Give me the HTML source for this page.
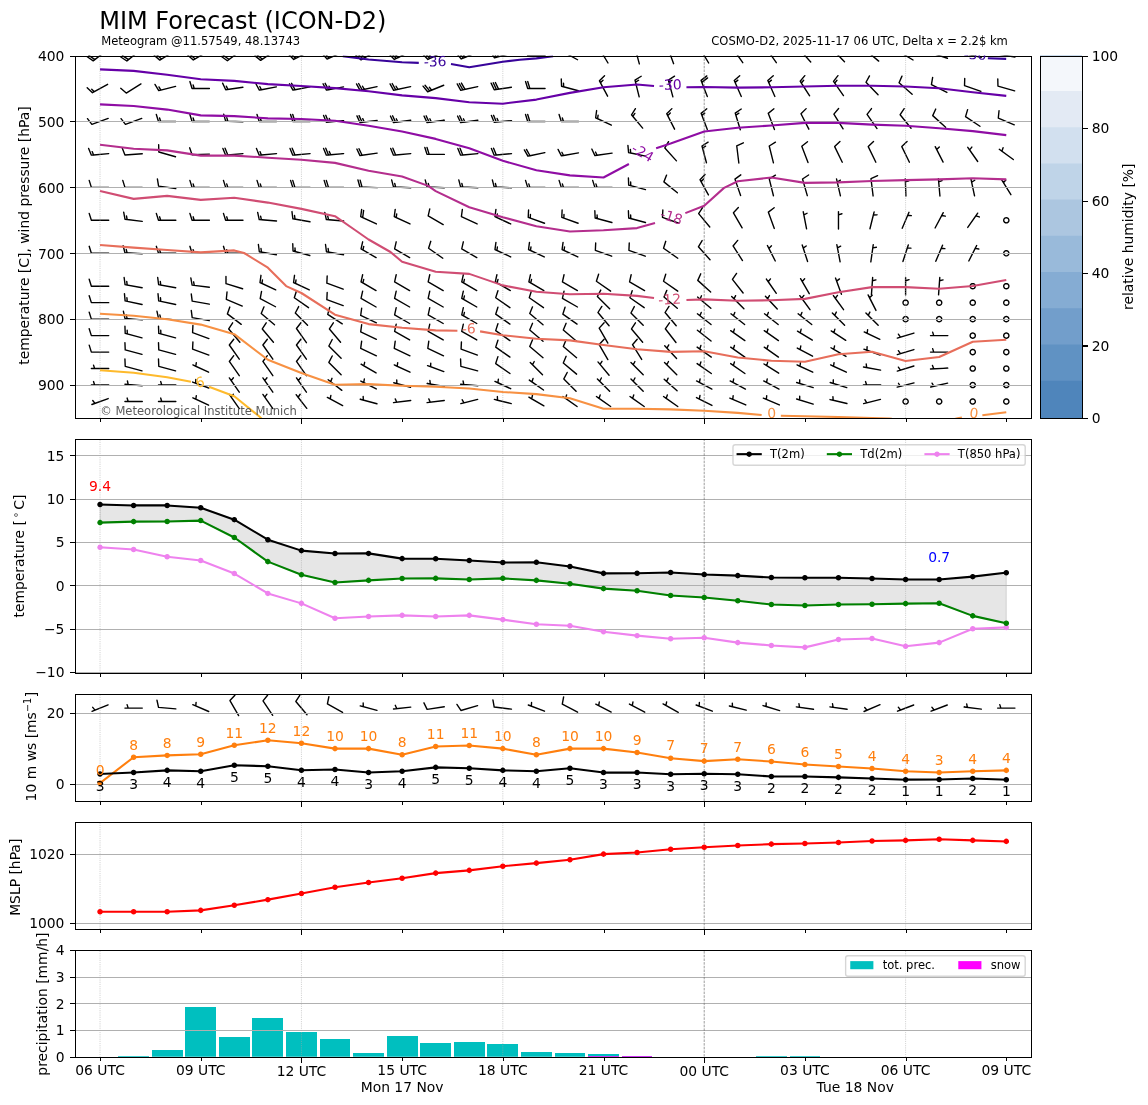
<!DOCTYPE html>
<html><head><meta charset="utf-8"><title>MIM Forecast (ICON-D2)</title><style>html,body{margin:0;padding:0;background:#fff;width:1148px;height:1105px;overflow:hidden}svg{display:block}g[id^="crisp"] path{shape-rendering:crispEdges}</style></head><body>
<svg width="1148" height="1105" viewBox="0 0 826.56 795.6" version="1.1">
 <defs>
  <style type="text/css">*{stroke-linejoin: round; stroke-linecap: butt}</style>
 </defs>
 <g id="figure_1">
  <g id="patch_1">
   <path d="M 0 795.6 L 826.56 795.6 L 826.56 0 L 0 0 z" style="fill: #ffffff"/>
  </g>
  <g id="axes_1">
   <g id="patch_2">
    <path d="M 54 300.96 L 742.32 300.96 L 742.32 39.99 L 54 39.99 z" style="fill: #ffffff"/>
   </g>
   <g id="Barbs_1">
    <path d="M 76.96 36.14 L 67.11 43.84 L 62.80 40.86 L 67.11 43.84 L 68.34 42.88 L 64.03 39.90 L 68.34 42.88 z" clip-path="url(#p112c683f5e)" style="stroke: #000000"/>
    <path d="M 101.05 36.06 L 91.34 43.92 L 86.98 41.02 L 91.34 43.92 L 92.55 42.94 L 88.19 40.04 L 92.55 42.94 z" clip-path="url(#p112c683f5e)" style="stroke: #000000"/>
    <path d="M 125.66 36.68 L 115.06 43.30 L 111.09 39.89 L 115.06 43.30 L 116.39 42.47 L 112.41 39.06 L 116.39 42.47 z" clip-path="url(#p112c683f5e)" style="stroke: #000000"/>
    <path d="M 149.89 36.77 L 139.17 43.21 L 135.26 39.73 L 139.17 43.21 L 140.51 42.41 L 136.60 38.92 L 140.51 42.41 z" clip-path="url(#p112c683f5e)" style="stroke: #000000"/>
    <path d="M 173.69 36.23 L 163.71 43.75 L 159.45 40.70 L 163.71 43.75 L 164.95 42.81 L 160.70 39.76 L 164.95 42.81 z" clip-path="url(#p112c683f5e)" style="stroke: #000000"/>
    <path d="M 198.05 36.50 L 187.68 43.49 L 183.59 40.21 L 187.68 43.49 L 188.98 42.61 L 184.89 39.34 L 188.98 42.61 z" clip-path="url(#p112c683f5e)" style="stroke: #000000"/>
    <path d="M 222.60 37.15 L 211.46 42.83 L 207.80 39.08 L 211.46 42.83 L 212.86 42.12 L 209.19 38.37 L 212.86 42.12 z" clip-path="url(#p112c683f5e)" style="stroke: #000000"/>
    <path d="M 246.91 37.45 L 235.49 42.53 L 232.03 38.60 L 235.49 42.53 L 236.92 41.90 L 233.46 37.97 L 236.92 41.90 z" clip-path="url(#p112c683f5e)" style="stroke: #000000"/>
    <path d="M 270.78 36.87 L 259.95 43.12 L 256.10 39.57 L 259.95 43.12 L 261.31 42.33 L 257.45 38.79 L 261.31 42.33 L 262.66 41.55 L 260.73 39.78 L 262.66 41.55 z" clip-path="url(#p112c683f5e)" style="stroke: #000000"/>
    <path d="M 295.10 37.15 L 283.96 42.83 L 280.30 39.08 L 283.96 42.83 L 285.36 42.12 L 281.69 38.37 L 285.36 42.12 L 286.75 41.41 L 284.92 39.54 L 286.75 41.41 z" clip-path="url(#p112c683f5e)" style="stroke: #000000"/>
    <path d="M 319.27 37.15 L 308.13 42.83 L 304.47 39.08 L 308.13 42.83 L 309.52 42.12 L 305.86 38.37 L 309.52 42.12 L 310.91 41.41 L 309.08 39.54 L 310.91 41.41 z" clip-path="url(#p112c683f5e)" style="stroke: #000000"/>
    <path d="M 343.62 37.55 L 332.11 42.43 L 328.72 38.44 L 332.11 42.43 L 333.55 41.82 L 330.16 37.83 L 333.55 41.82 L 334.99 41.21 L 333.29 39.22 L 334.99 41.21 z" clip-path="url(#p112c683f5e)" style="stroke: #000000"/>
    <path d="M 368.07 38.37 L 356.00 41.61 L 353.19 37.18 L 356.00 41.61 L 357.50 41.20 L 354.70 36.78 L 357.50 41.20 L 359.01 40.80 L 357.61 38.59 L 359.01 40.80 z" clip-path="url(#p112c683f5e)" style="stroke: #000000"/>
    <path d="M 392.45 39.99 L 379.95 39.99 L 378.39 34.99 L 379.95 39.99 L 381.51 39.99 L 379.95 34.99 L 381.51 39.99 z" clip-path="url(#p112c683f5e)" style="stroke: #000000"/>
    <path d="M 415.83 43.02 L 404.90 36.96 L 405.96 31.83 L 404.90 36.96 L 406.27 37.72 L 406.80 35.15 L 406.27 37.72 z" clip-path="url(#p112c683f5e)" style="stroke: #000000"/>
    <path d="M 437.75 45.35 L 431.31 34.63 L 434.80 30.72 L 431.31 34.63 L 432.12 35.97 L 433.86 34.02 L 432.12 35.97 z" clip-path="url(#p112c683f5e)" style="stroke: #000000"/>
    <path d="M 460.32 46.03 L 457.08 33.95 L 461.51 31.15 L 457.08 33.95 L 457.49 35.46 L 459.70 34.06 L 457.49 35.46 z" clip-path="url(#p112c683f5e)" style="stroke: #000000"/>
    <path d="M 485.00 45.86 L 480.73 34.12 L 484.89 30.94 L 480.73 34.12 L 481.26 35.59 L 483.35 34.00 L 481.26 35.59 z" clip-path="url(#p112c683f5e)" style="stroke: #000000"/>
    <path d="M 510.25 45.35 L 503.81 34.63 L 507.30 30.72 L 503.81 34.63 L 504.62 35.97 L 506.36 34.02 L 504.62 35.97 z" clip-path="url(#p112c683f5e)" style="stroke: #000000"/>
    <path d="M 534.79 45.11 L 527.62 34.87 L 530.81 30.72 L 527.62 34.87 L 528.51 36.15 L 530.11 34.08 L 528.51 36.15 z" clip-path="url(#p112c683f5e)" style="stroke: #000000"/>
    <path d="M 558.95 45.11 L 551.78 34.87 L 554.98 30.72 L 551.78 34.87 L 552.68 36.15 L 554.28 34.08 L 552.68 36.15 z" clip-path="url(#p112c683f5e)" style="stroke: #000000"/>
    <path d="M 583.72 44.64 L 575.35 35.35 L 578.02 30.84 L 575.35 35.35 L 576.40 36.51 L 577.73 34.25 L 576.40 36.51 z" clip-path="url(#p112c683f5e)" style="stroke: #000000"/>
    <path d="M 608.04 44.49 L 599.36 35.50 L 601.87 30.90 L 599.36 35.50 L 600.44 36.62 L 601.70 34.32 L 600.44 36.62 z" clip-path="url(#p112c683f5e)" style="stroke: #000000"/>
    <path d="M 632.66 44.01 L 623.08 35.97 L 625.10 31.14 L 623.08 35.97 L 624.28 36.98 L 625.29 34.56 L 624.28 36.98 z" clip-path="url(#p112c683f5e)" style="stroke: #000000"/>
    <path d="M 657.39 43.21 L 646.68 36.77 L 647.91 31.68 L 646.68 36.77 L 648.02 37.58 L 648.63 35.03 L 648.02 37.58 z" clip-path="url(#p112c683f5e)" style="stroke: #000000"/>
    <path d="M 682.15 41.92 L 670.26 38.06 L 670.32 32.82 L 670.26 38.06 L 671.74 38.54 L 671.77 35.92 L 671.74 38.54 z" clip-path="url(#p112c683f5e)" style="stroke: #000000"/>
    <path d="M 706.48 41.29 L 694.25 38.69 L 693.77 33.48 L 694.25 38.69 L 695.78 39.02 L 695.54 36.41 L 695.78 39.02 z" clip-path="url(#p112c683f5e)" style="stroke: #000000"/>
    <path d="M 730.69 41.08 L 718.38 38.91 L 717.71 33.71 L 718.38 38.91 L 719.92 39.18 L 719.58 36.58 L 719.92 39.18 z" clip-path="url(#p112c683f5e)" style="stroke: #000000"/>
    <path d="M 77.50 60.68 L 66.56 66.75 L 62.77 63.13 L 66.56 66.75 L 67.93 65.99 L 66.04 64.18 L 67.93 65.99 z" clip-path="url(#p112c683f5e)" style="stroke: #000000"/>
    <path d="M 101.50 60.40 L 90.90 67.03 L 86.92 63.61 L 90.90 67.03 z" clip-path="url(#p112c683f5e)" style="stroke: #000000"/>
    <path d="M 126.43 62.20 L 114.30 65.23 L 111.57 60.75 L 114.30 65.23 L 115.82 64.85 L 114.45 62.61 L 115.82 64.85 z" clip-path="url(#p112c683f5e)" style="stroke: #000000"/>
    <path d="M 150.78 63.72 L 138.28 63.72 L 136.72 58.72 L 138.28 63.72 L 139.84 63.72 L 139.06 61.22 L 139.84 63.72 z" clip-path="url(#p112c683f5e)" style="stroke: #000000"/>
    <path d="M 174.89 62.85 L 162.51 64.58 L 160.27 59.85 L 162.51 64.58 L 164.06 64.37 L 162.93 62.00 L 164.06 64.37 z" clip-path="url(#p112c683f5e)" style="stroke: #000000"/>
    <path d="M 199.00 62.52 L 186.73 64.91 L 184.24 60.30 L 186.73 64.91 L 188.26 64.61 L 187.02 62.30 L 188.26 64.61 z" clip-path="url(#p112c683f5e)" style="stroke: #000000"/>
    <path d="M 223.17 62.52 L 210.90 64.91 L 208.41 60.30 L 210.90 64.91 L 212.43 64.61 L 209.94 60.00 L 212.43 64.61 z" clip-path="url(#p112c683f5e)" style="stroke: #000000"/>
    <path d="M 247.33 62.52 L 235.06 64.91 L 232.58 60.30 L 235.06 64.91 L 236.60 64.61 L 234.11 60.00 L 236.60 64.61 L 238.13 64.31 L 236.89 62.01 L 238.13 64.31 z" clip-path="url(#p112c683f5e)" style="stroke: #000000"/>
    <path d="M 271.48 62.42 L 259.25 65.01 L 256.68 60.45 L 259.25 65.01 L 260.78 64.69 L 258.21 60.12 L 260.78 64.69 L 262.31 64.36 L 261.02 62.08 L 262.31 64.36 z" clip-path="url(#p112c683f5e)" style="stroke: #000000"/>
    <path d="M 295.65 62.42 L 283.42 65.01 L 280.85 60.45 L 283.42 65.01 L 284.95 64.69 L 282.38 60.12 L 284.95 64.69 L 286.48 64.36 L 285.19 62.08 L 286.48 64.36 z" clip-path="url(#p112c683f5e)" style="stroke: #000000"/>
    <path d="M 319.49 61.37 L 307.90 66.06 L 304.58 62.01 L 307.90 66.06 L 309.35 65.47 L 306.03 61.42 L 309.35 65.47 L 310.80 64.89 L 309.14 62.86 L 310.80 64.89 z" clip-path="url(#p112c683f5e)" style="stroke: #000000"/>
    <path d="M 343.98 62.42 L 331.75 65.01 L 329.18 60.45 L 331.75 65.01 L 333.28 64.69 L 330.71 60.12 L 333.28 64.69 L 334.81 64.36 L 332.24 59.80 L 334.81 64.36 z" clip-path="url(#p112c683f5e)" style="stroke: #000000"/>
    <path d="M 368.22 62.85 L 355.84 64.58 L 353.60 59.85 L 355.84 64.58 L 357.39 64.37 L 355.15 59.63 L 357.39 64.37 L 358.94 64.15 L 356.69 59.42 L 358.94 64.15 z" clip-path="url(#p112c683f5e)" style="stroke: #000000"/>
    <path d="M 392.45 63.72 L 379.95 63.72 L 378.39 58.72 L 379.95 63.72 L 381.51 63.72 L 379.95 58.72 L 381.51 63.72 z" clip-path="url(#p112c683f5e)" style="stroke: #000000"/>
    <path d="M 416.40 65.33 L 404.33 62.10 L 404.11 56.86 L 404.33 62.10 L 405.84 62.50 L 405.73 59.88 L 405.84 62.50 z" clip-path="url(#p112c683f5e)" style="stroke: #000000"/>
    <path d="M 437.47 69.23 L 431.60 58.20 L 435.28 54.47 L 431.60 58.20 L 432.33 59.58 L 434.17 57.71 L 432.33 59.58 z" clip-path="url(#p112c683f5e)" style="stroke: #000000"/>
    <path d="M 460.21 69.78 L 457.19 57.65 L 461.66 54.92 L 457.19 57.65 L 457.57 59.17 L 459.80 57.80 L 457.57 59.17 z" clip-path="url(#p112c683f5e)" style="stroke: #000000"/>
    <path d="M 484.48 69.75 L 481.25 57.68 L 485.67 54.87 L 481.25 57.68 L 481.65 59.19 L 483.87 57.79 L 481.65 59.19 z" clip-path="url(#p112c683f5e)" style="stroke: #000000"/>
    <path d="M 509.27 69.55 L 504.79 57.88 L 508.90 54.63 L 504.79 57.88 L 505.35 59.34 L 509.46 56.09 L 505.35 59.34 z" clip-path="url(#p112c683f5e)" style="stroke: #000000"/>
    <path d="M 533.74 69.42 L 528.66 58.01 L 532.59 54.54 L 528.66 58.01 L 529.29 59.43 L 531.26 57.70 L 529.29 59.43 z" clip-path="url(#p112c683f5e)" style="stroke: #000000"/>
    <path d="M 557.91 69.42 L 552.82 58.01 L 556.76 54.54 L 552.82 58.01 L 553.46 59.43 L 555.43 57.70 L 553.46 59.43 z" clip-path="url(#p112c683f5e)" style="stroke: #000000"/>
    <path d="M 582.94 68.96 L 576.13 58.47 L 579.47 54.44 L 576.13 58.47 L 576.98 59.78 L 578.65 57.77 L 576.98 59.78 z" clip-path="url(#p112c683f5e)" style="stroke: #000000"/>
    <path d="M 607.29 68.83 L 600.12 58.60 L 603.32 54.45 L 600.12 58.60 L 601.01 59.88 L 602.61 57.80 L 601.01 59.88 z" clip-path="url(#p112c683f5e)" style="stroke: #000000"/>
    <path d="M 632.21 68.21 L 623.53 59.22 L 626.04 54.62 L 623.53 59.22 z" clip-path="url(#p112c683f5e)" style="stroke: #000000"/>
    <path d="M 656.75 67.82 L 647.32 59.61 L 649.42 54.82 L 647.32 59.61 z" clip-path="url(#p112c683f5e)" style="stroke: #000000"/>
    <path d="M 681.77 66.55 L 670.63 60.88 L 671.51 55.71 L 670.63 60.88 z" clip-path="url(#p112c683f5e)" style="stroke: #000000"/>
    <path d="M 706.28 65.75 L 694.46 61.68 L 694.61 56.44 L 694.46 61.68 z" clip-path="url(#p112c683f5e)" style="stroke: #000000"/>
    <path d="M 730.54 65.44 L 718.53 61.99 L 718.40 56.76 L 718.53 61.99 z" clip-path="url(#p112c683f5e)" style="stroke: #000000"/>
    <path d="M 77.90 85.30 L 66.16 89.58 L 62.98 85.41 L 66.16 89.58 z" clip-path="url(#p112c683f5e)" style="stroke: #000000"/>
    <path d="M 102.07 85.30 L 90.32 89.58 L 87.15 85.41 L 90.32 89.58 z" clip-path="url(#p112c683f5e)" style="stroke: #000000"/>
    <path d="M 126.61 87.44 L 114.11 87.44 L 112.55 82.44 L 114.11 87.44 L 115.68 87.44 L 114.90 84.94 L 115.68 87.44 z" clip-path="url(#p112c683f5e)" style="stroke: #000000"/>
    <path d="M 150.78 87.44 L 138.28 87.44 L 136.72 82.44 L 138.28 87.44 L 139.84 87.44 L 139.06 84.94 L 139.84 87.44 z" clip-path="url(#p112c683f5e)" style="stroke: #000000"/>
    <path d="M 174.94 87.66 L 162.45 87.22 L 161.06 82.17 L 162.45 87.22 L 164.01 87.28 L 163.32 84.75 L 164.01 87.28 z" clip-path="url(#p112c683f5e)" style="stroke: #000000"/>
    <path d="M 199.12 87.44 L 186.62 87.44 L 185.05 82.44 L 186.62 87.44 L 188.18 87.44 L 187.40 84.94 L 188.18 87.44 z" clip-path="url(#p112c683f5e)" style="stroke: #000000"/>
    <path d="M 223.28 87.44 L 210.78 87.44 L 209.22 82.44 L 210.78 87.44 L 212.34 87.44 L 210.78 82.44 L 212.34 87.44 z" clip-path="url(#p112c683f5e)" style="stroke: #000000"/>
    <path d="M 247.42 86.89 L 234.97 87.98 L 232.98 83.14 L 234.97 87.98 L 236.53 87.85 L 234.54 83.00 L 236.53 87.85 L 238.09 87.71 L 237.09 85.29 L 238.09 87.71 z" clip-path="url(#p112c683f5e)" style="stroke: #000000"/>
    <path d="M 271.57 86.68 L 259.16 88.20 L 257.00 83.43 L 259.16 88.20 L 260.71 88.01 L 258.55 83.24 L 260.71 88.01 L 262.26 87.82 L 261.18 85.43 L 262.26 87.82 z" clip-path="url(#p112c683f5e)" style="stroke: #000000"/>
    <path d="M 295.72 86.57 L 283.34 88.31 L 281.10 83.57 L 283.34 88.31 L 284.89 88.09 L 282.65 83.36 L 284.89 88.09 L 286.44 87.87 L 285.32 85.51 L 286.44 87.87 z" clip-path="url(#p112c683f5e)" style="stroke: #000000"/>
    <path d="M 319.89 86.57 L 307.51 88.31 L 305.27 83.57 L 307.51 88.31 L 309.06 88.09 L 306.81 83.36 L 309.06 88.09 L 310.60 87.87 L 309.48 85.51 L 310.60 87.87 z" clip-path="url(#p112c683f5e)" style="stroke: #000000"/>
    <path d="M 344.05 86.57 L 331.68 88.31 L 329.43 83.57 L 331.68 88.31 L 333.22 88.09 L 330.98 83.36 L 333.22 88.09 L 334.77 87.87 L 333.65 85.51 L 334.77 87.87 z" clip-path="url(#p112c683f5e)" style="stroke: #000000"/>
    <path d="M 368.26 86.89 L 355.81 87.98 L 353.81 83.14 L 355.81 87.98 L 357.36 87.85 L 355.37 83.00 L 357.36 87.85 L 358.92 87.71 L 357.92 85.29 L 358.92 87.71 z" clip-path="url(#p112c683f5e)" style="stroke: #000000"/>
    <path d="M 392.45 87.44 L 379.95 87.44 L 378.39 82.44 L 379.95 87.44 L 381.51 87.44 L 379.95 82.44 L 381.51 87.44 z" clip-path="url(#p112c683f5e)" style="stroke: #000000"/>
    <path d="M 416.62 87.44 L 404.12 87.44 L 402.55 82.44 L 404.12 87.44 L 405.68 87.44 L 404.90 84.94 L 405.68 87.44 z" clip-path="url(#p112c683f5e)" style="stroke: #000000"/>
    <path d="M 440.20 90.08 L 428.87 84.80 L 429.57 79.61 L 428.87 84.80 L 430.28 85.46 L 430.63 82.86 L 430.28 85.46 z" clip-path="url(#p112c683f5e)" style="stroke: #000000"/>
    <path d="M 462.72 92.23 L 454.68 82.65 L 457.51 78.24 L 454.68 82.65 L 455.69 83.85 L 457.10 81.64 L 455.69 83.85 z" clip-path="url(#p112c683f5e)" style="stroke: #000000"/>
    <path d="M 485.70 93.01 L 480.03 81.87 L 483.77 78.21 L 480.03 81.87 L 480.74 83.26 L 482.61 81.43 L 480.74 83.26 z" clip-path="url(#p112c683f5e)" style="stroke: #000000"/>
    <path d="M 509.27 93.27 L 504.79 81.60 L 508.90 78.35 L 504.79 81.60 L 505.35 83.06 L 507.41 81.44 L 505.35 83.06 z" clip-path="url(#p112c683f5e)" style="stroke: #000000"/>
    <path d="M 533.03 93.42 L 529.37 81.46 L 533.70 78.51 L 529.37 81.46 L 529.83 82.96 L 531.99 81.48 L 529.83 82.96 z" clip-path="url(#p112c683f5e)" style="stroke: #000000"/>
    <path d="M 557.61 93.27 L 553.13 81.60 L 557.24 78.35 L 553.13 81.60 z" clip-path="url(#p112c683f5e)" style="stroke: #000000"/>
    <path d="M 582.37 93.01 L 576.70 81.87 L 580.44 78.21 L 576.70 81.87 z" clip-path="url(#p112c683f5e)" style="stroke: #000000"/>
    <path d="M 607.01 92.74 L 600.39 82.14 L 603.80 78.16 L 600.39 82.14 z" clip-path="url(#p112c683f5e)" style="stroke: #000000"/>
    <path d="M 631.45 92.56 L 624.28 82.32 L 627.48 78.17 L 624.28 82.32 z" clip-path="url(#p112c683f5e)" style="stroke: #000000"/>
    <path d="M 655.97 92.30 L 648.10 82.58 L 651.00 78.22 L 648.10 82.58 z" clip-path="url(#p112c683f5e)" style="stroke: #000000"/>
    <path d="M 680.85 91.62 L 671.56 83.26 L 673.74 78.50 L 671.56 83.26 z" clip-path="url(#p112c683f5e)" style="stroke: #000000"/>
    <path d="M 705.55 90.93 L 695.19 83.94 L 696.69 78.93 L 695.19 83.94 z" clip-path="url(#p112c683f5e)" style="stroke: #000000"/>
    <path d="M 730.29 89.88 L 718.78 85.00 L 719.30 79.78 L 718.78 85.00 z" clip-path="url(#p112c683f5e)" style="stroke: #000000"/>
    <path d="M 78.26 110.62 L 65.80 111.71 L 63.81 106.86 L 65.80 111.71 L 67.36 111.57 L 66.37 109.15 L 67.36 111.57 z" clip-path="url(#p112c683f5e)" style="stroke: #000000"/>
    <path d="M 102.43 110.73 L 89.96 111.60 L 88.06 106.72 L 89.96 111.60 z" clip-path="url(#p112c683f5e)" style="stroke: #000000"/>
    <path d="M 126.37 112.89 L 114.36 109.44 L 114.23 104.20 L 114.36 109.44 z" clip-path="url(#p112c683f5e)" style="stroke: #000000"/>
    <path d="M 150.78 110.94 L 138.29 111.38 L 136.55 106.44 L 138.29 111.38 z" clip-path="url(#p112c683f5e)" style="stroke: #000000"/>
    <path d="M 174.92 110.62 L 162.47 111.71 L 160.48 106.86 L 162.47 111.71 L 164.03 111.57 L 162.04 106.73 L 164.03 111.57 z" clip-path="url(#p112c683f5e)" style="stroke: #000000"/>
    <path d="M 199.09 110.62 L 186.64 111.71 L 184.65 106.86 L 186.64 111.71 L 188.20 111.57 L 187.20 109.15 L 188.20 111.57 z" clip-path="url(#p112c683f5e)" style="stroke: #000000"/>
    <path d="M 223.26 110.62 L 210.81 111.71 L 208.81 106.86 L 210.81 111.71 L 212.36 111.57 L 210.37 106.73 L 212.36 111.57 z" clip-path="url(#p112c683f5e)" style="stroke: #000000"/>
    <path d="M 247.42 110.62 L 234.97 111.71 L 232.98 106.86 L 234.97 111.71 L 236.53 111.57 L 234.54 106.73 L 236.53 111.57 L 238.09 111.44 L 237.09 109.01 L 238.09 111.44 z" clip-path="url(#p112c683f5e)" style="stroke: #000000"/>
    <path d="M 271.55 110.29 L 259.18 112.03 L 256.93 107.30 L 259.18 112.03 L 260.72 111.82 L 258.48 107.08 L 260.72 111.82 z" clip-path="url(#p112c683f5e)" style="stroke: #000000"/>
    <path d="M 295.76 110.62 L 283.31 111.71 L 281.31 106.86 L 283.31 111.71 L 284.86 111.57 L 282.87 106.73 L 284.86 111.57 z" clip-path="url(#p112c683f5e)" style="stroke: #000000"/>
    <path d="M 319.95 111.16 L 307.45 111.16 L 305.89 106.16 L 307.45 111.16 L 309.01 111.16 L 307.45 106.16 L 309.01 111.16 z" clip-path="url(#p112c683f5e)" style="stroke: #000000"/>
    <path d="M 344.09 110.62 L 331.64 111.71 L 329.65 106.86 L 331.64 111.71 L 333.20 111.57 L 331.20 106.73 L 333.20 111.57 z" clip-path="url(#p112c683f5e)" style="stroke: #000000"/>
    <path d="M 368.26 110.62 L 355.81 111.71 L 353.81 106.86 L 355.81 111.71 L 357.36 111.57 L 355.37 106.73 L 357.36 111.57 z" clip-path="url(#p112c683f5e)" style="stroke: #000000"/>
    <path d="M 392.31 109.86 L 380.09 112.46 L 377.52 107.90 L 380.09 112.46 L 381.61 112.14 L 379.05 107.57 L 381.61 112.14 z" clip-path="url(#p112c683f5e)" style="stroke: #000000"/>
    <path d="M 416.52 110.08 L 404.21 112.25 L 401.80 107.60 L 404.21 112.25 L 405.75 111.98 L 404.55 109.65 L 405.75 111.98 z" clip-path="url(#p112c683f5e)" style="stroke: #000000"/>
    <path d="M 440.72 110.29 L 428.34 112.03 L 426.10 107.30 L 428.34 112.03 L 429.89 111.82 L 428.77 109.45 L 429.89 111.82 z" clip-path="url(#p112c683f5e)" style="stroke: #000000"/>
    <path d="M 464.81 112.46 L 452.59 109.86 L 452.10 104.65 L 452.59 109.86 L 454.11 110.19 L 453.87 107.58 L 454.11 110.19 z" clip-path="url(#p112c683f5e)" style="stroke: #000000"/>
    <path d="M 487.05 115.81 L 478.68 106.52 L 481.35 102.01 L 478.68 106.52 z" clip-path="url(#p112c683f5e)" style="stroke: #000000"/>
    <path d="M 508.65 117.20 L 505.42 105.13 L 509.84 102.32 L 505.42 105.13 L 505.82 106.64 L 508.03 105.23 L 505.82 106.64 z" clip-path="url(#p112c683f5e)" style="stroke: #000000"/>
    <path d="M 531.96 117.37 L 530.44 104.96 L 535.21 102.80 L 530.44 104.96 z" clip-path="url(#p112c683f5e)" style="stroke: #000000"/>
    <path d="M 556.88 117.23 L 553.85 105.10 L 558.33 102.37 L 553.85 105.10 z" clip-path="url(#p112c683f5e)" style="stroke: #000000"/>
    <path d="M 581.77 117.00 L 577.29 105.33 L 581.40 102.08 L 577.29 105.33 z" clip-path="url(#p112c683f5e)" style="stroke: #000000"/>
    <path d="M 606.44 116.78 L 600.96 105.55 L 604.77 101.95 L 600.96 105.55 z" clip-path="url(#p112c683f5e)" style="stroke: #000000"/>
    <path d="M 630.61 116.78 L 625.13 105.55 L 628.94 101.95 L 625.13 105.55 z" clip-path="url(#p112c683f5e)" style="stroke: #000000"/>
    <path d="M 654.77 116.78 L 649.29 105.55 L 653.10 101.95 L 649.29 105.55 z" clip-path="url(#p112c683f5e)" style="stroke: #000000"/>
    <path d="M 679.04 116.73 L 673.36 105.59 L 674.43 107.68 L 676.30 105.85 L 674.43 107.68 z" clip-path="url(#p112c683f5e)" style="stroke: #000000"/>
    <path d="M 703.95 116.28 L 696.78 106.04 L 698.13 107.96 L 699.73 105.89 L 698.13 107.96 z" clip-path="url(#p112c683f5e)" style="stroke: #000000"/>
    <path d="M 729.59 114.84 L 719.48 107.49 L 721.37 108.87 L 722.21 106.39 L 721.37 108.87 z" clip-path="url(#p112c683f5e)" style="stroke: #000000"/>
    <path d="M 78.28 134.89 L 65.78 134.89 L 64.22 129.89 L 65.78 134.89 z" clip-path="url(#p112c683f5e)" style="stroke: #000000"/>
    <path d="M 102.45 134.89 L 89.95 134.89 L 88.39 129.89 L 89.95 134.89 z" clip-path="url(#p112c683f5e)" style="stroke: #000000"/>
    <path d="M 126.55 135.76 L 114.18 134.02 L 113.32 128.85 L 114.18 134.02 z" clip-path="url(#p112c683f5e)" style="stroke: #000000"/>
    <path d="M 150.78 134.89 L 138.28 134.89 L 136.72 129.89 L 138.28 134.89 L 139.84 134.89 L 139.06 132.39 L 139.84 134.89 z" clip-path="url(#p112c683f5e)" style="stroke: #000000"/>
    <path d="M 174.95 134.89 L 162.45 134.89 L 160.89 129.89 L 162.45 134.89 L 164.01 134.89 L 163.23 132.39 L 164.01 134.89 z" clip-path="url(#p112c683f5e)" style="stroke: #000000"/>
    <path d="M 199.12 134.89 L 186.62 134.89 L 185.05 129.89 L 186.62 134.89 L 188.18 134.89 L 187.40 132.39 L 188.18 134.89 z" clip-path="url(#p112c683f5e)" style="stroke: #000000"/>
    <path d="M 223.28 134.89 L 210.78 134.89 L 209.22 129.89 L 210.78 134.89 L 212.34 134.89 L 210.78 129.89 L 212.34 134.89 z" clip-path="url(#p112c683f5e)" style="stroke: #000000"/>
    <path d="M 247.45 134.89 L 234.95 134.89 L 233.39 129.89 L 234.95 134.89 L 236.51 134.89 L 234.95 129.89 L 236.51 134.89 z" clip-path="url(#p112c683f5e)" style="stroke: #000000"/>
    <path d="M 271.61 135.11 L 259.12 134.67 L 257.73 129.62 L 259.12 134.67 L 260.68 134.72 L 259.29 129.67 L 260.68 134.72 z" clip-path="url(#p112c683f5e)" style="stroke: #000000"/>
    <path d="M 295.77 135.21 L 283.29 134.56 L 281.99 129.48 L 283.29 134.56 L 284.85 134.64 L 284.20 132.10 L 284.85 134.64 z" clip-path="url(#p112c683f5e)" style="stroke: #000000"/>
    <path d="M 319.94 135.21 L 307.46 134.56 L 306.16 129.48 L 307.46 134.56 L 309.02 134.64 L 308.37 132.10 L 309.02 134.64 z" clip-path="url(#p112c683f5e)" style="stroke: #000000"/>
    <path d="M 344.11 135.21 L 331.62 134.56 L 330.33 129.48 L 331.62 134.56 L 333.18 134.64 L 332.54 132.10 L 333.18 134.64 z" clip-path="url(#p112c683f5e)" style="stroke: #000000"/>
    <path d="M 368.27 135.21 L 355.79 134.56 L 354.49 129.48 L 355.79 134.56 L 357.35 134.64 L 356.70 132.10 L 357.35 134.64 z" clip-path="url(#p112c683f5e)" style="stroke: #000000"/>
    <path d="M 392.45 134.89 L 379.95 134.89 L 378.39 129.89 L 379.95 134.89 L 381.51 134.89 L 380.73 132.39 L 381.51 134.89 z" clip-path="url(#p112c683f5e)" style="stroke: #000000"/>
    <path d="M 416.62 134.89 L 404.12 134.89 L 402.55 129.89 L 404.12 134.89 L 405.68 134.89 L 404.90 132.39 L 405.68 134.89 z" clip-path="url(#p112c683f5e)" style="stroke: #000000"/>
    <path d="M 440.78 134.89 L 428.28 134.89 L 426.72 129.89 L 428.28 134.89 L 429.85 134.89 L 429.06 132.39 L 429.85 134.89 z" clip-path="url(#p112c683f5e)" style="stroke: #000000"/>
    <path d="M 464.74 136.50 L 452.66 133.27 L 452.45 128.04 L 452.66 133.27 L 454.17 133.67 L 454.06 131.06 L 454.17 133.67 z" clip-path="url(#p112c683f5e)" style="stroke: #000000"/>
    <path d="M 487.72 138.82 L 478.01 130.95 L 479.94 126.08 L 478.01 130.95 z" clip-path="url(#p112c683f5e)" style="stroke: #000000"/>
    <path d="M 510.06 140.35 L 504.00 129.42 L 507.62 125.63 L 504.00 129.42 L 504.76 130.79 L 506.57 128.89 L 504.76 130.79 z" clip-path="url(#p112c683f5e)" style="stroke: #000000"/>
    <path d="M 533.24 140.80 L 529.17 128.98 L 533.38 125.87 L 529.17 128.98 z" clip-path="url(#p112c683f5e)" style="stroke: #000000"/>
    <path d="M 556.88 140.95 L 553.85 128.82 L 558.33 126.10 L 553.85 128.82 z" clip-path="url(#p112c683f5e)" style="stroke: #000000"/>
    <path d="M 581.26 140.89 L 577.81 128.88 L 582.19 126.00 L 577.81 128.88 z" clip-path="url(#p112c683f5e)" style="stroke: #000000"/>
    <path d="M 605.11 140.98 L 602.29 128.80 L 602.82 131.08 L 605.08 129.76 L 602.82 131.08 z" clip-path="url(#p112c683f5e)" style="stroke: #000000"/>
    <path d="M 628.63 141.09 L 627.11 128.68 L 631.88 126.52 L 627.11 128.68 z" clip-path="url(#p112c683f5e)" style="stroke: #000000"/>
    <path d="M 652.25 141.13 L 651.82 128.64 L 651.90 130.98 L 654.37 130.12 L 651.90 130.98 z" clip-path="url(#p112c683f5e)" style="stroke: #000000"/>
    <path d="M 676.75 141.11 L 675.66 128.66 L 675.86 131.00 L 678.28 130.00 L 675.86 131.00 z" clip-path="url(#p112c683f5e)" style="stroke: #000000"/>
    <path d="M 701.67 141.00 L 699.07 128.77 L 699.56 131.07 L 701.84 129.78 L 699.56 131.07 z" clip-path="url(#p112c683f5e)" style="stroke: #000000"/>
    <path d="M 727.85 140.19 L 721.22 129.59 L 722.46 131.57 L 724.17 129.59 L 722.46 131.57 z" clip-path="url(#p112c683f5e)" style="stroke: #000000"/>
    <path d="M 78.28 158.61 L 65.78 158.61 L 64.22 153.61 L 65.78 158.61 z" clip-path="url(#p112c683f5e)" style="stroke: #000000"/>
    <path d="M 102.40 159.37 L 89.99 157.85 L 89.05 152.70 L 89.99 157.85 L 91.55 158.04 L 91.07 155.46 L 91.55 158.04 z" clip-path="url(#p112c683f5e)" style="stroke: #000000"/>
    <path d="M 126.61 158.61 L 114.11 158.61 L 112.55 153.61 L 114.11 158.61 L 115.68 158.61 L 114.90 156.11 L 115.68 158.61 z" clip-path="url(#p112c683f5e)" style="stroke: #000000"/>
    <path d="M 150.78 158.61 L 138.28 158.61 L 136.72 153.61 L 138.28 158.61 L 139.84 158.61 L 139.06 156.11 L 139.84 158.61 z" clip-path="url(#p112c683f5e)" style="stroke: #000000"/>
    <path d="M 174.95 158.61 L 162.45 158.61 L 160.89 153.61 L 162.45 158.61 L 164.01 158.61 L 163.23 156.11 L 164.01 158.61 z" clip-path="url(#p112c683f5e)" style="stroke: #000000"/>
    <path d="M 199.09 159.16 L 186.64 158.07 L 185.52 152.95 L 186.64 158.07 L 188.20 158.20 L 187.63 155.64 L 188.20 158.20 z" clip-path="url(#p112c683f5e)" style="stroke: #000000"/>
    <path d="M 223.19 159.70 L 210.88 157.53 L 210.21 152.33 L 210.88 157.53 L 212.42 157.80 L 212.08 155.20 L 212.42 157.80 z" clip-path="url(#p112c683f5e)" style="stroke: #000000"/>
    <path d="M 247.42 159.16 L 234.97 158.07 L 233.85 152.95 L 234.97 158.07 L 236.53 158.20 L 235.97 155.64 L 236.53 158.20 z" clip-path="url(#p112c683f5e)" style="stroke: #000000"/>
    <path d="M 271.03 161.25 L 259.70 155.97 L 260.40 150.78 L 259.70 155.97 L 261.12 156.63 L 261.81 151.44 L 261.12 156.63 z" clip-path="url(#p112c683f5e)" style="stroke: #000000"/>
    <path d="M 295.20 161.25 L 283.87 155.97 L 284.56 150.78 L 283.87 155.97 L 285.28 156.63 L 285.63 154.03 L 285.28 156.63 z" clip-path="url(#p112c683f5e)" style="stroke: #000000"/>
    <path d="M 319.11 161.74 L 308.29 155.49 L 309.43 150.37 L 308.29 155.49 z" clip-path="url(#p112c683f5e)" style="stroke: #000000"/>
    <path d="M 343.53 161.25 L 332.20 155.97 L 332.90 150.78 L 332.20 155.97 z" clip-path="url(#p112c683f5e)" style="stroke: #000000"/>
    <path d="M 367.70 161.25 L 356.37 155.97 L 357.07 150.78 L 356.37 155.97 L 357.78 156.63 L 358.13 154.03 L 357.78 156.63 z" clip-path="url(#p112c683f5e)" style="stroke: #000000"/>
    <path d="M 392.07 160.75 L 380.33 156.47 L 380.57 151.24 L 380.33 156.47 L 381.79 157.01 L 381.92 154.39 L 381.79 157.01 z" clip-path="url(#p112c683f5e)" style="stroke: #000000"/>
    <path d="M 416.24 160.75 L 404.49 156.47 L 404.73 151.24 L 404.49 156.47 L 405.96 157.01 L 406.08 154.39 L 405.96 157.01 z" clip-path="url(#p112c683f5e)" style="stroke: #000000"/>
    <path d="M 440.57 160.23 L 428.50 156.99 L 428.28 151.76 L 428.50 156.99 L 430.01 157.40 L 429.90 154.78 L 430.01 157.40 z" clip-path="url(#p112c683f5e)" style="stroke: #000000"/>
    <path d="M 464.74 160.23 L 452.66 156.99 L 452.45 151.76 L 452.66 156.99 L 454.17 157.40 L 454.06 154.78 L 454.17 157.40 z" clip-path="url(#p112c683f5e)" style="stroke: #000000"/>
    <path d="M 488.74 160.75 L 476.99 156.47 L 477.24 151.24 L 476.99 156.47 z" clip-path="url(#p112c683f5e)" style="stroke: #000000"/>
    <path d="M 511.05 163.40 L 503.02 153.82 L 505.84 149.41 L 503.02 153.82 z" clip-path="url(#p112c683f5e)" style="stroke: #000000"/>
    <path d="M 534.33 164.02 L 528.08 153.20 L 531.62 149.35 L 528.08 153.20 z" clip-path="url(#p112c683f5e)" style="stroke: #000000"/>
    <path d="M 557.50 164.48 L 553.23 152.74 L 557.39 149.56 L 553.23 152.74 z" clip-path="url(#p112c683f5e)" style="stroke: #000000"/>
    <path d="M 580.73 164.75 L 578.34 152.48 L 578.79 154.78 L 581.09 153.53 L 578.79 154.78 z" clip-path="url(#p112c683f5e)" style="stroke: #000000"/>
    <path d="M 603.70 164.86 L 603.70 152.36 L 603.70 154.70 L 606.20 153.92 L 603.70 154.70 z" clip-path="url(#p112c683f5e)" style="stroke: #000000"/>
    <path d="M 626.36 164.68 L 629.38 152.55 L 628.81 154.82 L 631.43 154.67 L 628.81 154.82 z" clip-path="url(#p112c683f5e)" style="stroke: #000000"/>
    <path d="M 649.59 164.36 L 654.48 152.86 L 653.56 155.02 L 656.17 155.27 L 653.56 155.02 z" clip-path="url(#p112c683f5e)" style="stroke: #000000"/>
    <path d="M 673.27 164.13 L 679.14 153.09 L 678.03 155.16 L 680.61 155.65 L 678.03 155.16 z" clip-path="url(#p112c683f5e)" style="stroke: #000000"/>
    <path d="M 696.78 163.73 L 703.95 153.49 L 702.61 155.41 L 705.10 156.21 L 702.61 155.41 z" clip-path="url(#p112c683f5e)" style="stroke: #000000"/>
    <path d="M 724.53 156.74 L 723.96 156.83 L 723.43 157.09 L 723.02 157.51 L 722.75 158.03 L 722.66 158.61 L 722.75 159.19 L 723.02 159.71 L 723.43 160.13 L 723.96 160.39 L 724.53 160.49 L 725.11 160.39 L 725.64 160.13 L 726.05 159.71 L 726.32 159.19 L 726.41 158.61 L 726.32 158.03 L 726.05 157.51 L 725.64 157.09 L 725.11 156.83 L 724.53 156.74 L 724.53 156.74 L 725.11 156.83 L 725.64 157.09 L 726.05 157.51 L 726.32 158.03 L 726.41 158.61 L 726.32 159.19 L 726.05 159.71 L 725.64 160.13 L 725.11 160.39 L 724.53 160.49 L 723.96 160.39 L 723.43 160.13 L 723.02 159.71 L 722.75 159.19 L 722.66 158.61 L 722.75 158.03 L 723.02 157.51 L 723.43 157.09 L 723.96 156.83 L 724.53 156.74 z" clip-path="url(#p112c683f5e)" style="stroke: #000000"/>
    <path d="M 78.28 182.34 L 65.78 182.34 L 64.22 177.34 L 65.78 182.34 z" clip-path="url(#p112c683f5e)" style="stroke: #000000"/>
    <path d="M 102.44 182.66 L 89.96 182.01 L 88.66 176.93 L 89.96 182.01 L 91.52 182.09 L 90.87 179.55 L 91.52 182.09 z" clip-path="url(#p112c683f5e)" style="stroke: #000000"/>
    <path d="M 126.61 182.34 L 114.11 182.34 L 112.55 177.34 L 114.11 182.34 L 115.68 182.34 L 114.90 179.84 L 115.68 182.34 z" clip-path="url(#p112c683f5e)" style="stroke: #000000"/>
    <path d="M 150.78 182.34 L 138.28 182.34 L 136.72 177.34 L 138.28 182.34 L 139.84 182.34 L 139.06 179.84 L 139.84 182.34 z" clip-path="url(#p112c683f5e)" style="stroke: #000000"/>
    <path d="M 174.95 182.34 L 162.45 182.34 L 160.89 177.34 L 162.45 182.34 L 164.01 182.34 L 163.23 179.84 L 164.01 182.34 z" clip-path="url(#p112c683f5e)" style="stroke: #000000"/>
    <path d="M 199.02 183.42 L 186.71 181.25 L 186.04 176.05 L 186.71 181.25 L 188.25 181.52 L 187.91 178.92 L 188.25 181.52 z" clip-path="url(#p112c683f5e)" style="stroke: #000000"/>
    <path d="M 223.07 183.95 L 210.99 180.72 L 210.78 175.48 L 210.99 180.72 L 212.50 181.12 L 212.40 178.50 L 212.50 181.12 z" clip-path="url(#p112c683f5e)" style="stroke: #000000"/>
    <path d="M 247.35 183.42 L 235.04 181.25 L 234.37 176.05 L 235.04 181.25 L 236.58 181.52 L 236.25 178.92 L 236.58 181.52 z" clip-path="url(#p112c683f5e)" style="stroke: #000000"/>
    <path d="M 270.78 185.46 L 259.95 179.21 L 261.10 174.10 L 259.95 179.21 L 261.31 179.99 L 261.88 177.44 L 261.31 179.99 z" clip-path="url(#p112c683f5e)" style="stroke: #000000"/>
    <path d="M 294.94 185.46 L 284.12 179.21 L 285.27 174.10 L 284.12 179.21 z" clip-path="url(#p112c683f5e)" style="stroke: #000000"/>
    <path d="M 318.82 185.92 L 308.58 178.75 L 310.17 173.76 L 308.58 178.75 z" clip-path="url(#p112c683f5e)" style="stroke: #000000"/>
    <path d="M 343.28 185.46 L 332.45 179.21 L 333.60 174.10 L 332.45 179.21 z" clip-path="url(#p112c683f5e)" style="stroke: #000000"/>
    <path d="M 367.70 184.98 L 356.37 179.69 L 357.07 174.50 L 356.37 179.69 L 357.78 180.35 L 358.13 177.76 L 357.78 180.35 z" clip-path="url(#p112c683f5e)" style="stroke: #000000"/>
    <path d="M 391.86 184.98 L 380.53 179.69 L 381.23 174.50 L 380.53 179.69 L 381.95 180.35 L 382.30 177.76 L 381.95 180.35 z" clip-path="url(#p112c683f5e)" style="stroke: #000000"/>
    <path d="M 416.03 184.98 L 404.70 179.69 L 405.40 174.50 L 404.70 179.69 L 406.12 180.35 L 406.47 177.76 L 406.12 180.35 z" clip-path="url(#p112c683f5e)" style="stroke: #000000"/>
    <path d="M 440.41 184.47 L 428.66 180.20 L 428.90 174.96 L 428.66 180.20 z" clip-path="url(#p112c683f5e)" style="stroke: #000000"/>
    <path d="M 464.57 184.47 L 452.83 180.20 L 453.07 174.96 L 452.83 180.20 z" clip-path="url(#p112c683f5e)" style="stroke: #000000"/>
    <path d="M 487.99 185.92 L 477.75 178.75 L 479.33 173.76 L 477.75 178.75 z" clip-path="url(#p112c683f5e)" style="stroke: #000000"/>
    <path d="M 511.22 186.98 L 502.85 177.69 L 505.52 173.18 L 502.85 177.69 z" clip-path="url(#p112c683f5e)" style="stroke: #000000"/>
    <path d="M 534.60 187.58 L 527.80 177.09 L 531.14 173.06 L 527.80 177.09 z" clip-path="url(#p112c683f5e)" style="stroke: #000000"/>
    <path d="M 558.20 187.90 L 552.53 176.77 L 553.59 178.85 L 555.47 177.02 L 553.59 178.85 z" clip-path="url(#p112c683f5e)" style="stroke: #000000"/>
    <path d="M 581.47 188.28 L 577.60 176.39 L 578.33 178.62 L 580.46 177.10 L 578.33 178.62 z" clip-path="url(#p112c683f5e)" style="stroke: #000000"/>
    <path d="M 604.89 188.47 L 602.51 176.20 L 602.96 178.50 L 605.26 177.26 L 602.96 178.50 z" clip-path="url(#p112c683f5e)" style="stroke: #000000"/>
    <path d="M 627.00 188.52 L 628.74 176.15 L 628.41 178.47 L 631.00 178.04 L 628.41 178.47 z" clip-path="url(#p112c683f5e)" style="stroke: #000000"/>
    <path d="M 650.10 188.28 L 653.97 176.39 L 653.24 178.62 L 655.86 178.65 L 653.24 178.62 z" clip-path="url(#p112c683f5e)" style="stroke: #000000"/>
    <path d="M 673.76 188.09 L 678.64 176.58 L 677.73 178.74 L 680.33 179.00 L 677.73 178.74 z" clip-path="url(#p112c683f5e)" style="stroke: #000000"/>
    <path d="M 697.53 187.90 L 703.21 176.77 L 702.14 178.85 L 704.72 179.29 L 702.14 178.85 z" clip-path="url(#p112c683f5e)" style="stroke: #000000"/>
    <path d="M 724.53 180.46 L 723.96 180.55 L 723.43 180.82 L 723.02 181.23 L 722.75 181.76 L 722.66 182.34 L 722.75 182.91 L 723.02 183.44 L 723.43 183.85 L 723.96 184.12 L 724.53 184.21 L 725.11 184.12 L 725.64 183.85 L 726.05 183.44 L 726.32 182.91 L 726.41 182.34 L 726.32 181.76 L 726.05 181.23 L 725.64 180.82 L 725.11 180.55 L 724.53 180.46 L 724.53 180.46 L 725.11 180.55 L 725.64 180.82 L 726.05 181.23 L 726.32 181.76 L 726.41 182.34 L 726.32 182.91 L 726.05 183.44 L 725.64 183.85 L 725.11 184.12 L 724.53 184.21 L 723.96 184.12 L 723.43 183.85 L 723.02 183.44 L 722.75 182.91 L 722.66 182.34 L 722.75 181.76 L 723.02 181.23 L 723.43 180.82 L 723.96 180.55 L 724.53 180.46 z" clip-path="url(#p112c683f5e)" style="stroke: #000000"/>
    <path d="M 78.28 206.06 L 65.78 206.06 L 64.22 201.06 L 65.78 206.06 z" clip-path="url(#p112c683f5e)" style="stroke: #000000"/>
    <path d="M 102.35 207.14 L 90.04 204.97 L 89.37 199.78 L 90.04 204.97 L 91.58 205.25 L 91.25 202.65 L 91.58 205.25 z" clip-path="url(#p112c683f5e)" style="stroke: #000000"/>
    <path d="M 126.52 207.14 L 114.21 204.97 L 113.54 199.78 L 114.21 204.97 L 115.75 205.25 L 115.41 202.65 L 115.75 205.25 z" clip-path="url(#p112c683f5e)" style="stroke: #000000"/>
    <path d="M 150.73 206.82 L 138.33 205.30 L 137.39 200.14 L 138.33 205.30 L 139.88 205.49 L 139.41 202.91 L 139.88 205.49 z" clip-path="url(#p112c683f5e)" style="stroke: #000000"/>
    <path d="M 174.68 207.89 L 162.72 204.23 L 162.69 198.99 L 162.72 204.23 z" clip-path="url(#p112c683f5e)" style="stroke: #000000"/>
    <path d="M 198.53 208.70 L 187.20 203.42 L 187.90 198.23 L 187.20 203.42 L 188.62 204.08 L 188.97 201.48 L 188.62 204.08 z" clip-path="url(#p112c683f5e)" style="stroke: #000000"/>
    <path d="M 222.70 208.70 L 211.37 203.42 L 212.06 198.23 L 211.37 203.42 L 212.78 204.08 L 213.13 201.48 L 212.78 204.08 z" clip-path="url(#p112c683f5e)" style="stroke: #000000"/>
    <path d="M 247.07 208.20 L 235.33 203.92 L 235.57 198.69 L 235.33 203.92 z" clip-path="url(#p112c683f5e)" style="stroke: #000000"/>
    <path d="M 270.78 209.18 L 259.95 202.93 L 261.10 197.82 L 259.95 202.93 L 261.31 203.72 L 261.88 201.16 L 261.31 203.72 z" clip-path="url(#p112c683f5e)" style="stroke: #000000"/>
    <path d="M 294.94 209.18 L 284.12 202.93 L 285.27 197.82 L 284.12 202.93 z" clip-path="url(#p112c683f5e)" style="stroke: #000000"/>
    <path d="M 319.11 209.18 L 308.29 202.93 L 309.43 197.82 L 308.29 202.93 z" clip-path="url(#p112c683f5e)" style="stroke: #000000"/>
    <path d="M 343.28 209.18 L 332.45 202.93 L 333.60 197.82 L 332.45 202.93 L 333.81 203.72 L 334.38 201.16 L 333.81 203.72 z" clip-path="url(#p112c683f5e)" style="stroke: #000000"/>
    <path d="M 367.45 209.18 L 356.62 202.93 L 357.77 197.82 L 356.62 202.93 L 357.97 203.72 L 358.55 201.16 L 357.97 203.72 z" clip-path="url(#p112c683f5e)" style="stroke: #000000"/>
    <path d="M 391.61 209.18 L 380.79 202.93 L 381.93 197.82 L 380.79 202.93 L 382.14 203.72 L 382.71 201.16 L 382.14 203.72 z" clip-path="url(#p112c683f5e)" style="stroke: #000000"/>
    <path d="M 415.78 209.18 L 404.95 202.93 L 406.10 197.82 L 404.95 202.93 z" clip-path="url(#p112c683f5e)" style="stroke: #000000"/>
    <path d="M 439.65 209.64 L 429.41 202.47 L 431.00 197.48 L 429.41 202.47 z" clip-path="url(#p112c683f5e)" style="stroke: #000000"/>
    <path d="M 464.11 209.18 L 453.29 202.93 L 454.43 197.82 L 453.29 202.93 z" clip-path="url(#p112c683f5e)" style="stroke: #000000"/>
    <path d="M 487.99 209.64 L 477.75 202.47 L 479.33 197.48 L 477.75 202.47 z" clip-path="url(#p112c683f5e)" style="stroke: #000000"/>
    <path d="M 511.68 210.24 L 502.39 201.88 L 504.57 197.12 L 502.39 201.88 z" clip-path="url(#p112c683f5e)" style="stroke: #000000"/>
    <path d="M 535.05 210.98 L 527.35 201.13 L 530.33 196.82 L 527.35 201.13 z" clip-path="url(#p112c683f5e)" style="stroke: #000000"/>
    <path d="M 558.95 211.18 L 551.78 200.94 L 553.13 202.86 L 554.73 200.79 L 553.13 202.86 z" clip-path="url(#p112c683f5e)" style="stroke: #000000"/>
    <path d="M 582.66 211.47 L 576.41 200.65 L 577.58 202.68 L 579.36 200.75 L 577.58 202.68 z" clip-path="url(#p112c683f5e)" style="stroke: #000000"/>
    <path d="M 605.84 211.93 L 601.56 200.19 L 602.36 202.39 L 604.45 200.80 L 602.36 202.39 z" clip-path="url(#p112c683f5e)" style="stroke: #000000"/>
    <path d="M 627.43 212.29 L 628.30 199.82 L 628.14 202.16 L 630.69 201.56 L 628.14 202.16 z" clip-path="url(#p112c683f5e)" style="stroke: #000000"/>
    <path d="M 652.03 212.31 L 652.03 199.81 L 652.03 202.15 L 654.53 201.37 L 652.03 202.15 z" clip-path="url(#p112c683f5e)" style="stroke: #000000"/>
    <path d="M 675.77 212.29 L 676.64 199.82 L 676.47 202.16 L 679.02 201.56 L 676.47 202.16 z" clip-path="url(#p112c683f5e)" style="stroke: #000000"/>
    <path d="M 700.37 204.18 L 699.79 204.28 L 699.27 204.54 L 698.85 204.96 L 698.58 205.48 L 698.49 206.06 L 698.58 206.64 L 698.85 207.16 L 699.27 207.58 L 699.79 207.84 L 700.37 207.93 L 700.95 207.84 L 701.47 207.58 L 701.88 207.16 L 702.15 206.64 L 702.24 206.06 L 702.15 205.48 L 701.88 204.96 L 701.47 204.54 L 700.95 204.28 L 700.37 204.18 L 700.37 204.18 L 700.95 204.28 L 701.47 204.54 L 701.88 204.96 L 702.15 205.48 L 702.24 206.06 L 702.15 206.64 L 701.88 207.16 L 701.47 207.58 L 700.95 207.84 L 700.37 207.93 L 699.79 207.84 L 699.27 207.58 L 698.85 207.16 L 698.58 206.64 L 698.49 206.06 L 698.58 205.48 L 698.85 204.96 L 699.27 204.54 L 699.79 204.28 L 700.37 204.18 z" clip-path="url(#p112c683f5e)" style="stroke: #000000"/>
    <path d="M 724.53 204.18 L 723.96 204.28 L 723.43 204.54 L 723.02 204.96 L 722.75 205.48 L 722.66 206.06 L 722.75 206.64 L 723.02 207.16 L 723.43 207.58 L 723.96 207.84 L 724.53 207.93 L 725.11 207.84 L 725.64 207.58 L 726.05 207.16 L 726.32 206.64 L 726.41 206.06 L 726.32 205.48 L 726.05 204.96 L 725.64 204.54 L 725.11 204.28 L 724.53 204.18 L 724.53 204.18 L 725.11 204.28 L 725.64 204.54 L 726.05 204.96 L 726.32 205.48 L 726.41 206.06 L 726.32 206.64 L 726.05 207.16 L 725.64 207.58 L 725.11 207.84 L 724.53 207.93 L 723.96 207.84 L 723.43 207.58 L 723.02 207.16 L 722.75 206.64 L 722.66 206.06 L 722.75 205.48 L 723.02 204.96 L 723.43 204.54 L 723.96 204.28 L 724.53 204.18 z" clip-path="url(#p112c683f5e)" style="stroke: #000000"/>
    <path d="M 78.28 217.92 L 65.78 217.92 L 64.22 212.92 L 65.78 217.92 z" clip-path="url(#p112c683f5e)" style="stroke: #000000"/>
    <path d="M 102.31 219.22 L 90.08 216.62 L 89.60 211.41 L 90.08 216.62 L 91.61 216.95 L 91.37 214.34 L 91.61 216.95 z" clip-path="url(#p112c683f5e)" style="stroke: #000000"/>
    <path d="M 126.48 219.22 L 114.25 216.62 L 113.76 211.41 L 114.25 216.62 L 115.78 216.95 L 115.54 214.34 L 115.78 216.95 z" clip-path="url(#p112c683f5e)" style="stroke: #000000"/>
    <path d="M 150.69 219.01 L 138.38 216.84 L 137.71 211.64 L 138.38 216.84 z" clip-path="url(#p112c683f5e)" style="stroke: #000000"/>
    <path d="M 174.45 220.36 L 162.95 215.48 L 163.46 210.27 L 162.95 215.48 z" clip-path="url(#p112c683f5e)" style="stroke: #000000"/>
    <path d="M 198.38 220.86 L 187.35 214.99 L 188.31 209.84 L 187.35 214.99 z" clip-path="url(#p112c683f5e)" style="stroke: #000000"/>
    <path d="M 222.15 221.51 L 211.91 214.34 L 213.50 209.34 L 211.91 214.34 z" clip-path="url(#p112c683f5e)" style="stroke: #000000"/>
    <path d="M 247.07 220.06 L 235.33 215.78 L 235.57 210.55 L 235.33 215.78 z" clip-path="url(#p112c683f5e)" style="stroke: #000000"/>
    <path d="M 270.78 221.05 L 259.95 214.80 L 261.10 209.68 L 259.95 214.80 z" clip-path="url(#p112c683f5e)" style="stroke: #000000"/>
    <path d="M 294.94 221.05 L 284.12 214.80 L 285.27 209.68 L 284.12 214.80 z" clip-path="url(#p112c683f5e)" style="stroke: #000000"/>
    <path d="M 319.11 221.05 L 308.29 214.80 L 309.43 209.68 L 308.29 214.80 z" clip-path="url(#p112c683f5e)" style="stroke: #000000"/>
    <path d="M 343.28 221.05 L 332.45 214.80 L 333.60 209.68 L 332.45 214.80 L 333.81 215.58 L 334.38 213.02 L 333.81 215.58 z" clip-path="url(#p112c683f5e)" style="stroke: #000000"/>
    <path d="M 367.15 221.51 L 356.91 214.34 L 358.50 209.34 L 356.91 214.34 z" clip-path="url(#p112c683f5e)" style="stroke: #000000"/>
    <path d="M 391.32 221.51 L 381.08 214.34 L 382.67 209.34 L 381.08 214.34 z" clip-path="url(#p112c683f5e)" style="stroke: #000000"/>
    <path d="M 415.78 221.05 L 404.95 214.80 L 406.10 209.68 L 404.95 214.80 z" clip-path="url(#p112c683f5e)" style="stroke: #000000"/>
    <path d="M 438.95 222.34 L 430.11 213.50 L 432.54 208.86 L 430.11 213.50 z" clip-path="url(#p112c683f5e)" style="stroke: #000000"/>
    <path d="M 463.82 221.51 L 453.58 214.34 L 455.17 209.34 L 453.58 214.34 z" clip-path="url(#p112c683f5e)" style="stroke: #000000"/>
    <path d="M 487.65 221.94 L 478.08 213.90 L 480.10 209.07 L 478.08 213.90 z" clip-path="url(#p112c683f5e)" style="stroke: #000000"/>
    <path d="M 511.82 221.94 L 502.25 213.90 L 504.04 215.41 L 505.05 212.99 L 504.04 215.41 z" clip-path="url(#p112c683f5e)" style="stroke: #000000"/>
    <path d="M 535.62 222.34 L 526.78 213.50 L 528.44 215.16 L 529.65 212.84 L 528.44 215.16 z" clip-path="url(#p112c683f5e)" style="stroke: #000000"/>
    <path d="M 559.63 222.49 L 551.10 213.35 L 552.70 215.06 L 554.00 212.79 L 552.70 215.06 z" clip-path="url(#p112c683f5e)" style="stroke: #000000"/>
    <path d="M 583.21 222.98 L 575.86 212.86 L 577.24 214.76 L 578.80 212.66 L 577.24 214.76 z" clip-path="url(#p112c683f5e)" style="stroke: #000000"/>
    <path d="M 607.37 222.98 L 600.03 212.86 L 601.40 214.76 L 602.97 212.66 L 601.40 214.76 z" clip-path="url(#p112c683f5e)" style="stroke: #000000"/>
    <path d="M 630.70 223.49 L 625.03 212.35 L 626.09 214.44 L 627.97 212.61 L 626.09 214.44 z" clip-path="url(#p112c683f5e)" style="stroke: #000000"/>
    <path d="M 652.03 216.05 L 651.45 216.14 L 650.93 216.40 L 650.52 216.82 L 650.25 217.34 L 650.16 217.92 L 650.25 218.50 L 650.52 219.02 L 650.93 219.44 L 651.45 219.70 L 652.03 219.80 L 652.61 219.70 L 653.14 219.44 L 653.55 219.02 L 653.82 218.50 L 653.91 217.92 L 653.82 217.34 L 653.55 216.82 L 653.14 216.40 L 652.61 216.14 L 652.03 216.05 L 652.03 216.05 L 652.61 216.14 L 653.14 216.40 L 653.55 216.82 L 653.82 217.34 L 653.91 217.92 L 653.82 218.50 L 653.55 219.02 L 653.14 219.44 L 652.61 219.70 L 652.03 219.80 L 651.45 219.70 L 650.93 219.44 L 650.52 219.02 L 650.25 218.50 L 650.16 217.92 L 650.25 217.34 L 650.52 216.82 L 650.93 216.40 L 651.45 216.14 L 652.03 216.05 z" clip-path="url(#p112c683f5e)" style="stroke: #000000"/>
    <path d="M 676.20 216.05 L 675.62 216.14 L 675.10 216.40 L 674.68 216.82 L 674.42 217.34 L 674.33 217.92 L 674.42 218.50 L 674.68 219.02 L 675.10 219.44 L 675.62 219.70 L 676.20 219.80 L 676.78 219.70 L 677.30 219.44 L 677.72 219.02 L 677.98 218.50 L 678.08 217.92 L 677.98 217.34 L 677.72 216.82 L 677.30 216.40 L 676.78 216.14 L 676.20 216.05 L 676.20 216.05 L 676.78 216.14 L 677.30 216.40 L 677.72 216.82 L 677.98 217.34 L 678.08 217.92 L 677.98 218.50 L 677.72 219.02 L 677.30 219.44 L 676.78 219.70 L 676.20 219.80 L 675.62 219.70 L 675.10 219.44 L 674.68 219.02 L 674.42 218.50 L 674.33 217.92 L 674.42 217.34 L 674.68 216.82 L 675.10 216.40 L 675.62 216.14 L 676.20 216.05 z" clip-path="url(#p112c683f5e)" style="stroke: #000000"/>
    <path d="M 700.37 216.05 L 699.79 216.14 L 699.27 216.40 L 698.85 216.82 L 698.58 217.34 L 698.49 217.92 L 698.58 218.50 L 698.85 219.02 L 699.27 219.44 L 699.79 219.70 L 700.37 219.80 L 700.95 219.70 L 701.47 219.44 L 701.88 219.02 L 702.15 218.50 L 702.24 217.92 L 702.15 217.34 L 701.88 216.82 L 701.47 216.40 L 700.95 216.14 L 700.37 216.05 L 700.37 216.05 L 700.95 216.14 L 701.47 216.40 L 701.88 216.82 L 702.15 217.34 L 702.24 217.92 L 702.15 218.50 L 701.88 219.02 L 701.47 219.44 L 700.95 219.70 L 700.37 219.80 L 699.79 219.70 L 699.27 219.44 L 698.85 219.02 L 698.58 218.50 L 698.49 217.92 L 698.58 217.34 L 698.85 216.82 L 699.27 216.40 L 699.79 216.14 L 700.37 216.05 z" clip-path="url(#p112c683f5e)" style="stroke: #000000"/>
    <path d="M 724.53 216.05 L 723.96 216.14 L 723.43 216.40 L 723.02 216.82 L 722.75 217.34 L 722.66 217.92 L 722.75 218.50 L 723.02 219.02 L 723.43 219.44 L 723.96 219.70 L 724.53 219.80 L 725.11 219.70 L 725.64 219.44 L 726.05 219.02 L 726.32 218.50 L 726.41 217.92 L 726.32 217.34 L 726.05 216.82 L 725.64 216.40 L 725.11 216.14 L 724.53 216.05 L 724.53 216.05 L 725.11 216.14 L 725.64 216.40 L 726.05 216.82 L 726.32 217.34 L 726.41 217.92 L 726.32 218.50 L 726.05 219.02 L 725.64 219.44 L 725.11 219.70 L 724.53 219.80 L 723.96 219.70 L 723.43 219.44 L 723.02 219.02 L 722.75 218.50 L 722.66 217.92 L 722.75 217.34 L 723.02 216.82 L 723.43 216.40 L 723.96 216.14 L 724.53 216.05 z" clip-path="url(#p112c683f5e)" style="stroke: #000000"/>
    <path d="M 78.28 229.78 L 65.78 229.78 L 64.22 224.78 L 65.78 229.78 z" clip-path="url(#p112c683f5e)" style="stroke: #000000"/>
    <path d="M 102.42 230.33 L 89.97 229.24 L 88.85 224.12 L 89.97 229.24 L 91.53 229.37 L 90.97 226.82 L 91.53 229.37 z" clip-path="url(#p112c683f5e)" style="stroke: #000000"/>
    <path d="M 126.59 230.33 L 114.14 229.24 L 113.02 224.12 L 114.14 229.24 L 115.69 229.37 L 115.13 226.82 L 115.69 229.37 z" clip-path="url(#p112c683f5e)" style="stroke: #000000"/>
    <path d="M 150.69 230.87 L 138.38 228.70 L 137.71 223.50 L 138.38 228.70 z" clip-path="url(#p112c683f5e)" style="stroke: #000000"/>
    <path d="M 173.69 233.54 L 163.71 226.02 L 165.47 221.09 L 163.71 226.02 z" clip-path="url(#p112c683f5e)" style="stroke: #000000"/>
    <path d="M 197.65 233.80 L 188.08 225.77 L 190.09 220.93 L 188.08 225.77 z" clip-path="url(#p112c683f5e)" style="stroke: #000000"/>
    <path d="M 221.45 234.20 L 212.61 225.36 L 215.04 220.72 L 212.61 225.36 z" clip-path="url(#p112c683f5e)" style="stroke: #000000"/>
    <path d="M 246.44 233.19 L 235.96 226.38 L 237.37 221.33 L 235.96 226.38 z" clip-path="url(#p112c683f5e)" style="stroke: #000000"/>
    <path d="M 271.03 232.42 L 259.70 227.14 L 260.40 221.95 L 259.70 227.14 z" clip-path="url(#p112c683f5e)" style="stroke: #000000"/>
    <path d="M 294.94 232.91 L 284.12 226.66 L 285.27 221.55 L 284.12 226.66 z" clip-path="url(#p112c683f5e)" style="stroke: #000000"/>
    <path d="M 319.11 232.91 L 308.29 226.66 L 309.43 221.55 L 308.29 226.66 z" clip-path="url(#p112c683f5e)" style="stroke: #000000"/>
    <path d="M 343.28 232.91 L 332.45 226.66 L 333.60 221.55 L 332.45 226.66 L 333.81 227.44 L 334.38 224.88 L 333.81 227.44 z" clip-path="url(#p112c683f5e)" style="stroke: #000000"/>
    <path d="M 367.15 233.37 L 356.91 226.20 L 358.50 221.21 L 356.91 226.20 z" clip-path="url(#p112c683f5e)" style="stroke: #000000"/>
    <path d="M 390.99 233.80 L 381.41 225.77 L 383.43 220.93 L 381.41 225.77 z" clip-path="url(#p112c683f5e)" style="stroke: #000000"/>
    <path d="M 415.49 233.37 L 405.25 226.20 L 406.83 221.21 L 405.25 226.20 z" clip-path="url(#p112c683f5e)" style="stroke: #000000"/>
    <path d="M 438.55 234.57 L 430.52 225.00 L 433.34 220.58 L 430.52 225.00 z" clip-path="url(#p112c683f5e)" style="stroke: #000000"/>
    <path d="M 463.12 234.20 L 454.28 225.36 L 456.71 220.72 L 454.28 225.36 z" clip-path="url(#p112c683f5e)" style="stroke: #000000"/>
    <path d="M 486.88 234.57 L 478.85 225.00 L 481.68 220.58 L 478.85 225.00 z" clip-path="url(#p112c683f5e)" style="stroke: #000000"/>
    <path d="M 511.96 233.63 L 502.11 225.94 L 503.96 227.38 L 504.88 224.93 L 503.96 227.38 z" clip-path="url(#p112c683f5e)" style="stroke: #000000"/>
    <path d="M 536.13 233.63 L 526.28 225.94 L 528.12 227.38 L 529.05 224.93 L 528.12 227.38 z" clip-path="url(#p112c683f5e)" style="stroke: #000000"/>
    <path d="M 560.29 233.63 L 550.44 225.94 L 552.29 227.38 L 553.21 224.93 L 552.29 227.38 z" clip-path="url(#p112c683f5e)" style="stroke: #000000"/>
    <path d="M 584.46 233.63 L 574.61 225.94 L 576.46 227.38 L 577.38 224.93 L 576.46 227.38 z" clip-path="url(#p112c683f5e)" style="stroke: #000000"/>
    <path d="M 608.12 234.20 L 599.28 225.36 L 600.94 227.02 L 602.15 224.70 L 600.94 227.02 z" clip-path="url(#p112c683f5e)" style="stroke: #000000"/>
    <path d="M 632.29 234.20 L 623.45 225.36 L 625.11 227.02 L 626.32 224.70 L 625.11 227.02 z" clip-path="url(#p112c683f5e)" style="stroke: #000000"/>
    <path d="M 652.03 227.91 L 651.45 228.00 L 650.93 228.27 L 650.52 228.68 L 650.25 229.20 L 650.16 229.78 L 650.25 230.36 L 650.52 230.89 L 650.93 231.30 L 651.45 231.57 L 652.03 231.66 L 652.61 231.57 L 653.14 231.30 L 653.55 230.89 L 653.82 230.36 L 653.91 229.78 L 653.82 229.20 L 653.55 228.68 L 653.14 228.27 L 652.61 228.00 L 652.03 227.91 L 652.03 227.91 L 652.61 228.00 L 653.14 228.27 L 653.55 228.68 L 653.82 229.20 L 653.91 229.78 L 653.82 230.36 L 653.55 230.89 L 653.14 231.30 L 652.61 231.57 L 652.03 231.66 L 651.45 231.57 L 650.93 231.30 L 650.52 230.89 L 650.25 230.36 L 650.16 229.78 L 650.25 229.20 L 650.52 228.68 L 650.93 228.27 L 651.45 228.00 L 652.03 227.91 z" clip-path="url(#p112c683f5e)" style="stroke: #000000"/>
    <path d="M 676.20 227.91 L 675.62 228.00 L 675.10 228.27 L 674.68 228.68 L 674.42 229.20 L 674.33 229.78 L 674.42 230.36 L 674.68 230.89 L 675.10 231.30 L 675.62 231.57 L 676.20 231.66 L 676.78 231.57 L 677.30 231.30 L 677.72 230.89 L 677.98 230.36 L 678.08 229.78 L 677.98 229.20 L 677.72 228.68 L 677.30 228.27 L 676.78 228.00 L 676.20 227.91 L 676.20 227.91 L 676.78 228.00 L 677.30 228.27 L 677.72 228.68 L 677.98 229.20 L 678.08 229.78 L 677.98 230.36 L 677.72 230.89 L 677.30 231.30 L 676.78 231.57 L 676.20 231.66 L 675.62 231.57 L 675.10 231.30 L 674.68 230.89 L 674.42 230.36 L 674.33 229.78 L 674.42 229.20 L 674.68 228.68 L 675.10 228.27 L 675.62 228.00 L 676.20 227.91 z" clip-path="url(#p112c683f5e)" style="stroke: #000000"/>
    <path d="M 700.37 227.91 L 699.79 228.00 L 699.27 228.27 L 698.85 228.68 L 698.58 229.20 L 698.49 229.78 L 698.58 230.36 L 698.85 230.89 L 699.27 231.30 L 699.79 231.57 L 700.37 231.66 L 700.95 231.57 L 701.47 231.30 L 701.88 230.89 L 702.15 230.36 L 702.24 229.78 L 702.15 229.20 L 701.88 228.68 L 701.47 228.27 L 700.95 228.00 L 700.37 227.91 L 700.37 227.91 L 700.95 228.00 L 701.47 228.27 L 701.88 228.68 L 702.15 229.20 L 702.24 229.78 L 702.15 230.36 L 701.88 230.89 L 701.47 231.30 L 700.95 231.57 L 700.37 231.66 L 699.79 231.57 L 699.27 231.30 L 698.85 230.89 L 698.58 230.36 L 698.49 229.78 L 698.58 229.20 L 698.85 228.68 L 699.27 228.27 L 699.79 228.00 L 700.37 227.91 z" clip-path="url(#p112c683f5e)" style="stroke: #000000"/>
    <path d="M 724.53 227.91 L 723.96 228.00 L 723.43 228.27 L 723.02 228.68 L 722.75 229.20 L 722.66 229.78 L 722.75 230.36 L 723.02 230.89 L 723.43 231.30 L 723.96 231.57 L 724.53 231.66 L 725.11 231.57 L 725.64 231.30 L 726.05 230.89 L 726.32 230.36 L 726.41 229.78 L 726.32 229.20 L 726.05 228.68 L 725.64 228.27 L 725.11 228.00 L 724.53 227.91 L 724.53 227.91 L 725.11 228.00 L 725.64 228.27 L 726.05 228.68 L 726.32 229.20 L 726.41 229.78 L 726.32 230.36 L 726.05 230.89 L 725.64 231.30 L 725.11 231.57 L 724.53 231.66 L 723.96 231.57 L 723.43 231.30 L 723.02 230.89 L 722.75 230.36 L 722.66 229.78 L 722.75 229.20 L 723.02 228.68 L 723.43 228.27 L 723.96 228.00 L 724.53 227.91 z" clip-path="url(#p112c683f5e)" style="stroke: #000000"/>
    <path d="M 78.28 241.65 L 65.78 241.65 L 64.22 236.65 L 65.78 241.65 z" clip-path="url(#p112c683f5e)" style="stroke: #000000"/>
    <path d="M 102.23 243.26 L 90.16 240.03 L 89.95 234.79 L 90.16 240.03 L 91.67 240.43 L 91.56 237.81 L 91.67 240.43 z" clip-path="url(#p112c683f5e)" style="stroke: #000000"/>
    <path d="M 126.40 243.26 L 114.33 240.03 L 114.11 234.79 L 114.33 240.03 L 115.84 240.43 L 115.73 237.81 L 115.84 240.43 z" clip-path="url(#p112c683f5e)" style="stroke: #000000"/>
    <path d="M 150.40 243.78 L 138.66 239.51 L 138.90 234.27 L 138.66 239.51 z" clip-path="url(#p112c683f5e)" style="stroke: #000000"/>
    <path d="M 172.72 246.43 L 164.68 236.86 L 167.51 232.45 L 164.68 236.86 z" clip-path="url(#p112c683f5e)" style="stroke: #000000"/>
    <path d="M 196.88 246.43 L 188.85 236.86 L 191.67 232.45 L 188.85 236.86 z" clip-path="url(#p112c683f5e)" style="stroke: #000000"/>
    <path d="M 220.62 246.76 L 213.45 236.53 L 216.65 232.38 L 213.45 236.53 z" clip-path="url(#p112c683f5e)" style="stroke: #000000"/>
    <path d="M 245.22 246.43 L 237.18 236.86 L 240.01 232.45 L 237.18 236.86 z" clip-path="url(#p112c683f5e)" style="stroke: #000000"/>
    <path d="M 271.03 244.29 L 259.70 239.00 L 260.40 233.81 L 259.70 239.00 z" clip-path="url(#p112c683f5e)" style="stroke: #000000"/>
    <path d="M 294.94 244.77 L 284.12 238.52 L 285.27 233.41 L 284.12 238.52 z" clip-path="url(#p112c683f5e)" style="stroke: #000000"/>
    <path d="M 319.11 244.77 L 308.29 238.52 L 309.43 233.41 L 308.29 238.52 z" clip-path="url(#p112c683f5e)" style="stroke: #000000"/>
    <path d="M 343.28 244.77 L 332.45 238.52 L 333.60 233.41 L 332.45 238.52 z" clip-path="url(#p112c683f5e)" style="stroke: #000000"/>
    <path d="M 367.15 245.23 L 356.91 238.06 L 358.50 233.07 L 356.91 238.06 z" clip-path="url(#p112c683f5e)" style="stroke: #000000"/>
    <path d="M 390.99 245.66 L 381.41 237.63 L 383.43 232.79 L 381.41 237.63 z" clip-path="url(#p112c683f5e)" style="stroke: #000000"/>
    <path d="M 415.15 245.66 L 405.58 237.63 L 407.60 232.79 L 405.58 237.63 z" clip-path="url(#p112c683f5e)" style="stroke: #000000"/>
    <path d="M 437.66 247.06 L 431.41 236.23 L 434.96 232.38 L 431.41 236.23 z" clip-path="url(#p112c683f5e)" style="stroke: #000000"/>
    <path d="M 462.72 246.43 L 454.68 236.86 L 457.51 232.45 L 454.68 236.86 z" clip-path="url(#p112c683f5e)" style="stroke: #000000"/>
    <path d="M 486.71 246.57 L 479.02 236.72 L 482.00 232.41 L 479.02 236.72 z" clip-path="url(#p112c683f5e)" style="stroke: #000000"/>
    <path d="M 511.96 245.49 L 502.11 237.80 L 503.96 239.24 L 504.88 236.79 L 503.96 239.24 z" clip-path="url(#p112c683f5e)" style="stroke: #000000"/>
    <path d="M 536.32 245.23 L 526.08 238.06 L 528.00 239.40 L 528.79 236.91 L 528.00 239.40 z" clip-path="url(#p112c683f5e)" style="stroke: #000000"/>
    <path d="M 560.49 245.23 L 550.25 238.06 L 552.17 239.40 L 552.96 236.91 L 552.17 239.40 z" clip-path="url(#p112c683f5e)" style="stroke: #000000"/>
    <path d="M 584.89 244.86 L 574.18 238.43 L 576.19 239.63 L 576.80 237.09 L 576.19 239.63 z" clip-path="url(#p112c683f5e)" style="stroke: #000000"/>
    <path d="M 608.94 245.05 L 598.46 238.24 L 600.42 239.52 L 601.13 237.00 L 600.42 239.52 z" clip-path="url(#p112c683f5e)" style="stroke: #000000"/>
    <path d="M 633.53 244.29 L 622.20 239.00 L 624.33 239.99 L 624.68 237.40 L 624.33 239.99 z" clip-path="url(#p112c683f5e)" style="stroke: #000000"/>
    <path d="M 658.01 239.82 L 646.06 243.47 L 648.30 242.79 L 646.82 240.62 L 648.30 242.79 z" clip-path="url(#p112c683f5e)" style="stroke: #000000"/>
    <path d="M 682.45 241.65 L 669.95 241.65 L 672.29 241.65 L 671.51 239.15 L 672.29 241.65 z" clip-path="url(#p112c683f5e)" style="stroke: #000000"/>
    <path d="M 700.37 239.77 L 699.79 239.86 L 699.27 240.13 L 698.85 240.54 L 698.58 241.07 L 698.49 241.65 L 698.58 242.22 L 698.85 242.75 L 699.27 243.16 L 699.79 243.43 L 700.37 243.52 L 700.95 243.43 L 701.47 243.16 L 701.88 242.75 L 702.15 242.22 L 702.24 241.65 L 702.15 241.07 L 701.88 240.54 L 701.47 240.13 L 700.95 239.86 L 700.37 239.77 L 700.37 239.77 L 700.95 239.86 L 701.47 240.13 L 701.88 240.54 L 702.15 241.07 L 702.24 241.65 L 702.15 242.22 L 701.88 242.75 L 701.47 243.16 L 700.95 243.43 L 700.37 243.52 L 699.79 243.43 L 699.27 243.16 L 698.85 242.75 L 698.58 242.22 L 698.49 241.65 L 698.58 241.07 L 698.85 240.54 L 699.27 240.13 L 699.79 239.86 L 700.37 239.77 z" clip-path="url(#p112c683f5e)" style="stroke: #000000"/>
    <path d="M 724.53 239.77 L 723.96 239.86 L 723.43 240.13 L 723.02 240.54 L 722.75 241.07 L 722.66 241.65 L 722.75 242.22 L 723.02 242.75 L 723.43 243.16 L 723.96 243.43 L 724.53 243.52 L 725.11 243.43 L 725.64 243.16 L 726.05 242.75 L 726.32 242.22 L 726.41 241.65 L 726.32 241.07 L 726.05 240.54 L 725.64 240.13 L 725.11 239.86 L 724.53 239.77 L 724.53 239.77 L 725.11 239.86 L 725.64 240.13 L 726.05 240.54 L 726.32 241.07 L 726.41 241.65 L 726.32 242.22 L 726.05 242.75 L 725.64 243.16 L 725.11 243.43 L 724.53 243.52 L 723.96 243.43 L 723.43 243.16 L 723.02 242.75 L 722.75 242.22 L 722.66 241.65 L 722.75 241.07 L 723.02 240.54 L 723.43 240.13 L 723.96 239.86 L 724.53 239.77 z" clip-path="url(#p112c683f5e)" style="stroke: #000000"/>
    <path d="M 78.28 253.51 L 65.78 253.51 L 64.22 248.51 L 65.78 253.51 z" clip-path="url(#p112c683f5e)" style="stroke: #000000"/>
    <path d="M 102.23 255.12 L 90.16 251.89 L 89.95 246.66 L 90.16 251.89 z" clip-path="url(#p112c683f5e)" style="stroke: #000000"/>
    <path d="M 126.40 255.12 L 114.33 251.89 L 114.11 246.66 L 114.33 251.89 z" clip-path="url(#p112c683f5e)" style="stroke: #000000"/>
    <path d="M 150.40 255.64 L 138.66 251.37 L 138.90 246.14 L 138.66 251.37 z" clip-path="url(#p112c683f5e)" style="stroke: #000000"/>
    <path d="M 172.28 258.63 L 165.11 248.39 L 168.31 244.24 L 165.11 248.39 z" clip-path="url(#p112c683f5e)" style="stroke: #000000"/>
    <path d="M 196.45 258.63 L 189.28 248.39 L 192.48 244.24 L 189.28 248.39 z" clip-path="url(#p112c683f5e)" style="stroke: #000000"/>
    <path d="M 220.62 258.63 L 213.45 248.39 L 216.65 244.24 L 213.45 248.39 z" clip-path="url(#p112c683f5e)" style="stroke: #000000"/>
    <path d="M 245.62 257.93 L 236.78 249.09 L 239.21 244.45 L 236.78 249.09 z" clip-path="url(#p112c683f5e)" style="stroke: #000000"/>
    <path d="M 271.03 256.15 L 259.70 250.87 L 260.40 245.67 L 259.70 250.87 z" clip-path="url(#p112c683f5e)" style="stroke: #000000"/>
    <path d="M 295.20 256.15 L 283.87 250.87 L 284.56 245.67 L 283.87 250.87 z" clip-path="url(#p112c683f5e)" style="stroke: #000000"/>
    <path d="M 319.36 256.15 L 308.03 250.87 L 308.73 245.67 L 308.03 250.87 z" clip-path="url(#p112c683f5e)" style="stroke: #000000"/>
    <path d="M 343.74 255.64 L 331.99 251.37 L 332.23 246.14 L 331.99 251.37 z" clip-path="url(#p112c683f5e)" style="stroke: #000000"/>
    <path d="M 367.15 257.09 L 356.91 249.92 L 358.50 244.93 L 356.91 249.92 z" clip-path="url(#p112c683f5e)" style="stroke: #000000"/>
    <path d="M 390.99 257.52 L 381.41 249.49 L 383.43 244.66 L 381.41 249.49 z" clip-path="url(#p112c683f5e)" style="stroke: #000000"/>
    <path d="M 415.15 257.52 L 405.58 249.49 L 407.60 244.66 L 405.58 249.49 z" clip-path="url(#p112c683f5e)" style="stroke: #000000"/>
    <path d="M 437.66 258.92 L 431.41 248.09 L 434.96 244.24 L 431.41 248.09 z" clip-path="url(#p112c683f5e)" style="stroke: #000000"/>
    <path d="M 462.01 258.81 L 455.39 248.21 L 458.80 244.23 L 455.39 248.21 z" clip-path="url(#p112c683f5e)" style="stroke: #000000"/>
    <path d="M 487.13 258.08 L 478.60 248.94 L 480.20 250.65 L 481.50 248.37 L 480.20 250.65 z" clip-path="url(#p112c683f5e)" style="stroke: #000000"/>
    <path d="M 512.15 257.09 L 501.91 249.92 L 503.83 251.27 L 504.63 248.77 L 503.83 251.27 z" clip-path="url(#p112c683f5e)" style="stroke: #000000"/>
    <path d="M 536.32 257.09 L 526.08 249.92 L 528.00 251.27 L 528.79 248.77 L 528.00 251.27 z" clip-path="url(#p112c683f5e)" style="stroke: #000000"/>
    <path d="M 560.49 257.09 L 550.25 249.92 L 552.17 251.27 L 552.96 248.77 L 552.17 251.27 z" clip-path="url(#p112c683f5e)" style="stroke: #000000"/>
    <path d="M 585.05 256.44 L 574.02 250.57 L 576.08 251.67 L 576.57 249.10 L 576.08 251.67 z" clip-path="url(#p112c683f5e)" style="stroke: #000000"/>
    <path d="M 609.11 256.63 L 598.29 250.38 L 600.32 251.55 L 600.89 249.00 L 600.32 251.55 z" clip-path="url(#p112c683f5e)" style="stroke: #000000"/>
    <path d="M 633.74 255.64 L 621.99 251.37 L 624.20 252.17 L 624.32 249.55 L 624.20 252.17 z" clip-path="url(#p112c683f5e)" style="stroke: #000000"/>
    <path d="M 658.01 251.68 L 646.06 255.33 L 648.30 254.65 L 646.82 252.49 L 648.30 254.65 z" clip-path="url(#p112c683f5e)" style="stroke: #000000"/>
    <path d="M 682.45 253.51 L 669.95 253.51 L 672.29 253.51 L 671.51 251.01 L 672.29 253.51 z" clip-path="url(#p112c683f5e)" style="stroke: #000000"/>
    <path d="M 700.37 251.63 L 699.79 251.72 L 699.27 251.99 L 698.85 252.40 L 698.58 252.93 L 698.49 253.51 L 698.58 254.09 L 698.85 254.61 L 699.27 255.02 L 699.79 255.29 L 700.37 255.38 L 700.95 255.29 L 701.47 255.02 L 701.88 254.61 L 702.15 254.09 L 702.24 253.51 L 702.15 252.93 L 701.88 252.40 L 701.47 251.99 L 700.95 251.72 L 700.37 251.63 L 700.37 251.63 L 700.95 251.72 L 701.47 251.99 L 701.88 252.40 L 702.15 252.93 L 702.24 253.51 L 702.15 254.09 L 701.88 254.61 L 701.47 255.02 L 700.95 255.29 L 700.37 255.38 L 699.79 255.29 L 699.27 255.02 L 698.85 254.61 L 698.58 254.09 L 698.49 253.51 L 698.58 252.93 L 698.85 252.40 L 699.27 251.99 L 699.79 251.72 L 700.37 251.63 z" clip-path="url(#p112c683f5e)" style="stroke: #000000"/>
    <path d="M 724.53 251.63 L 723.96 251.72 L 723.43 251.99 L 723.02 252.40 L 722.75 252.93 L 722.66 253.51 L 722.75 254.09 L 723.02 254.61 L 723.43 255.02 L 723.96 255.29 L 724.53 255.38 L 725.11 255.29 L 725.64 255.02 L 726.05 254.61 L 726.32 254.09 L 726.41 253.51 L 726.32 252.93 L 726.05 252.40 L 725.64 251.99 L 725.11 251.72 L 724.53 251.63 L 724.53 251.63 L 725.11 251.72 L 725.64 251.99 L 726.05 252.40 L 726.32 252.93 L 726.41 253.51 L 726.32 254.09 L 726.05 254.61 L 725.64 255.02 L 725.11 255.29 L 724.53 255.38 L 723.96 255.29 L 723.43 255.02 L 723.02 254.61 L 722.75 254.09 L 722.66 253.51 L 722.75 252.93 L 723.02 252.40 L 723.43 251.99 L 723.96 251.72 L 724.53 251.63 z" clip-path="url(#p112c683f5e)" style="stroke: #000000"/>
    <path d="M 78.28 265.37 L 65.78 265.37 L 68.12 265.37 L 67.34 262.87 L 68.12 265.37 z" clip-path="url(#p112c683f5e)" style="stroke: #000000"/>
    <path d="M 102.23 266.99 L 90.16 263.75 L 89.95 258.52 L 90.16 263.75 z" clip-path="url(#p112c683f5e)" style="stroke: #000000"/>
    <path d="M 126.40 266.99 L 114.33 263.75 L 114.11 258.52 L 114.33 263.75 z" clip-path="url(#p112c683f5e)" style="stroke: #000000"/>
    <path d="M 150.20 268.01 L 138.87 262.73 L 140.99 263.72 L 141.34 261.12 L 140.99 263.72 z" clip-path="url(#p112c683f5e)" style="stroke: #000000"/>
    <path d="M 172.28 270.49 L 165.11 260.25 L 168.31 256.10 L 165.11 260.25 z" clip-path="url(#p112c683f5e)" style="stroke: #000000"/>
    <path d="M 196.45 270.49 L 189.28 260.25 L 192.48 256.10 L 189.28 260.25 z" clip-path="url(#p112c683f5e)" style="stroke: #000000"/>
    <path d="M 220.62 270.49 L 213.45 260.25 L 216.65 256.10 L 213.45 260.25 z" clip-path="url(#p112c683f5e)" style="stroke: #000000"/>
    <path d="M 245.62 269.79 L 236.78 260.95 L 239.21 256.31 L 236.78 260.95 z" clip-path="url(#p112c683f5e)" style="stroke: #000000"/>
    <path d="M 270.78 268.49 L 259.95 262.24 L 261.98 263.42 L 262.56 260.86 L 261.98 263.42 z" clip-path="url(#p112c683f5e)" style="stroke: #000000"/>
    <path d="M 295.20 268.01 L 283.87 262.73 L 285.99 263.72 L 286.34 261.12 L 285.99 263.72 z" clip-path="url(#p112c683f5e)" style="stroke: #000000"/>
    <path d="M 319.57 267.51 L 307.83 263.23 L 310.03 264.03 L 310.15 261.42 L 310.03 264.03 z" clip-path="url(#p112c683f5e)" style="stroke: #000000"/>
    <path d="M 343.90 266.99 L 331.83 263.75 L 331.61 258.52 L 331.83 263.75 z" clip-path="url(#p112c683f5e)" style="stroke: #000000"/>
    <path d="M 367.15 268.95 L 356.91 261.78 L 358.50 256.79 L 356.91 261.78 z" clip-path="url(#p112c683f5e)" style="stroke: #000000"/>
    <path d="M 390.62 269.79 L 381.78 260.95 L 383.44 262.61 L 384.65 260.29 L 383.44 262.61 z" clip-path="url(#p112c683f5e)" style="stroke: #000000"/>
    <path d="M 415.15 269.39 L 405.58 261.35 L 407.60 256.52 L 405.58 261.35 z" clip-path="url(#p112c683f5e)" style="stroke: #000000"/>
    <path d="M 438.55 270.16 L 430.52 260.58 L 432.02 262.38 L 433.44 260.17 L 432.02 262.38 z" clip-path="url(#p112c683f5e)" style="stroke: #000000"/>
    <path d="M 463.12 269.79 L 454.28 260.95 L 455.94 262.61 L 457.15 260.29 L 455.94 262.61 z" clip-path="url(#p112c683f5e)" style="stroke: #000000"/>
    <path d="M 487.29 269.79 L 478.45 260.95 L 480.10 262.61 L 481.32 260.29 L 480.10 262.61 z" clip-path="url(#p112c683f5e)" style="stroke: #000000"/>
    <path d="M 512.15 268.95 L 501.91 261.78 L 503.83 263.13 L 504.63 260.63 L 503.83 263.13 z" clip-path="url(#p112c683f5e)" style="stroke: #000000"/>
    <path d="M 536.32 268.95 L 526.08 261.78 L 528.00 263.13 L 528.79 260.63 L 528.00 263.13 z" clip-path="url(#p112c683f5e)" style="stroke: #000000"/>
    <path d="M 560.67 268.68 L 550.07 262.06 L 552.05 263.30 L 552.72 260.76 L 552.05 263.30 z" clip-path="url(#p112c683f5e)" style="stroke: #000000"/>
    <path d="M 585.20 268.01 L 573.87 262.73 L 575.99 263.72 L 576.34 261.12 L 575.99 263.72 z" clip-path="url(#p112c683f5e)" style="stroke: #000000"/>
    <path d="M 609.37 268.01 L 598.04 262.73 L 600.16 263.72 L 600.51 261.12 L 600.16 263.72 z" clip-path="url(#p112c683f5e)" style="stroke: #000000"/>
    <path d="M 634.02 266.45 L 621.71 264.28 L 624.02 264.69 L 623.69 262.09 L 624.02 264.69 z" clip-path="url(#p112c683f5e)" style="stroke: #000000"/>
    <path d="M 658.01 263.54 L 646.06 267.20 L 648.30 266.51 L 646.82 264.35 L 648.30 266.51 z" clip-path="url(#p112c683f5e)" style="stroke: #000000"/>
    <path d="M 682.44 265.04 L 669.96 265.70 L 672.30 265.57 L 671.39 263.12 L 672.30 265.57 z" clip-path="url(#p112c683f5e)" style="stroke: #000000"/>
    <path d="M 700.37 263.49 L 699.79 263.59 L 699.27 263.85 L 698.85 264.27 L 698.58 264.79 L 698.49 265.37 L 698.58 265.95 L 698.85 266.47 L 699.27 266.89 L 699.79 267.15 L 700.37 267.24 L 700.95 267.15 L 701.47 266.89 L 701.88 266.47 L 702.15 265.95 L 702.24 265.37 L 702.15 264.79 L 701.88 264.27 L 701.47 263.85 L 700.95 263.59 L 700.37 263.49 L 700.37 263.49 L 700.95 263.59 L 701.47 263.85 L 701.88 264.27 L 702.15 264.79 L 702.24 265.37 L 702.15 265.95 L 701.88 266.47 L 701.47 266.89 L 700.95 267.15 L 700.37 267.24 L 699.79 267.15 L 699.27 266.89 L 698.85 266.47 L 698.58 265.95 L 698.49 265.37 L 698.58 264.79 L 698.85 264.27 L 699.27 263.85 L 699.79 263.59 L 700.37 263.49 z" clip-path="url(#p112c683f5e)" style="stroke: #000000"/>
    <path d="M 724.53 263.49 L 723.96 263.59 L 723.43 263.85 L 723.02 264.27 L 722.75 264.79 L 722.66 265.37 L 722.75 265.95 L 723.02 266.47 L 723.43 266.89 L 723.96 267.15 L 724.53 267.24 L 725.11 267.15 L 725.64 266.89 L 726.05 266.47 L 726.32 265.95 L 726.41 265.37 L 726.32 264.79 L 726.05 264.27 L 725.64 263.85 L 725.11 263.59 L 724.53 263.49 L 724.53 263.49 L 725.11 263.59 L 725.64 263.85 L 726.05 264.27 L 726.32 264.79 L 726.41 265.37 L 726.32 265.95 L 726.05 266.47 L 725.64 266.89 L 725.11 267.15 L 724.53 267.24 L 723.96 267.15 L 723.43 266.89 L 723.02 266.47 L 722.75 265.95 L 722.66 265.37 L 722.75 264.79 L 723.02 264.27 L 723.43 263.85 L 723.96 263.59 L 724.53 263.49 z" clip-path="url(#p112c683f5e)" style="stroke: #000000"/>
    <path d="M 78.28 277.23 L 65.78 277.23 L 68.12 277.23 L 67.34 274.73 L 68.12 277.23 z" clip-path="url(#p112c683f5e)" style="stroke: #000000"/>
    <path d="M 102.42 277.78 L 89.97 276.69 L 92.31 276.89 L 91.75 274.33 L 92.31 276.89 z" clip-path="url(#p112c683f5e)" style="stroke: #000000"/>
    <path d="M 126.61 277.23 L 114.11 277.23 L 116.46 277.23 L 115.68 274.73 L 116.46 277.23 z" clip-path="url(#p112c683f5e)" style="stroke: #000000"/>
    <path d="M 150.40 279.37 L 138.66 275.09 L 140.86 275.89 L 140.98 273.28 L 140.86 275.89 z" clip-path="url(#p112c683f5e)" style="stroke: #000000"/>
    <path d="M 172.28 282.35 L 165.11 272.11 L 166.46 274.03 L 168.06 271.96 L 166.46 274.03 z" clip-path="url(#p112c683f5e)" style="stroke: #000000"/>
    <path d="M 196.45 282.35 L 189.28 272.11 L 190.62 274.03 L 192.22 271.96 L 190.62 274.03 z" clip-path="url(#p112c683f5e)" style="stroke: #000000"/>
    <path d="M 220.62 282.35 L 213.45 272.11 L 214.79 274.03 L 216.39 271.96 L 214.79 274.03 z" clip-path="url(#p112c683f5e)" style="stroke: #000000"/>
    <path d="M 246.12 281.08 L 236.27 273.38 L 238.12 274.83 L 239.04 272.38 L 238.12 274.83 z" clip-path="url(#p112c683f5e)" style="stroke: #000000"/>
    <path d="M 270.93 280.07 L 259.80 274.39 L 261.88 275.46 L 262.32 272.88 L 261.88 275.46 z" clip-path="url(#p112c683f5e)" style="stroke: #000000"/>
    <path d="M 295.57 278.85 L 283.50 275.61 L 285.76 276.22 L 285.65 273.60 L 285.76 276.22 z" clip-path="url(#p112c683f5e)" style="stroke: #000000"/>
    <path d="M 319.85 278.32 L 307.54 276.15 L 309.85 276.55 L 309.52 273.96 L 309.85 276.55 z" clip-path="url(#p112c683f5e)" style="stroke: #000000"/>
    <path d="M 344.09 277.78 L 331.64 276.69 L 333.97 276.89 L 333.41 274.33 L 333.97 276.89 z" clip-path="url(#p112c683f5e)" style="stroke: #000000"/>
    <path d="M 367.70 279.87 L 356.37 274.59 L 358.49 275.58 L 358.84 272.98 L 358.49 275.58 z" clip-path="url(#p112c683f5e)" style="stroke: #000000"/>
    <path d="M 391.32 280.82 L 381.08 273.65 L 383.00 274.99 L 383.79 272.49 L 383.00 274.99 z" clip-path="url(#p112c683f5e)" style="stroke: #000000"/>
    <path d="M 414.79 281.65 L 405.95 272.81 L 408.38 268.17 L 405.95 272.81 z" clip-path="url(#p112c683f5e)" style="stroke: #000000"/>
    <path d="M 438.95 281.65 L 430.11 272.81 L 431.77 274.47 L 432.99 272.15 L 431.77 274.47 z" clip-path="url(#p112c683f5e)" style="stroke: #000000"/>
    <path d="M 463.12 281.65 L 454.28 272.81 L 455.94 274.47 L 457.15 272.15 L 455.94 274.47 z" clip-path="url(#p112c683f5e)" style="stroke: #000000"/>
    <path d="M 487.51 281.41 L 478.22 273.05 L 479.96 274.62 L 481.06 272.24 L 479.96 274.62 z" clip-path="url(#p112c683f5e)" style="stroke: #000000"/>
    <path d="M 512.55 280.17 L 501.51 274.30 L 503.58 275.40 L 504.07 272.82 L 503.58 275.40 z" clip-path="url(#p112c683f5e)" style="stroke: #000000"/>
    <path d="M 536.72 280.17 L 525.68 274.30 L 527.75 275.40 L 528.24 272.82 L 527.75 275.40 z" clip-path="url(#p112c683f5e)" style="stroke: #000000"/>
    <path d="M 560.89 280.17 L 549.85 274.30 L 551.92 275.40 L 552.40 272.82 L 551.92 275.40 z" clip-path="url(#p112c683f5e)" style="stroke: #000000"/>
    <path d="M 585.51 279.06 L 573.56 275.40 L 575.80 276.09 L 575.78 273.47 L 575.80 276.09 z" clip-path="url(#p112c683f5e)" style="stroke: #000000"/>
    <path d="M 609.68 279.06 L 597.72 275.40 L 599.97 276.09 L 599.95 273.47 L 599.97 276.09 z" clip-path="url(#p112c683f5e)" style="stroke: #000000"/>
    <path d="M 634.12 277.23 L 621.62 277.23 L 623.96 277.23 L 623.18 274.73 L 623.96 277.23 z" clip-path="url(#p112c683f5e)" style="stroke: #000000"/>
    <path d="M 658.10 275.72 L 645.97 278.74 L 648.24 278.18 L 646.88 275.94 L 648.24 278.18 z" clip-path="url(#p112c683f5e)" style="stroke: #000000"/>
    <path d="M 682.29 275.83 L 670.11 278.64 L 672.39 278.11 L 671.07 275.85 L 672.39 278.11 z" clip-path="url(#p112c683f5e)" style="stroke: #000000"/>
    <path d="M 700.37 275.36 L 699.79 275.45 L 699.27 275.71 L 698.85 276.13 L 698.58 276.65 L 698.49 277.23 L 698.58 277.81 L 698.85 278.33 L 699.27 278.75 L 699.79 279.01 L 700.37 279.11 L 700.95 279.01 L 701.47 278.75 L 701.88 278.33 L 702.15 277.81 L 702.24 277.23 L 702.15 276.65 L 701.88 276.13 L 701.47 275.71 L 700.95 275.45 L 700.37 275.36 L 700.37 275.36 L 700.95 275.45 L 701.47 275.71 L 701.88 276.13 L 702.15 276.65 L 702.24 277.23 L 702.15 277.81 L 701.88 278.33 L 701.47 278.75 L 700.95 279.01 L 700.37 279.11 L 699.79 279.01 L 699.27 278.75 L 698.85 278.33 L 698.58 277.81 L 698.49 277.23 L 698.58 276.65 L 698.85 276.13 L 699.27 275.71 L 699.79 275.45 L 700.37 275.36 z" clip-path="url(#p112c683f5e)" style="stroke: #000000"/>
    <path d="M 724.53 275.36 L 723.96 275.45 L 723.43 275.71 L 723.02 276.13 L 722.75 276.65 L 722.66 277.23 L 722.75 277.81 L 723.02 278.33 L 723.43 278.75 L 723.96 279.01 L 724.53 279.11 L 725.11 279.01 L 725.64 278.75 L 726.05 278.33 L 726.32 277.81 L 726.41 277.23 L 726.32 276.65 L 726.05 276.13 L 725.64 275.71 L 725.11 275.45 L 724.53 275.36 L 724.53 275.36 L 725.11 275.45 L 725.64 275.71 L 726.05 276.13 L 726.32 276.65 L 726.41 277.23 L 726.32 277.81 L 726.05 278.33 L 725.64 278.75 L 725.11 279.01 L 724.53 279.11 L 723.96 279.01 L 723.43 278.75 L 723.02 278.33 L 722.75 277.81 L 722.66 277.23 L 722.75 276.65 L 723.02 276.13 L 723.43 275.71 L 723.96 275.45 L 724.53 275.36 z" clip-path="url(#p112c683f5e)" style="stroke: #000000"/>
    <path d="M 77.90 286.96 L 66.16 291.23 L 68.36 290.43 L 66.77 288.35 L 68.36 290.43 z" clip-path="url(#p112c683f5e)" style="stroke: #000000"/>
    <path d="M 102.45 289.09 L 89.95 289.09 L 92.29 289.09 L 91.51 286.59 L 92.29 289.09 z" clip-path="url(#p112c683f5e)" style="stroke: #000000"/>
    <path d="M 126.61 289.09 L 114.11 289.09 L 116.46 289.09 L 115.68 286.59 L 116.46 289.09 z" clip-path="url(#p112c683f5e)" style="stroke: #000000"/>
    <path d="M 150.20 291.73 L 138.87 286.45 L 140.99 287.44 L 141.34 284.85 L 140.99 287.44 z" clip-path="url(#p112c683f5e)" style="stroke: #000000"/>
    <path d="M 172.28 294.21 L 165.11 283.97 L 166.46 285.89 L 168.06 283.82 L 166.46 285.89 z" clip-path="url(#p112c683f5e)" style="stroke: #000000"/>
    <path d="M 196.45 294.21 L 189.28 283.97 L 190.62 285.89 L 192.22 283.82 L 190.62 285.89 z" clip-path="url(#p112c683f5e)" style="stroke: #000000"/>
    <path d="M 220.88 294.02 L 213.18 284.17 L 214.63 286.01 L 216.12 283.86 L 214.63 286.01 z" clip-path="url(#p112c683f5e)" style="stroke: #000000"/>
    <path d="M 246.72 292.03 L 235.68 286.16 L 237.75 287.26 L 238.23 284.68 L 237.75 287.26 z" clip-path="url(#p112c683f5e)" style="stroke: #000000"/>
    <path d="M 271.40 290.71 L 259.33 287.48 L 261.59 288.08 L 261.48 285.46 L 261.59 288.08 z" clip-path="url(#p112c683f5e)" style="stroke: #000000"/>
    <path d="M 295.74 288.33 L 283.33 289.85 L 285.66 289.57 L 284.57 287.18 L 285.66 289.57 z" clip-path="url(#p112c683f5e)" style="stroke: #000000"/>
    <path d="M 319.90 288.33 L 307.50 289.85 L 309.82 289.57 L 308.74 287.18 L 309.82 289.57 z" clip-path="url(#p112c683f5e)" style="stroke: #000000"/>
    <path d="M 343.93 287.58 L 331.80 290.61 L 334.08 290.04 L 332.71 287.80 L 334.08 290.04 z" clip-path="url(#p112c683f5e)" style="stroke: #000000"/>
    <path d="M 368.10 290.61 L 355.97 287.58 L 358.24 288.15 L 358.09 285.53 L 358.24 288.15 z" clip-path="url(#p112c683f5e)" style="stroke: #000000"/>
    <path d="M 391.61 292.22 L 380.79 285.97 L 382.82 287.14 L 383.39 284.58 L 382.82 287.14 z" clip-path="url(#p112c683f5e)" style="stroke: #000000"/>
    <path d="M 415.49 292.68 L 405.25 285.51 L 407.17 286.85 L 407.96 284.36 L 407.17 286.85 z" clip-path="url(#p112c683f5e)" style="stroke: #000000"/>
    <path d="M 439.65 292.68 L 429.41 285.51 L 431.33 286.85 L 432.13 284.36 L 431.33 286.85 z" clip-path="url(#p112c683f5e)" style="stroke: #000000"/>
    <path d="M 463.82 292.68 L 453.58 285.51 L 455.50 286.85 L 456.29 284.36 L 455.50 286.85 z" clip-path="url(#p112c683f5e)" style="stroke: #000000"/>
    <path d="M 487.99 292.68 L 477.75 285.51 L 479.67 286.85 L 480.46 284.36 L 479.67 286.85 z" clip-path="url(#p112c683f5e)" style="stroke: #000000"/>
    <path d="M 512.60 291.93 L 501.46 286.26 L 503.55 287.32 L 503.99 284.74 L 503.55 287.32 z" clip-path="url(#p112c683f5e)" style="stroke: #000000"/>
    <path d="M 536.95 291.54 L 525.45 286.65 L 527.60 287.57 L 527.86 284.96 L 527.60 287.57 z" clip-path="url(#p112c683f5e)" style="stroke: #000000"/>
    <path d="M 561.12 291.54 L 549.61 286.65 L 551.77 287.57 L 552.03 284.96 L 551.77 287.57 z" clip-path="url(#p112c683f5e)" style="stroke: #000000"/>
    <path d="M 585.51 290.92 L 573.56 287.27 L 575.80 287.95 L 575.78 285.33 L 575.80 287.95 z" clip-path="url(#p112c683f5e)" style="stroke: #000000"/>
    <path d="M 609.79 290.50 L 597.61 287.69 L 599.89 288.21 L 599.70 285.60 L 599.89 288.21 z" clip-path="url(#p112c683f5e)" style="stroke: #000000"/>
    <path d="M 633.93 287.58 L 621.80 290.61 L 624.08 290.04 L 622.71 287.80 L 624.08 290.04 z" clip-path="url(#p112c683f5e)" style="stroke: #000000"/>
    <path d="M 652.03 287.22 L 651.45 287.31 L 650.93 287.58 L 650.52 287.99 L 650.25 288.51 L 650.16 289.09 L 650.25 289.67 L 650.52 290.20 L 650.93 290.61 L 651.45 290.88 L 652.03 290.97 L 652.61 290.88 L 653.14 290.61 L 653.55 290.20 L 653.82 289.67 L 653.91 289.09 L 653.82 288.51 L 653.55 287.99 L 653.14 287.58 L 652.61 287.31 L 652.03 287.22 L 652.03 287.22 L 652.61 287.31 L 653.14 287.58 L 653.55 287.99 L 653.82 288.51 L 653.91 289.09 L 653.82 289.67 L 653.55 290.20 L 653.14 290.61 L 652.61 290.88 L 652.03 290.97 L 651.45 290.88 L 650.93 290.61 L 650.52 290.20 L 650.25 289.67 L 650.16 289.09 L 650.25 288.51 L 650.52 287.99 L 650.93 287.58 L 651.45 287.31 L 652.03 287.22 z" clip-path="url(#p112c683f5e)" style="stroke: #000000"/>
    <path d="M 676.20 287.22 L 675.62 287.31 L 675.10 287.58 L 674.68 287.99 L 674.42 288.51 L 674.33 289.09 L 674.42 289.67 L 674.68 290.20 L 675.10 290.61 L 675.62 290.88 L 676.20 290.97 L 676.78 290.88 L 677.30 290.61 L 677.72 290.20 L 677.98 289.67 L 678.08 289.09 L 677.98 288.51 L 677.72 287.99 L 677.30 287.58 L 676.78 287.31 L 676.20 287.22 L 676.20 287.22 L 676.78 287.31 L 677.30 287.58 L 677.72 287.99 L 677.98 288.51 L 678.08 289.09 L 677.98 289.67 L 677.72 290.20 L 677.30 290.61 L 676.78 290.88 L 676.20 290.97 L 675.62 290.88 L 675.10 290.61 L 674.68 290.20 L 674.42 289.67 L 674.33 289.09 L 674.42 288.51 L 674.68 287.99 L 675.10 287.58 L 675.62 287.31 L 676.20 287.22 z" clip-path="url(#p112c683f5e)" style="stroke: #000000"/>
    <path d="M 700.37 287.22 L 699.79 287.31 L 699.27 287.58 L 698.85 287.99 L 698.58 288.51 L 698.49 289.09 L 698.58 289.67 L 698.85 290.20 L 699.27 290.61 L 699.79 290.88 L 700.37 290.97 L 700.95 290.88 L 701.47 290.61 L 701.88 290.20 L 702.15 289.67 L 702.24 289.09 L 702.15 288.51 L 701.88 287.99 L 701.47 287.58 L 700.95 287.31 L 700.37 287.22 L 700.37 287.22 L 700.95 287.31 L 701.47 287.58 L 701.88 287.99 L 702.15 288.51 L 702.24 289.09 L 702.15 289.67 L 701.88 290.20 L 701.47 290.61 L 700.95 290.88 L 700.37 290.97 L 699.79 290.88 L 699.27 290.61 L 698.85 290.20 L 698.58 289.67 L 698.49 289.09 L 698.58 288.51 L 698.85 287.99 L 699.27 287.58 L 699.79 287.31 L 700.37 287.22 z" clip-path="url(#p112c683f5e)" style="stroke: #000000"/>
    <path d="M 724.53 287.22 L 723.96 287.31 L 723.43 287.58 L 723.02 287.99 L 722.75 288.51 L 722.66 289.09 L 722.75 289.67 L 723.02 290.20 L 723.43 290.61 L 723.96 290.88 L 724.53 290.97 L 725.11 290.88 L 725.64 290.61 L 726.05 290.20 L 726.32 289.67 L 726.41 289.09 L 726.32 288.51 L 726.05 287.99 L 725.64 287.58 L 725.11 287.31 L 724.53 287.22 L 724.53 287.22 L 725.11 287.31 L 725.64 287.58 L 726.05 287.99 L 726.32 288.51 L 726.41 289.09 L 726.32 289.67 L 726.05 290.20 L 725.64 290.61 L 725.11 290.88 L 724.53 290.97 L 723.96 290.88 L 723.43 290.61 L 723.02 290.20 L 722.75 289.67 L 722.66 289.09 L 722.75 288.51 L 723.02 287.99 L 723.43 287.58 L 723.96 287.31 L 724.53 287.22 z" clip-path="url(#p112c683f5e)" style="stroke: #000000"/>
   </g>
   <g id="matplotlib.axis_1">
    <g id="xtick_1">
     <g id="crisp5" transform="translate(0.36 0.36)">
      
      <g>
       <path d="M 0 0 L 0 3.9" transform="translate(217.03 300.96)" style="stroke: #000000; stroke-width: 0.735"/>
      </g>
     </g>
    </g>
    <g id="xtick_2">
     <g id="crisp8" transform="translate(0.36 0.36)">
      <g>
       <path d="M 0 0 L 0 3.9" transform="translate(507.03 300.96)" style="stroke: #000000; stroke-width: 0.735"/>
      </g>
     </g>
    </g>
    <g id="xtick_3">
     <g id="crisp11" transform="translate(0.36 0.36)">
      
      <g>
       <path d="M 0 0 L 0 2.6" transform="translate(72.03 300.96)" style="stroke: #000000; stroke-width: 0.735"/>
      </g>
     </g>
    </g>
    <g id="xtick_4">
     <g id="crisp14" transform="translate(0.36 0.36)">
      <g>
       <path d="M 0 0 L 0 2.6" transform="translate(144.53 300.96)" style="stroke: #000000; stroke-width: 0.735"/>
      </g>
     </g>
    </g>
    <g id="xtick_5">
     <g id="crisp17" transform="translate(0.36 0.36)">
      <g>
       <path d="M 0 0 L 0 2.6" transform="translate(289.53 300.96)" style="stroke: #000000; stroke-width: 0.735"/>
      </g>
     </g>
    </g>
    <g id="xtick_6">
     <g id="crisp20" transform="translate(0.36 0.36)">
      <g>
       <path d="M 0 0 L 0 2.6" transform="translate(362.03 300.96)" style="stroke: #000000; stroke-width: 0.735"/>
      </g>
     </g>
    </g>
    <g id="xtick_7">
     <g id="crisp23" transform="translate(0.36 0.36)">
      <g>
       <path d="M 0 0 L 0 2.6" transform="translate(434.53 300.96)" style="stroke: #000000; stroke-width: 0.735"/>
      </g>
     </g>
    </g>
    <g id="xtick_8">
     <g id="crisp26" transform="translate(0.36 0.36)">
      <g>
       <path d="M 0 0 L 0 2.6" transform="translate(579.53 300.96)" style="stroke: #000000; stroke-width: 0.735"/>
      </g>
     </g>
    </g>
    <g id="xtick_9">
     <g id="crisp29" transform="translate(0.36 0.36)">
      <g>
       <path d="M 0 0 L 0 2.6" transform="translate(652.03 300.96)" style="stroke: #000000; stroke-width: 0.735"/>
      </g>
     </g>
    </g>
    <g id="xtick_10">
     <g id="crisp32" transform="translate(0.36 0.36)">
      <g>
       <path d="M 0 0 L 0 2.6" transform="translate(724.53 300.96)" style="stroke: #000000; stroke-width: 0.735"/>
      </g>
     </g>
    </g>
   </g>
   <g id="matplotlib.axis_2">
    <g id="ytick_1">
     <g id="crisp37" transform="translate(0.36 0.36)">
      <path d="M 54 39.99 L 742.32 39.99" clip-path="url(#p112c683f5e)" style="fill: none; stroke: #b0b0b0; stroke-width: 0.735; stroke-linecap: square"/>
     </g>
     <g id="crisp35" transform="translate(0.36 0.36)">
      
      <g>
       <path d="M 0 0 L -3.9 0" transform="translate(54 39.99)" style="stroke: #000000; stroke-width: 0.735"/>
      </g>
     </g>
     <g id="text_1">
      <text style="font-size: 10px; font-family: 'DejaVu Sans', 'Liberation Sans', sans-serif; text-anchor: end" x="46.41" y="43.79" transform="rotate(-0 46.41 43.79)">400</text>
     </g>
    </g>
    <g id="ytick_2">
     <g id="crisp40" transform="translate(0.36 0.36)">
      <path d="M 54 87.44 L 742.32 87.44" clip-path="url(#p112c683f5e)" style="fill: none; stroke: #b0b0b0; stroke-width: 0.735; stroke-linecap: square"/>
     </g>
     <g id="crisp38" transform="translate(0.36 0.36)">
      <g>
       <path d="M 0 0 L -3.9 0" transform="translate(54 87.44)" style="stroke: #000000; stroke-width: 0.735"/>
      </g>
     </g>
     <g id="text_2">
      <text style="font-size: 10px; font-family: 'DejaVu Sans', 'Liberation Sans', sans-serif; text-anchor: end" x="46.41" y="91.24" transform="rotate(-0 46.41 91.24)">500</text>
     </g>
    </g>
    <g id="ytick_3">
     <g id="crisp43" transform="translate(0.36 0.36)">
      <path d="M 54 134.89 L 742.32 134.89" clip-path="url(#p112c683f5e)" style="fill: none; stroke: #b0b0b0; stroke-width: 0.735; stroke-linecap: square"/>
     </g>
     <g id="crisp41" transform="translate(0.36 0.36)">
      <g>
       <path d="M 0 0 L -3.9 0" transform="translate(54 134.89)" style="stroke: #000000; stroke-width: 0.735"/>
      </g>
     </g>
     <g id="text_3">
      <text style="font-size: 10px; font-family: 'DejaVu Sans', 'Liberation Sans', sans-serif; text-anchor: end" x="46.41" y="138.69" transform="rotate(-0 46.41 138.69)">600</text>
     </g>
    </g>
    <g id="ytick_4">
     <g id="crisp46" transform="translate(0.36 0.36)">
      <path d="M 54 182.34 L 742.32 182.34" clip-path="url(#p112c683f5e)" style="fill: none; stroke: #b0b0b0; stroke-width: 0.735; stroke-linecap: square"/>
     </g>
     <g id="crisp44" transform="translate(0.36 0.36)">
      <g>
       <path d="M 0 0 L -3.9 0" transform="translate(54 182.34)" style="stroke: #000000; stroke-width: 0.735"/>
      </g>
     </g>
     <g id="text_4">
      <text style="font-size: 10px; font-family: 'DejaVu Sans', 'Liberation Sans', sans-serif; text-anchor: end" x="46.41" y="186.13" transform="rotate(-0 46.41 186.13)">700</text>
     </g>
    </g>
    <g id="ytick_5">
     <g id="crisp49" transform="translate(0.36 0.36)">
      <path d="M 54 229.78 L 742.32 229.78" clip-path="url(#p112c683f5e)" style="fill: none; stroke: #b0b0b0; stroke-width: 0.735; stroke-linecap: square"/>
     </g>
     <g id="crisp47" transform="translate(0.36 0.36)">
      <g>
       <path d="M 0 0 L -3.9 0" transform="translate(54 229.78)" style="stroke: #000000; stroke-width: 0.735"/>
      </g>
     </g>
     <g id="text_5">
      <text style="font-size: 10px; font-family: 'DejaVu Sans', 'Liberation Sans', sans-serif; text-anchor: end" x="46.41" y="233.58" transform="rotate(-0 46.41 233.58)">800</text>
     </g>
    </g>
    <g id="ytick_6">
     <g id="crisp52" transform="translate(0.36 0.36)">
      <path d="M 54 277.23 L 742.32 277.23" clip-path="url(#p112c683f5e)" style="fill: none; stroke: #b0b0b0; stroke-width: 0.735; stroke-linecap: square"/>
     </g>
     <g id="crisp50" transform="translate(0.36 0.36)">
      <g>
       <path d="M 0 0 L -3.9 0" transform="translate(54 277.23)" style="stroke: #000000; stroke-width: 0.735"/>
      </g>
     </g>
     <g id="text_6">
      <text style="font-size: 10px; font-family: 'DejaVu Sans', 'Liberation Sans', sans-serif; text-anchor: end" x="46.41" y="281.03" transform="rotate(-0 46.41 281.03)">900</text>
     </g>
    </g>
    <g id="text_7">
     <text style="font-size: 10px; font-family: 'DejaVu Sans', 'Liberation Sans', sans-serif; text-anchor: middle" x="20.76" y="169.61" transform="rotate(-90 20.76 169.61)">temperature [C], wind pressure [hPa]</text>
    </g>
   </g>
   <g id="line2d_1">
    <path d="M 72.03 300.96 L 72.03 39.99" clip-path="url(#p112c683f5e)" style="fill: none; stroke-dasharray: 0.5,0.825; stroke-dashoffset: 0; stroke: #a6a6a6; stroke-width: 0.5"/>
   </g>
   <g id="line2d_2">
    <path d="M 217.03 300.96 L 217.03 39.99" clip-path="url(#p112c683f5e)" style="fill: none; stroke-dasharray: 0.5,0.825; stroke-dashoffset: 0; stroke: #a6a6a6; stroke-width: 0.5"/>
   </g>
   <g id="line2d_3">
    <path d="M 362.03 300.96 L 362.03 39.99" clip-path="url(#p112c683f5e)" style="fill: none; stroke-dasharray: 0.5,0.825; stroke-dashoffset: 0; stroke: #a6a6a6; stroke-width: 0.5"/>
   </g>
   <g id="line2d_4">
    <path d="M 652.03 300.96 L 652.03 39.99" clip-path="url(#p112c683f5e)" style="fill: none; stroke-dasharray: 0.5,0.825; stroke-dashoffset: 0; stroke: #a6a6a6; stroke-width: 0.5"/>
   </g>
   <g id="line2d_5">
    <path d="M 507.03 300.96 L 507.03 39.99" clip-path="url(#p112c683f5e)" style="fill: none; stroke-dasharray: 1.85,0.8; stroke-dashoffset: 0; stroke: #737373; stroke-width: 0.5"/>
   </g>
   <g id="line2d_6">
    <path d="M 246.80 40.46 L 265.38 42.84 L 289.50 44.85 L 301.53 45.28" clip-path="url(#p112c683f5e)" style="fill: none; stroke: #38049a; stroke-width: 1.5"/>
   </g>
   <g id="line2d_7">
    <path d="M 324.72 46.08 L 337.89 48.45 L 362.02 44.42 L 374.26 43.05 L 386.14 42.04 L 398.24 40.46" clip-path="url(#p112c683f5e)" style="fill: none; stroke: #38049a; stroke-width: 1.5"/>
   </g>
   <g id="line2d_8">
    <path d="M 711.27 41.90 L 724.45 42.40" clip-path="url(#p112c683f5e)" style="fill: none; stroke: #38049a; stroke-width: 1.5"/>
   </g>
   <g id="line2d_9">
    <path d="M 72.03 49.96 L 96.23 51.04 L 120.35 53.78 L 144.55 57.09 L 168.67 58.24 L 192.87 60.55 L 216.99 61.92 L 241.18 63.43 L 265.38 65.66 L 289.50 68.68 L 313.70 70.63 L 337.89 73.65 L 362.02 74.66 L 386.21 71.71 L 410.34 66.88 L 434.53 62.78 L 458.66 60.84 L 470.90 61.92" clip-path="url(#p112c683f5e)" style="fill: none; stroke: #6600a7; stroke-width: 1.5"/>
   </g>
   <g id="line2d_10">
    <path d="M 494.23 62.78 L 507.05 62.64 L 531.17 63.07 L 555.37 62.85 L 579.56 62.28 L 603.69 61.70 L 627.88 61.70 L 652.01 62.28 L 676.20 63.57 L 700.40 66.45 L 724.52 69.04" clip-path="url(#p112c683f5e)" style="fill: none; stroke: #6600a7; stroke-width: 1.5"/>
   </g>
   <g id="line2d_11">
    <path d="M 72.03 75.16 L 96.23 76.32 L 120.35 78.91 L 144.55 83.08 L 168.67 83.59 L 192.87 85.24 L 216.99 85.68 L 241.18 86.90 L 265.38 90.50 L 289.50 94.68 L 313.70 100.00 L 337.89 106.77 L 362.02 115.77 L 386.21 122.54 L 410.34 126.28 L 434.53 127.8 L 452.82 118.08" clip-path="url(#p112c683f5e)" style="fill: none; stroke: #8f0da4; stroke-width: 1.5"/>
   </g>
   <g id="line2d_12">
    <path d="M 472.41 106.77 L 482.85 103.32 L 507.05 94.68 L 531.17 92.01 L 555.37 90.36 L 579.56 88.48 L 603.69 88.48 L 627.88 89.71 L 652.01 90.50 L 676.20 92.37 L 700.40 94.39 L 724.52 97.27" clip-path="url(#p112c683f5e)" style="fill: none; stroke: #8f0da4; stroke-width: 1.5"/>
   </g>
   <g id="line2d_13">
    <path d="M 72.03 104.18 L 96.23 107.06 L 120.35 108.28 L 144.55 112.03 L 168.67 112.03 L 192.87 113.54 L 216.99 115.05 L 241.18 117.28 L 265.38 122.97 L 289.50 127.08 L 308.30 133.84 L 313.70 137.59 L 337.89 149.18 L 362.02 156.45 L 386.21 162.86 L 410.34 166.68 L 434.53 165.74 L 458.66 164.23 L 471.62 160.63" clip-path="url(#p112c683f5e)" style="fill: none; stroke: #b42e8d; stroke-width: 1.5"/>
   </g>
   <g id="line2d_14">
    <path d="M 493.44 153.43 L 507.05 148.17 L 521.31 135.28 L 531.17 130.53 L 555.37 127.8 L 579.56 131.68 L 603.69 131.32 L 627.88 130.32 L 652.01 129.67 L 676.20 129.16 L 700.40 128.30 L 724.52 129.16" clip-path="url(#p112c683f5e)" style="fill: none; stroke: #b42e8d; stroke-width: 1.5"/>
   </g>
   <g id="line2d_15">
    <path d="M 72.03 137.59 L 96.23 143.20 L 120.35 141.04 L 144.55 143.92 L 168.67 142.41 L 192.87 145.87 L 216.99 150.40 L 241.18 155.66 L 255.59 165.6 L 265.38 172.44 L 281.15 181.44 L 289.50 188.49 L 313.70 195.69 L 337.89 197.20 L 362.02 205.48 L 386.21 210.02 L 410.34 211.82 L 434.53 211.53 L 458.66 213.04 L 470.90 214.56" clip-path="url(#p112c683f5e)" style="fill: none; stroke: #d04d73; stroke-width: 1.5"/>
   </g>
   <g id="line2d_16">
    <path d="M 494.23 216 L 507.05 215.56 L 531.17 216.50 L 555.37 216.21 L 579.56 215.20 L 603.69 210.45 L 627.88 206.71 L 652.01 206.71 L 676.20 207.93 L 700.40 205.92 L 724.52 201.67" clip-path="url(#p112c683f5e)" style="fill: none; stroke: #d04d73; stroke-width: 1.5"/>
   </g>
   <g id="line2d_17">
    <path d="M 72.03 176.4 L 96.23 178.27 L 120.35 180 L 144.55 181.72 L 168.67 180.28 L 175.73 182.16 L 192.87 192.74 L 206.04 205.99 L 216.99 210.96 L 241.18 226.58 L 265.38 233.35 L 289.50 236.01 L 313.70 237.88 L 329.33 238.10" clip-path="url(#p112c683f5e)" style="fill: none; stroke: #e76e5b; stroke-width: 1.5"/>
   </g>
   <g id="line2d_18">
    <path d="M 345.67 238.60 L 362.02 241.34 L 386.21 243.86 L 410.34 245.08 L 434.53 248.4 L 458.66 251.42 L 482.85 253.36 L 507.05 252.93 L 531.17 257.4 L 555.37 259.77 L 579.56 260.42 L 603.69 255.02 L 627.88 253.29 L 652.01 259.92 L 676.20 257.04 L 700.40 246.02 L 724.52 244.65" clip-path="url(#p112c683f5e)" style="fill: none; stroke: #e76e5b; stroke-width: 1.5"/>
   </g>
   <g id="line2d_19">
    <path d="M 72.03 225.93 L 96.23 227.37 L 120.35 229.82 L 144.55 233.71 L 168.67 240.62 L 192.87 259.05 L 216.99 268.56 L 241.18 276.98 L 265.38 276.55 L 289.50 277.77 L 313.70 278.49 L 337.89 279.72 L 362.02 282.24 L 386.21 283.75 L 410.34 286.77 L 434.53 294.33 L 458.66 294.33 L 482.85 294.76 L 507.05 295.77 L 531.17 297.28 L 548.38 298.8" clip-path="url(#p112c683f5e)" style="fill: none; stroke: #f79143; stroke-width: 1.5"/>
   </g>
   <g id="line2d_20">
    <path d="M 562.21 299.37 L 579.56 299.73 L 603.69 300.24 L 640.41 301.32 L 642.14 301.53" clip-path="url(#p112c683f5e)" style="fill: none; stroke: #f79143; stroke-width: 1.5"/>
   </g>
   <g id="line2d_21">
    <path d="M 687.51 301.68 L 689.52 301.10 L 692.55 300.67" clip-path="url(#p112c683f5e)" style="fill: none; stroke: #f79143; stroke-width: 1.5"/>
   </g>
   <g id="line2d_22">
    <path d="M 707.31 299.01 L 724.52 296.85" clip-path="url(#p112c683f5e)" style="fill: none; stroke: #f79143; stroke-width: 1.5"/>
   </g>
   <g id="line2d_23">
    <path d="M 72.03 266.61 L 96.23 268.34 L 120.35 271.65 L 137.49 274.82" clip-path="url(#p112c683f5e)" style="fill: none; stroke: #feba2c; stroke-width: 1.5"/>
   </g>
   <g id="line2d_24">
    <path d="M 150.45 278.42 L 168.67 285.33 L 186.53 299.73 L 188.47 301.53" clip-path="url(#p112c683f5e)" style="fill: none; stroke: #feba2c; stroke-width: 1.5"/>
   </g>
   <g id="crisp1" transform="translate(0.36 0.36)">
    <path d="M 54 300.96 L 54 39.99" style="fill: none; stroke: #000000; stroke-width: 0.735; stroke-linejoin: miter; stroke-linecap: square"/>
   </g>
   <g id="crisp2" transform="translate(0.36 0.36)">
    <path d="M 742.32 300.96 L 742.32 39.99" style="fill: none; stroke: #000000; stroke-width: 0.735; stroke-linejoin: miter; stroke-linecap: square"/>
   </g>
   <g id="crisp3" transform="translate(0.36 0.36)">
    <path d="M 54 300.96 L 742.32 300.96" style="fill: none; stroke: #000000; stroke-width: 0.735; stroke-linejoin: miter; stroke-linecap: square"/>
   </g>
   <g id="crisp4" transform="translate(0.36 0.36)">
    <path d="M 54 39.99 L 742.32 39.99" style="fill: none; stroke: #000000; stroke-width: 0.735; stroke-linejoin: miter; stroke-linecap: square"/>
   </g>
   <g id="text_8">
    <g clip-path="url(#p112c683f5e)">
     <text style="font-size: 10px; font-family: 'DejaVu Sans', 'Liberation Sans', sans-serif; text-anchor: middle; fill: #38049a" x="313.44" y="47.75" transform="rotate(-2 313.44 47.75)">-36</text>
    </g>
   </g>
   <g id="text_9">
    <g clip-path="url(#p112c683f5e)">
     <text style="font-size: 10px; font-family: 'DejaVu Sans', 'Liberation Sans', sans-serif; text-anchor: middle; fill: #38049a" x="701.81" y="42.71" transform="rotate(-358 701.81 42.71)">-36</text>
    </g>
   </g>
   <g id="text_10">
    <g clip-path="url(#p112c683f5e)">
     <text style="font-size: 10px; font-family: 'DejaVu Sans', 'Liberation Sans', sans-serif; text-anchor: middle; fill: #6600a7" x="482.73" y="64.53" transform="rotate(-2 482.73 64.53)">-30</text>
    </g>
   </g>
   <g id="text_11">
    <g clip-path="url(#p112c683f5e)">
     <text style="font-size: 10px; font-family: 'DejaVu Sans', 'Liberation Sans', sans-serif; text-anchor: middle; fill: #8f0da4" x="461.09" y="113.05" transform="rotate(-330 461.09 113.05)">-24</text>
    </g>
   </g>
   <g id="text_12">
    <g clip-path="url(#p112c683f5e)">
     <text style="font-size: 10px; font-family: 'DejaVu Sans', 'Liberation Sans', sans-serif; text-anchor: middle; fill: #b42e8d" x="482.36" y="159.44" transform="rotate(-342 482.36 159.44)">-18</text>
    </g>
   </g>
   <g id="text_13">
    <g clip-path="url(#p112c683f5e)">
     <text style="font-size: 10px; font-family: 'DejaVu Sans', 'Liberation Sans', sans-serif; text-anchor: middle; fill: #d04d73" x="482.35" y="218.97" transform="rotate(-3 482.35 218.97)">-12</text>
    </g>
   </g>
   <g id="text_14">
    <g clip-path="url(#p112c683f5e)">
     <text style="font-size: 10px; font-family: 'DejaVu Sans', 'Liberation Sans', sans-serif; text-anchor: middle; fill: #e76e5b" x="337.63" y="240.06" transform="rotate(-2 337.63 240.06)">-6</text>
    </g>
   </g>
   <g id="text_15">
    <g clip-path="url(#p112c683f5e)">
     <text style="font-size: 10px; font-family: 'DejaVu Sans', 'Liberation Sans', sans-serif; text-anchor: middle; fill: #f79143" x="555.70" y="300.98" transform="rotate(-2.5 555.70 300.98)">0</text>
    </g>
   </g>
   <g id="text_16">
    <g clip-path="url(#p112c683f5e)">
     <text style="font-size: 10px; font-family: 'DejaVu Sans', 'Liberation Sans', sans-serif; text-anchor: middle; fill: #f79143" x="700.87" y="300.96" transform="rotate(-353.3 700.87 300.96)">0</text>
    </g>
   </g>
   <g id="text_17">
    <g clip-path="url(#p112c683f5e)">
     <text style="font-size: 10px; font-family: 'DejaVu Sans', 'Liberation Sans', sans-serif; text-anchor: middle; fill: #feba2c" x="144.83" y="278.49" transform="rotate(-15 144.83 278.49)">6</text>
    </g>
   </g>
   <g id="text_18">
    <text style="font-size: 8.33px; font-family: 'DejaVu Sans', 'Liberation Sans', sans-serif; text-anchor: start; fill: #595959" x="72.14" y="298.44" transform="rotate(-0 72.14 298.44)">© Meteorological Institute Munich</text>
   </g>
  </g>
  <g id="axes_2">
   <g id="patch_3">
    <path d="M 748.8 300.96 L 779.04 300.96 L 779.04 39.99 L 748.8 39.99 z" style="fill: #ffffff"/>
   </g>
   <g id="FillBetweenPolyCollection_1">
    
    <g clip-path="url(#p9b689d9d10)">
     <path d="M 748.8 -755.60 L 748.8 -494.64 L 779.04 -494.64 L 779.04 -755.60 L 779.04 -755.60 L 748.8 -755.60 z" transform="translate(0 795.6)" style="fill: #4f85bb"/>
    </g>
   </g>
   <g id="FillBetweenPolyCollection_2">
    
    <g clip-path="url(#p9b689d9d10)">
     <path d="M 748.8 -755.60 L 748.8 -521.38 L 779.04 -521.38 L 779.04 -755.60 L 779.04 -755.60 L 748.8 -755.60 z" transform="translate(0 795.6)" style="fill: #6092c3"/>
    </g>
   </g>
   <g id="FillBetweenPolyCollection_3">
    
    <g clip-path="url(#p9b689d9d10)">
     <path d="M 748.8 -755.60 L 748.8 -547.48 L 779.04 -547.48 L 779.04 -755.60 L 779.04 -755.60 L 748.8 -755.60 z" transform="translate(0 795.6)" style="fill: #729ecb"/>
    </g>
   </g>
   <g id="FillBetweenPolyCollection_4">
    
    <g clip-path="url(#p9b689d9d10)">
     <path d="M 748.8 -755.60 L 748.8 -573.58 L 779.04 -573.58 L 779.04 -755.60 L 779.04 -755.60 L 748.8 -755.60 z" transform="translate(0 795.6)" style="fill: #85acd3"/>
    </g>
   </g>
   <g id="FillBetweenPolyCollection_5">
    
    <g clip-path="url(#p9b689d9d10)">
     <path d="M 748.8 -755.60 L 748.8 -599.67 L 779.04 -599.67 L 779.04 -755.60 L 779.04 -755.60 L 748.8 -755.60 z" transform="translate(0 795.6)" style="fill: #99bada"/>
    </g>
   </g>
   <g id="FillBetweenPolyCollection_6">
    
    <g clip-path="url(#p9b689d9d10)">
     <path d="M 748.8 -755.60 L 748.8 -625.77 L 779.04 -625.77 L 779.04 -755.60 L 779.04 -755.60 L 748.8 -755.60 z" transform="translate(0 795.6)" style="fill: #acc6e0"/>
    </g>
   </g>
   <g id="FillBetweenPolyCollection_7">
    
    <g clip-path="url(#p9b689d9d10)">
     <path d="M 748.8 -755.60 L 748.8 -651.87 L 779.04 -651.87 L 779.04 -755.60 L 779.04 -755.60 L 748.8 -755.60 z" transform="translate(0 795.6)" style="fill: #bfd4e8"/>
    </g>
   </g>
   <g id="FillBetweenPolyCollection_8">
    
    <g clip-path="url(#p9b689d9d10)">
     <path d="M 748.8 -755.60 L 748.8 -677.96 L 779.04 -677.96 L 779.04 -755.60 L 779.04 -755.60 L 748.8 -755.60 z" transform="translate(0 795.6)" style="fill: #d2e0ef"/>
    </g>
   </g>
   <g id="FillBetweenPolyCollection_9">
    
    <g clip-path="url(#p9b689d9d10)">
     <path d="M 748.8 -755.60 L 748.8 -704.06 L 779.04 -704.06 L 779.04 -755.60 L 779.04 -755.60 L 748.8 -755.60 z" transform="translate(0 795.6)" style="fill: #e3eaf4"/>
    </g>
   </g>
   <g id="FillBetweenPolyCollection_10">
    
    <g clip-path="url(#p9b689d9d10)">
     <path d="M 748.8 -755.60 L 748.8 -730.16 L 779.04 -730.16 L 779.04 -755.60 L 779.04 -755.60 L 748.8 -755.60 z" transform="translate(0 795.6)" style="fill: #f4f7fb"/>
    </g>
   </g>
   <g id="matplotlib.axis_3"/>
   <g id="matplotlib.axis_4">
    <g id="ytick_7">
     <g id="crisp239" transform="translate(0.36 0.36)">
      
      <g>
       <path d="M 0 0 L 3.9 0" transform="translate(779.04 300.96)" style="stroke: #000000; stroke-width: 0.735"/>
      </g>
     </g>
     <g id="text_19">
      <text style="font-size: 10px; font-family: 'DejaVu Sans', 'Liberation Sans', sans-serif; text-anchor: start" x="786.04" y="304.75" transform="rotate(-0 786.04 304.75)">0</text>
     </g>
    </g>
    <g id="ytick_8">
     <g id="crisp242" transform="translate(0.36 0.36)">
      <g>
       <path d="M 0 0 L 3.9 0" transform="translate(779.04 248.76)" style="stroke: #000000; stroke-width: 0.735"/>
      </g>
     </g>
     <g id="text_20">
      <text style="font-size: 10px; font-family: 'DejaVu Sans', 'Liberation Sans', sans-serif; text-anchor: start" x="786.04" y="252.56" transform="rotate(-0 786.04 252.56)">20</text>
     </g>
    </g>
    <g id="ytick_9">
     <g id="crisp245" transform="translate(0.36 0.36)">
      <g>
       <path d="M 0 0 L 3.9 0" transform="translate(779.04 196.57)" style="stroke: #000000; stroke-width: 0.735"/>
      </g>
     </g>
     <g id="text_21">
      <text style="font-size: 10px; font-family: 'DejaVu Sans', 'Liberation Sans', sans-serif; text-anchor: start" x="786.04" y="200.37" transform="rotate(-0 786.04 200.37)">40</text>
     </g>
    </g>
    <g id="ytick_10">
     <g id="crisp248" transform="translate(0.36 0.36)">
      <g>
       <path d="M 0 0 L 3.9 0" transform="translate(779.04 144.38)" style="stroke: #000000; stroke-width: 0.735"/>
      </g>
     </g>
     <g id="text_22">
      <text style="font-size: 10px; font-family: 'DejaVu Sans', 'Liberation Sans', sans-serif; text-anchor: start" x="786.04" y="148.18" transform="rotate(-0 786.04 148.18)">60</text>
     </g>
    </g>
    <g id="ytick_11">
     <g id="crisp251" transform="translate(0.36 0.36)">
      <g>
       <path d="M 0 0 L 3.9 0" transform="translate(779.04 92.18)" style="stroke: #000000; stroke-width: 0.735"/>
      </g>
     </g>
     <g id="text_23">
      <text style="font-size: 10px; font-family: 'DejaVu Sans', 'Liberation Sans', sans-serif; text-anchor: start" x="786.04" y="95.98" transform="rotate(-0 786.04 95.98)">80</text>
     </g>
    </g>
    <g id="ytick_12">
     <g id="crisp254" transform="translate(0.36 0.36)">
      <g>
       <path d="M 0 0 L 3.9 0" transform="translate(779.04 39.99)" style="stroke: #000000; stroke-width: 0.735"/>
      </g>
     </g>
     <g id="text_24">
      <text style="font-size: 10px; font-family: 'DejaVu Sans', 'Liberation Sans', sans-serif; text-anchor: start" x="786.04" y="43.79" transform="rotate(-0 786.04 43.79)">100</text>
     </g>
    </g>
    <g id="text_25">
     <text style="font-size: 10px; font-family: 'DejaVu Sans', 'Liberation Sans', sans-serif; text-anchor: middle" x="815.90" y="170.47" transform="rotate(-90 815.90 170.47)">relative humidity [%]</text>
    </g>
   </g>
   <g id="crisp234" transform="translate(0.36 0.36)">
    <path d="M 748.8 300.96 L 748.8 39.99" style="fill: none; stroke: #000000; stroke-width: 0.735; stroke-linejoin: miter; stroke-linecap: square"/>
   </g>
   <g id="crisp235" transform="translate(0.36 0.36)">
    <path d="M 779.04 300.96 L 779.04 39.99" style="fill: none; stroke: #000000; stroke-width: 0.735; stroke-linejoin: miter; stroke-linecap: square"/>
   </g>
   <g id="crisp236" transform="translate(0.36 0.36)">
    <path d="M 748.8 300.96 L 779.04 300.96" style="fill: none; stroke: #000000; stroke-width: 0.735; stroke-linejoin: miter; stroke-linecap: square"/>
   </g>
   <g id="crisp237" transform="translate(0.36 0.36)">
    <path d="M 748.8 39.99 L 779.04 39.99" style="fill: none; stroke: #000000; stroke-width: 0.735; stroke-linejoin: miter; stroke-linecap: square"/>
   </g>
  </g>
  <g id="axes_3">
   <g id="patch_4">
    <path d="M 54 484.56 L 742.32 484.56 L 742.32 316.08 L 54 316.08 z" style="fill: #ffffff"/>
   </g>
   <g id="FillBetweenPolyCollection_11">
    
    <g clip-path="url(#pc5c2949c8c)">
     <path d="M 72.03 -419.32 L 72.03 -432.31 L 96.20 -431.69 L 120.36 -431.69 L 144.53 -430.00 L 168.70 -421.44 L 192.87 -407.01 L 217.03 -399.14 L 241.20 -397.02 L 265.37 -397.14 L 289.53 -393.39 L 313.70 -393.27 L 337.87 -392.02 L 362.03 -390.58 L 386.20 -390.71 L 410.37 -387.77 L 434.53 -382.77 L 458.70 -382.90 L 482.87 -383.40 L 507.03 -381.96 L 531.20 -381.15 L 555.37 -379.77 L 579.53 -379.65 L 603.70 -379.65 L 627.87 -379.02 L 652.03 -378.34 L 676.20 -378.34 L 700.37 -380.40 L 724.53 -383.27 L 724.53 -346.85 L 724.53 -346.85 L 700.37 -352.16 L 676.20 -361.28 L 652.03 -360.97 L 627.87 -360.53 L 603.70 -360.34 L 579.53 -359.59 L 555.37 -360.34 L 531.20 -363.03 L 507.03 -365.34 L 482.87 -366.78 L 458.70 -370.21 L 434.53 -371.78 L 410.37 -375.27 L 386.20 -377.71 L 362.03 -379.15 L 337.87 -378.34 L 313.70 -379.15 L 289.53 -379.02 L 265.37 -377.71 L 241.20 -376.21 L 217.03 -381.83 L 192.87 -391.21 L 168.70 -408.57 L 144.53 -420.76 L 120.36 -420.13 L 96.20 -420.01 L 72.03 -419.32 z" transform="translate(0 795.6)" style="fill: #808080; fill-opacity: 0.2; stroke: #808080; stroke-opacity: 0.2"/>
    </g>
   </g>
   <g id="matplotlib.axis_5">
    <g id="xtick_11">
     <g id="crisp57" transform="translate(0.36 0.36)">
      <g>
       <path d="M 0 0 L 0 3.9" transform="translate(217.03 484.56)" style="stroke: #000000; stroke-width: 0.735"/>
      </g>
     </g>
    </g>
    <g id="xtick_12">
     <g id="crisp60" transform="translate(0.36 0.36)">
      <g>
       <path d="M 0 0 L 0 3.9" transform="translate(507.03 484.56)" style="stroke: #000000; stroke-width: 0.735"/>
      </g>
     </g>
    </g>
    <g id="xtick_13">
     <g id="crisp63" transform="translate(0.36 0.36)">
      <g>
       <path d="M 0 0 L 0 2.6" transform="translate(72.03 484.56)" style="stroke: #000000; stroke-width: 0.735"/>
      </g>
     </g>
    </g>
    <g id="xtick_14">
     <g id="crisp66" transform="translate(0.36 0.36)">
      <g>
       <path d="M 0 0 L 0 2.6" transform="translate(144.53 484.56)" style="stroke: #000000; stroke-width: 0.735"/>
      </g>
     </g>
    </g>
    <g id="xtick_15">
     <g id="crisp69" transform="translate(0.36 0.36)">
      <g>
       <path d="M 0 0 L 0 2.6" transform="translate(289.53 484.56)" style="stroke: #000000; stroke-width: 0.735"/>
      </g>
     </g>
    </g>
    <g id="xtick_16">
     <g id="crisp72" transform="translate(0.36 0.36)">
      <g>
       <path d="M 0 0 L 0 2.6" transform="translate(362.03 484.56)" style="stroke: #000000; stroke-width: 0.735"/>
      </g>
     </g>
    </g>
    <g id="xtick_17">
     <g id="crisp75" transform="translate(0.36 0.36)">
      <g>
       <path d="M 0 0 L 0 2.6" transform="translate(434.53 484.56)" style="stroke: #000000; stroke-width: 0.735"/>
      </g>
     </g>
    </g>
    <g id="xtick_18">
     <g id="crisp78" transform="translate(0.36 0.36)">
      <g>
       <path d="M 0 0 L 0 2.6" transform="translate(579.53 484.56)" style="stroke: #000000; stroke-width: 0.735"/>
      </g>
     </g>
    </g>
    <g id="xtick_19">
     <g id="crisp81" transform="translate(0.36 0.36)">
      <g>
       <path d="M 0 0 L 0 2.6" transform="translate(652.03 484.56)" style="stroke: #000000; stroke-width: 0.735"/>
      </g>
     </g>
    </g>
    <g id="xtick_20">
     <g id="crisp84" transform="translate(0.36 0.36)">
      <g>
       <path d="M 0 0 L 0 2.6" transform="translate(724.53 484.56)" style="stroke: #000000; stroke-width: 0.735"/>
      </g>
     </g>
    </g>
   </g>
   <g id="matplotlib.axis_6">
    <g id="ytick_13">
     <g id="crisp89" transform="translate(0.36 0.36)">
      <path d="M 54 483.76 L 742.32 483.76" clip-path="url(#pc5c2949c8c)" style="fill: none; stroke: #b0b0b0; stroke-width: 0.735; stroke-linecap: square"/>
     </g>
     <g id="crisp87" transform="translate(0.36 0.36)">
      <g>
       <path d="M 0 0 L -3.9 0" transform="translate(54 483.76)" style="stroke: #000000; stroke-width: 0.735"/>
      </g>
     </g>
     <g id="text_26">
      <text style="font-size: 10px; font-family: 'DejaVu Sans', 'Liberation Sans', sans-serif; text-anchor: end" x="46.41" y="487.56" transform="rotate(-0 46.41 487.56)">−10</text>
     </g>
    </g>
    <g id="ytick_14">
     <g id="crisp92" transform="translate(0.36 0.36)">
      <path d="M 54 452.59 L 742.32 452.59" clip-path="url(#pc5c2949c8c)" style="fill: none; stroke: #b0b0b0; stroke-width: 0.735; stroke-linecap: square"/>
     </g>
     <g id="crisp90" transform="translate(0.36 0.36)">
      <g>
       <path d="M 0 0 L -3.9 0" transform="translate(54 452.59)" style="stroke: #000000; stroke-width: 0.735"/>
      </g>
     </g>
     <g id="text_27">
      <text style="font-size: 10px; font-family: 'DejaVu Sans', 'Liberation Sans', sans-serif; text-anchor: end" x="46.41" y="456.39" transform="rotate(-0 46.41 456.39)">−5</text>
     </g>
    </g>
    <g id="ytick_15">
     <g id="crisp95" transform="translate(0.36 0.36)">
      <path d="M 54 421.41 L 742.32 421.41" clip-path="url(#pc5c2949c8c)" style="fill: none; stroke: #b0b0b0; stroke-width: 0.735; stroke-linecap: square"/>
     </g>
     <g id="crisp93" transform="translate(0.36 0.36)">
      <g>
       <path d="M 0 0 L -3.9 0" transform="translate(54 421.41)" style="stroke: #000000; stroke-width: 0.735"/>
      </g>
     </g>
     <g id="text_28">
      <text style="font-size: 10px; font-family: 'DejaVu Sans', 'Liberation Sans', sans-serif; text-anchor: end" x="46.41" y="425.21" transform="rotate(-0 46.41 425.21)">0</text>
     </g>
    </g>
    <g id="ytick_16">
     <g id="crisp98" transform="translate(0.36 0.36)">
      <path d="M 54 390.24 L 742.32 390.24" clip-path="url(#pc5c2949c8c)" style="fill: none; stroke: #b0b0b0; stroke-width: 0.735; stroke-linecap: square"/>
     </g>
     <g id="crisp96" transform="translate(0.36 0.36)">
      <g>
       <path d="M 0 0 L -3.9 0" transform="translate(54 390.24)" style="stroke: #000000; stroke-width: 0.735"/>
      </g>
     </g>
     <g id="text_29">
      <text style="font-size: 10px; font-family: 'DejaVu Sans', 'Liberation Sans', sans-serif; text-anchor: end" x="46.41" y="394.03" transform="rotate(-0 46.41 394.03)">5</text>
     </g>
    </g>
    <g id="ytick_17">
     <g id="crisp101" transform="translate(0.36 0.36)">
      <path d="M 54 359.06 L 742.32 359.06" clip-path="url(#pc5c2949c8c)" style="fill: none; stroke: #b0b0b0; stroke-width: 0.735; stroke-linecap: square"/>
     </g>
     <g id="crisp99" transform="translate(0.36 0.36)">
      <g>
       <path d="M 0 0 L -3.9 0" transform="translate(54 359.06)" style="stroke: #000000; stroke-width: 0.735"/>
      </g>
     </g>
     <g id="text_30">
      <text style="font-size: 10px; font-family: 'DejaVu Sans', 'Liberation Sans', sans-serif; text-anchor: end" x="46.41" y="362.86" transform="rotate(-0 46.41 362.86)">10</text>
     </g>
    </g>
    <g id="ytick_18">
     <g id="crisp104" transform="translate(0.36 0.36)">
      <path d="M 54 327.88 L 742.32 327.88" clip-path="url(#pc5c2949c8c)" style="fill: none; stroke: #b0b0b0; stroke-width: 0.735; stroke-linecap: square"/>
     </g>
     <g id="crisp102" transform="translate(0.36 0.36)">
      <g>
       <path d="M 0 0 L -3.9 0" transform="translate(54 327.88)" style="stroke: #000000; stroke-width: 0.735"/>
      </g>
     </g>
     <g id="text_31">
      <text style="font-size: 10px; font-family: 'DejaVu Sans', 'Liberation Sans', sans-serif; text-anchor: end" x="46.41" y="331.68" transform="rotate(-0 46.41 331.68)">15</text>
     </g>
    </g>
    <g id="text_32">
     <!-- temperature [$^\circ$C] -->
     <g transform="translate(17.95 444.62) rotate(-90)">
      <text>
       <tspan x="0" y="-0.40" style="font-size: 10px; font-family: 'DejaVu Sans', 'Liberation Sans', sans-serif">t</tspan>
       <tspan x="3.92" y="-0.40" style="font-size: 10px; font-family: 'DejaVu Sans', 'Liberation Sans', sans-serif">e</tspan>
       <tspan x="10.07" y="-0.40" style="font-size: 10px; font-family: 'DejaVu Sans', 'Liberation Sans', sans-serif">m</tspan>
       <tspan x="19.81" y="-0.40" style="font-size: 10px; font-family: 'DejaVu Sans', 'Liberation Sans', sans-serif">p</tspan>
       <tspan x="26.16" y="-0.40" style="font-size: 10px; font-family: 'DejaVu Sans', 'Liberation Sans', sans-serif">e</tspan>
       <tspan x="32.31" y="-0.40" style="font-size: 10px; font-family: 'DejaVu Sans', 'Liberation Sans', sans-serif">r</tspan>
       <tspan x="36.42" y="-0.40" style="font-size: 10px; font-family: 'DejaVu Sans', 'Liberation Sans', sans-serif">a</tspan>
       <tspan x="42.55" y="-0.40" style="font-size: 10px; font-family: 'DejaVu Sans', 'Liberation Sans', sans-serif">t</tspan>
       <tspan x="46.47" y="-0.40" style="font-size: 10px; font-family: 'DejaVu Sans', 'Liberation Sans', sans-serif">u</tspan>
       <tspan x="52.81" y="-0.40" style="font-size: 10px; font-family: 'DejaVu Sans', 'Liberation Sans', sans-serif">r</tspan>
       <tspan x="56.92" y="-0.40" style="font-size: 10px; font-family: 'DejaVu Sans', 'Liberation Sans', sans-serif">e</tspan>
       <tspan x="63.07" y="-0.40" style="font-size: 10px; font-family: 'DejaVu Sans', 'Liberation Sans', sans-serif"> </tspan>
       <tspan x="66.25" y="-0.40" style="font-size: 10px; font-family: 'DejaVu Sans', 'Liberation Sans', sans-serif">[</tspan>
       <tspan x="77.63" y="-0.40" style="font-size: 10px; font-family: 'DejaVu Sans', 'Liberation Sans', sans-serif">C</tspan>
       <tspan x="84.61" y="-0.40" style="font-size: 10px; font-family: 'DejaVu Sans', 'Liberation Sans', sans-serif">]</tspan>
       <tspan x="71.61" y="-4.23" style="font-size: 7px; font-family: 'DejaVu Sans', 'Liberation Sans', sans-serif">∘</tspan>
      </text>
     </g>
    </g>
   </g>
   <g id="line2d_25">
    <path d="M 72.03 484.56 L 72.03 316.08" clip-path="url(#pc5c2949c8c)" style="fill: none; stroke-dasharray: 0.5,0.825; stroke-dashoffset: 0; stroke: #a6a6a6; stroke-width: 0.5"/>
   </g>
   <g id="line2d_26">
    <path d="M 217.03 484.56 L 217.03 316.08" clip-path="url(#pc5c2949c8c)" style="fill: none; stroke-dasharray: 0.5,0.825; stroke-dashoffset: 0; stroke: #a6a6a6; stroke-width: 0.5"/>
   </g>
   <g id="line2d_27">
    <path d="M 362.03 484.56 L 362.03 316.08" clip-path="url(#pc5c2949c8c)" style="fill: none; stroke-dasharray: 0.5,0.825; stroke-dashoffset: 0; stroke: #a6a6a6; stroke-width: 0.5"/>
   </g>
   <g id="line2d_28">
    <path d="M 652.03 484.56 L 652.03 316.08" clip-path="url(#pc5c2949c8c)" style="fill: none; stroke-dasharray: 0.5,0.825; stroke-dashoffset: 0; stroke: #a6a6a6; stroke-width: 0.5"/>
   </g>
   <g id="line2d_29">
    <path d="M 507.03 484.56 L 507.03 316.08" clip-path="url(#pc5c2949c8c)" style="fill: none; stroke-dasharray: 1.85,0.8; stroke-dashoffset: 0; stroke: #737373; stroke-width: 0.5"/>
   </g>
   <g id="line2d_30">
    <path d="M 72.03 394.08 L 96.20 395.64 L 120.36 400.82 L 144.53 403.57 L 168.70 412.94 L 192.87 427.25 L 217.03 434.43 L 241.20 445.12 L 265.37 443.87 L 289.53 443.06 L 313.70 443.87 L 337.87 443.06 L 362.03 446.12 L 386.20 449.49 L 410.37 450.49 L 434.53 454.80 L 458.70 457.67 L 482.87 459.86 L 507.03 459.17 L 531.20 462.67 L 555.37 464.73 L 579.53 466.11 L 603.70 460.49 L 627.87 459.74 L 652.03 465.36 L 676.20 462.67 L 700.37 452.68 L 724.53 451.74" clip-path="url(#pc5c2949c8c)" style="fill: none; stroke: #ee82ee; stroke-width: 1.5; stroke-linecap: square"/>
    
    <g clip-path="url(#pc5c2949c8c)">
     <path d="M 0 1.5 C 0.39 1.5 0.77 1.34 1.06 1.06 C 1.34 0.77 1.5 0.39 1.5 0 C 1.5 -0.39 1.34 -0.77 1.06 -1.06 C 0.77 -1.34 0.39 -1.5 0 -1.5 C -0.39 -1.5 -0.77 -1.34 -1.06 -1.06 C -1.34 -0.77 -1.5 -0.39 -1.5 0 C -1.5 0.39 -1.34 0.77 -1.06 1.06 C -0.77 1.34 -0.39 1.5 0 1.5 z" transform="translate(72.03 394.08)" style="fill: #ee82ee; stroke: #ee82ee"/>
     <path d="M 0 1.5 C 0.39 1.5 0.77 1.34 1.06 1.06 C 1.34 0.77 1.5 0.39 1.5 0 C 1.5 -0.39 1.34 -0.77 1.06 -1.06 C 0.77 -1.34 0.39 -1.5 0 -1.5 C -0.39 -1.5 -0.77 -1.34 -1.06 -1.06 C -1.34 -0.77 -1.5 -0.39 -1.5 0 C -1.5 0.39 -1.34 0.77 -1.06 1.06 C -0.77 1.34 -0.39 1.5 0 1.5 z" transform="translate(96.20 395.64)" style="fill: #ee82ee; stroke: #ee82ee"/>
     <path d="M 0 1.5 C 0.39 1.5 0.77 1.34 1.06 1.06 C 1.34 0.77 1.5 0.39 1.5 0 C 1.5 -0.39 1.34 -0.77 1.06 -1.06 C 0.77 -1.34 0.39 -1.5 0 -1.5 C -0.39 -1.5 -0.77 -1.34 -1.06 -1.06 C -1.34 -0.77 -1.5 -0.39 -1.5 0 C -1.5 0.39 -1.34 0.77 -1.06 1.06 C -0.77 1.34 -0.39 1.5 0 1.5 z" transform="translate(120.36 400.82)" style="fill: #ee82ee; stroke: #ee82ee"/>
     <path d="M 0 1.5 C 0.39 1.5 0.77 1.34 1.06 1.06 C 1.34 0.77 1.5 0.39 1.5 0 C 1.5 -0.39 1.34 -0.77 1.06 -1.06 C 0.77 -1.34 0.39 -1.5 0 -1.5 C -0.39 -1.5 -0.77 -1.34 -1.06 -1.06 C -1.34 -0.77 -1.5 -0.39 -1.5 0 C -1.5 0.39 -1.34 0.77 -1.06 1.06 C -0.77 1.34 -0.39 1.5 0 1.5 z" transform="translate(144.53 403.57)" style="fill: #ee82ee; stroke: #ee82ee"/>
     <path d="M 0 1.5 C 0.39 1.5 0.77 1.34 1.06 1.06 C 1.34 0.77 1.5 0.39 1.5 0 C 1.5 -0.39 1.34 -0.77 1.06 -1.06 C 0.77 -1.34 0.39 -1.5 0 -1.5 C -0.39 -1.5 -0.77 -1.34 -1.06 -1.06 C -1.34 -0.77 -1.5 -0.39 -1.5 0 C -1.5 0.39 -1.34 0.77 -1.06 1.06 C -0.77 1.34 -0.39 1.5 0 1.5 z" transform="translate(168.70 412.94)" style="fill: #ee82ee; stroke: #ee82ee"/>
     <path d="M 0 1.5 C 0.39 1.5 0.77 1.34 1.06 1.06 C 1.34 0.77 1.5 0.39 1.5 0 C 1.5 -0.39 1.34 -0.77 1.06 -1.06 C 0.77 -1.34 0.39 -1.5 0 -1.5 C -0.39 -1.5 -0.77 -1.34 -1.06 -1.06 C -1.34 -0.77 -1.5 -0.39 -1.5 0 C -1.5 0.39 -1.34 0.77 -1.06 1.06 C -0.77 1.34 -0.39 1.5 0 1.5 z" transform="translate(192.87 427.25)" style="fill: #ee82ee; stroke: #ee82ee"/>
     <path d="M 0 1.5 C 0.39 1.5 0.77 1.34 1.06 1.06 C 1.34 0.77 1.5 0.39 1.5 0 C 1.5 -0.39 1.34 -0.77 1.06 -1.06 C 0.77 -1.34 0.39 -1.5 0 -1.5 C -0.39 -1.5 -0.77 -1.34 -1.06 -1.06 C -1.34 -0.77 -1.5 -0.39 -1.5 0 C -1.5 0.39 -1.34 0.77 -1.06 1.06 C -0.77 1.34 -0.39 1.5 0 1.5 z" transform="translate(217.03 434.43)" style="fill: #ee82ee; stroke: #ee82ee"/>
     <path d="M 0 1.5 C 0.39 1.5 0.77 1.34 1.06 1.06 C 1.34 0.77 1.5 0.39 1.5 0 C 1.5 -0.39 1.34 -0.77 1.06 -1.06 C 0.77 -1.34 0.39 -1.5 0 -1.5 C -0.39 -1.5 -0.77 -1.34 -1.06 -1.06 C -1.34 -0.77 -1.5 -0.39 -1.5 0 C -1.5 0.39 -1.34 0.77 -1.06 1.06 C -0.77 1.34 -0.39 1.5 0 1.5 z" transform="translate(241.20 445.12)" style="fill: #ee82ee; stroke: #ee82ee"/>
     <path d="M 0 1.5 C 0.39 1.5 0.77 1.34 1.06 1.06 C 1.34 0.77 1.5 0.39 1.5 0 C 1.5 -0.39 1.34 -0.77 1.06 -1.06 C 0.77 -1.34 0.39 -1.5 0 -1.5 C -0.39 -1.5 -0.77 -1.34 -1.06 -1.06 C -1.34 -0.77 -1.5 -0.39 -1.5 0 C -1.5 0.39 -1.34 0.77 -1.06 1.06 C -0.77 1.34 -0.39 1.5 0 1.5 z" transform="translate(265.37 443.87)" style="fill: #ee82ee; stroke: #ee82ee"/>
     <path d="M 0 1.5 C 0.39 1.5 0.77 1.34 1.06 1.06 C 1.34 0.77 1.5 0.39 1.5 0 C 1.5 -0.39 1.34 -0.77 1.06 -1.06 C 0.77 -1.34 0.39 -1.5 0 -1.5 C -0.39 -1.5 -0.77 -1.34 -1.06 -1.06 C -1.34 -0.77 -1.5 -0.39 -1.5 0 C -1.5 0.39 -1.34 0.77 -1.06 1.06 C -0.77 1.34 -0.39 1.5 0 1.5 z" transform="translate(289.53 443.06)" style="fill: #ee82ee; stroke: #ee82ee"/>
     <path d="M 0 1.5 C 0.39 1.5 0.77 1.34 1.06 1.06 C 1.34 0.77 1.5 0.39 1.5 0 C 1.5 -0.39 1.34 -0.77 1.06 -1.06 C 0.77 -1.34 0.39 -1.5 0 -1.5 C -0.39 -1.5 -0.77 -1.34 -1.06 -1.06 C -1.34 -0.77 -1.5 -0.39 -1.5 0 C -1.5 0.39 -1.34 0.77 -1.06 1.06 C -0.77 1.34 -0.39 1.5 0 1.5 z" transform="translate(313.70 443.87)" style="fill: #ee82ee; stroke: #ee82ee"/>
     <path d="M 0 1.5 C 0.39 1.5 0.77 1.34 1.06 1.06 C 1.34 0.77 1.5 0.39 1.5 0 C 1.5 -0.39 1.34 -0.77 1.06 -1.06 C 0.77 -1.34 0.39 -1.5 0 -1.5 C -0.39 -1.5 -0.77 -1.34 -1.06 -1.06 C -1.34 -0.77 -1.5 -0.39 -1.5 0 C -1.5 0.39 -1.34 0.77 -1.06 1.06 C -0.77 1.34 -0.39 1.5 0 1.5 z" transform="translate(337.87 443.06)" style="fill: #ee82ee; stroke: #ee82ee"/>
     <path d="M 0 1.5 C 0.39 1.5 0.77 1.34 1.06 1.06 C 1.34 0.77 1.5 0.39 1.5 0 C 1.5 -0.39 1.34 -0.77 1.06 -1.06 C 0.77 -1.34 0.39 -1.5 0 -1.5 C -0.39 -1.5 -0.77 -1.34 -1.06 -1.06 C -1.34 -0.77 -1.5 -0.39 -1.5 0 C -1.5 0.39 -1.34 0.77 -1.06 1.06 C -0.77 1.34 -0.39 1.5 0 1.5 z" transform="translate(362.03 446.12)" style="fill: #ee82ee; stroke: #ee82ee"/>
     <path d="M 0 1.5 C 0.39 1.5 0.77 1.34 1.06 1.06 C 1.34 0.77 1.5 0.39 1.5 0 C 1.5 -0.39 1.34 -0.77 1.06 -1.06 C 0.77 -1.34 0.39 -1.5 0 -1.5 C -0.39 -1.5 -0.77 -1.34 -1.06 -1.06 C -1.34 -0.77 -1.5 -0.39 -1.5 0 C -1.5 0.39 -1.34 0.77 -1.06 1.06 C -0.77 1.34 -0.39 1.5 0 1.5 z" transform="translate(386.20 449.49)" style="fill: #ee82ee; stroke: #ee82ee"/>
     <path d="M 0 1.5 C 0.39 1.5 0.77 1.34 1.06 1.06 C 1.34 0.77 1.5 0.39 1.5 0 C 1.5 -0.39 1.34 -0.77 1.06 -1.06 C 0.77 -1.34 0.39 -1.5 0 -1.5 C -0.39 -1.5 -0.77 -1.34 -1.06 -1.06 C -1.34 -0.77 -1.5 -0.39 -1.5 0 C -1.5 0.39 -1.34 0.77 -1.06 1.06 C -0.77 1.34 -0.39 1.5 0 1.5 z" transform="translate(410.37 450.49)" style="fill: #ee82ee; stroke: #ee82ee"/>
     <path d="M 0 1.5 C 0.39 1.5 0.77 1.34 1.06 1.06 C 1.34 0.77 1.5 0.39 1.5 0 C 1.5 -0.39 1.34 -0.77 1.06 -1.06 C 0.77 -1.34 0.39 -1.5 0 -1.5 C -0.39 -1.5 -0.77 -1.34 -1.06 -1.06 C -1.34 -0.77 -1.5 -0.39 -1.5 0 C -1.5 0.39 -1.34 0.77 -1.06 1.06 C -0.77 1.34 -0.39 1.5 0 1.5 z" transform="translate(434.53 454.80)" style="fill: #ee82ee; stroke: #ee82ee"/>
     <path d="M 0 1.5 C 0.39 1.5 0.77 1.34 1.06 1.06 C 1.34 0.77 1.5 0.39 1.5 0 C 1.5 -0.39 1.34 -0.77 1.06 -1.06 C 0.77 -1.34 0.39 -1.5 0 -1.5 C -0.39 -1.5 -0.77 -1.34 -1.06 -1.06 C -1.34 -0.77 -1.5 -0.39 -1.5 0 C -1.5 0.39 -1.34 0.77 -1.06 1.06 C -0.77 1.34 -0.39 1.5 0 1.5 z" transform="translate(458.70 457.67)" style="fill: #ee82ee; stroke: #ee82ee"/>
     <path d="M 0 1.5 C 0.39 1.5 0.77 1.34 1.06 1.06 C 1.34 0.77 1.5 0.39 1.5 0 C 1.5 -0.39 1.34 -0.77 1.06 -1.06 C 0.77 -1.34 0.39 -1.5 0 -1.5 C -0.39 -1.5 -0.77 -1.34 -1.06 -1.06 C -1.34 -0.77 -1.5 -0.39 -1.5 0 C -1.5 0.39 -1.34 0.77 -1.06 1.06 C -0.77 1.34 -0.39 1.5 0 1.5 z" transform="translate(482.87 459.86)" style="fill: #ee82ee; stroke: #ee82ee"/>
     <path d="M 0 1.5 C 0.39 1.5 0.77 1.34 1.06 1.06 C 1.34 0.77 1.5 0.39 1.5 0 C 1.5 -0.39 1.34 -0.77 1.06 -1.06 C 0.77 -1.34 0.39 -1.5 0 -1.5 C -0.39 -1.5 -0.77 -1.34 -1.06 -1.06 C -1.34 -0.77 -1.5 -0.39 -1.5 0 C -1.5 0.39 -1.34 0.77 -1.06 1.06 C -0.77 1.34 -0.39 1.5 0 1.5 z" transform="translate(507.03 459.17)" style="fill: #ee82ee; stroke: #ee82ee"/>
     <path d="M 0 1.5 C 0.39 1.5 0.77 1.34 1.06 1.06 C 1.34 0.77 1.5 0.39 1.5 0 C 1.5 -0.39 1.34 -0.77 1.06 -1.06 C 0.77 -1.34 0.39 -1.5 0 -1.5 C -0.39 -1.5 -0.77 -1.34 -1.06 -1.06 C -1.34 -0.77 -1.5 -0.39 -1.5 0 C -1.5 0.39 -1.34 0.77 -1.06 1.06 C -0.77 1.34 -0.39 1.5 0 1.5 z" transform="translate(531.20 462.67)" style="fill: #ee82ee; stroke: #ee82ee"/>
     <path d="M 0 1.5 C 0.39 1.5 0.77 1.34 1.06 1.06 C 1.34 0.77 1.5 0.39 1.5 0 C 1.5 -0.39 1.34 -0.77 1.06 -1.06 C 0.77 -1.34 0.39 -1.5 0 -1.5 C -0.39 -1.5 -0.77 -1.34 -1.06 -1.06 C -1.34 -0.77 -1.5 -0.39 -1.5 0 C -1.5 0.39 -1.34 0.77 -1.06 1.06 C -0.77 1.34 -0.39 1.5 0 1.5 z" transform="translate(555.37 464.73)" style="fill: #ee82ee; stroke: #ee82ee"/>
     <path d="M 0 1.5 C 0.39 1.5 0.77 1.34 1.06 1.06 C 1.34 0.77 1.5 0.39 1.5 0 C 1.5 -0.39 1.34 -0.77 1.06 -1.06 C 0.77 -1.34 0.39 -1.5 0 -1.5 C -0.39 -1.5 -0.77 -1.34 -1.06 -1.06 C -1.34 -0.77 -1.5 -0.39 -1.5 0 C -1.5 0.39 -1.34 0.77 -1.06 1.06 C -0.77 1.34 -0.39 1.5 0 1.5 z" transform="translate(579.53 466.11)" style="fill: #ee82ee; stroke: #ee82ee"/>
     <path d="M 0 1.5 C 0.39 1.5 0.77 1.34 1.06 1.06 C 1.34 0.77 1.5 0.39 1.5 0 C 1.5 -0.39 1.34 -0.77 1.06 -1.06 C 0.77 -1.34 0.39 -1.5 0 -1.5 C -0.39 -1.5 -0.77 -1.34 -1.06 -1.06 C -1.34 -0.77 -1.5 -0.39 -1.5 0 C -1.5 0.39 -1.34 0.77 -1.06 1.06 C -0.77 1.34 -0.39 1.5 0 1.5 z" transform="translate(603.70 460.49)" style="fill: #ee82ee; stroke: #ee82ee"/>
     <path d="M 0 1.5 C 0.39 1.5 0.77 1.34 1.06 1.06 C 1.34 0.77 1.5 0.39 1.5 0 C 1.5 -0.39 1.34 -0.77 1.06 -1.06 C 0.77 -1.34 0.39 -1.5 0 -1.5 C -0.39 -1.5 -0.77 -1.34 -1.06 -1.06 C -1.34 -0.77 -1.5 -0.39 -1.5 0 C -1.5 0.39 -1.34 0.77 -1.06 1.06 C -0.77 1.34 -0.39 1.5 0 1.5 z" transform="translate(627.87 459.74)" style="fill: #ee82ee; stroke: #ee82ee"/>
     <path d="M 0 1.5 C 0.39 1.5 0.77 1.34 1.06 1.06 C 1.34 0.77 1.5 0.39 1.5 0 C 1.5 -0.39 1.34 -0.77 1.06 -1.06 C 0.77 -1.34 0.39 -1.5 0 -1.5 C -0.39 -1.5 -0.77 -1.34 -1.06 -1.06 C -1.34 -0.77 -1.5 -0.39 -1.5 0 C -1.5 0.39 -1.34 0.77 -1.06 1.06 C -0.77 1.34 -0.39 1.5 0 1.5 z" transform="translate(652.03 465.36)" style="fill: #ee82ee; stroke: #ee82ee"/>
     <path d="M 0 1.5 C 0.39 1.5 0.77 1.34 1.06 1.06 C 1.34 0.77 1.5 0.39 1.5 0 C 1.5 -0.39 1.34 -0.77 1.06 -1.06 C 0.77 -1.34 0.39 -1.5 0 -1.5 C -0.39 -1.5 -0.77 -1.34 -1.06 -1.06 C -1.34 -0.77 -1.5 -0.39 -1.5 0 C -1.5 0.39 -1.34 0.77 -1.06 1.06 C -0.77 1.34 -0.39 1.5 0 1.5 z" transform="translate(676.20 462.67)" style="fill: #ee82ee; stroke: #ee82ee"/>
     <path d="M 0 1.5 C 0.39 1.5 0.77 1.34 1.06 1.06 C 1.34 0.77 1.5 0.39 1.5 0 C 1.5 -0.39 1.34 -0.77 1.06 -1.06 C 0.77 -1.34 0.39 -1.5 0 -1.5 C -0.39 -1.5 -0.77 -1.34 -1.06 -1.06 C -1.34 -0.77 -1.5 -0.39 -1.5 0 C -1.5 0.39 -1.34 0.77 -1.06 1.06 C -0.77 1.34 -0.39 1.5 0 1.5 z" transform="translate(700.37 452.68)" style="fill: #ee82ee; stroke: #ee82ee"/>
     <path d="M 0 1.5 C 0.39 1.5 0.77 1.34 1.06 1.06 C 1.34 0.77 1.5 0.39 1.5 0 C 1.5 -0.39 1.34 -0.77 1.06 -1.06 C 0.77 -1.34 0.39 -1.5 0 -1.5 C -0.39 -1.5 -0.77 -1.34 -1.06 -1.06 C -1.34 -0.77 -1.5 -0.39 -1.5 0 C -1.5 0.39 -1.34 0.77 -1.06 1.06 C -0.77 1.34 -0.39 1.5 0 1.5 z" transform="translate(724.53 451.74)" style="fill: #ee82ee; stroke: #ee82ee"/>
    </g>
   </g>
   <g id="crisp53" transform="translate(0.36 0.36)">
    <path d="M 54 484.56 L 54 316.08" style="fill: none; stroke: #000000; stroke-width: 0.735; stroke-linejoin: miter; stroke-linecap: square"/>
   </g>
   <g id="crisp54" transform="translate(0.36 0.36)">
    <path d="M 742.32 484.56 L 742.32 316.08" style="fill: none; stroke: #000000; stroke-width: 0.735; stroke-linejoin: miter; stroke-linecap: square"/>
   </g>
   <g id="crisp55" transform="translate(0.36 0.36)">
    <path d="M 54 484.56 L 742.32 484.56" style="fill: none; stroke: #000000; stroke-width: 0.735; stroke-linejoin: miter; stroke-linecap: square"/>
   </g>
   <g id="crisp56" transform="translate(0.36 0.36)">
    <path d="M 54 316.08 L 742.32 316.08" style="fill: none; stroke: #000000; stroke-width: 0.735; stroke-linejoin: miter; stroke-linecap: square"/>
   </g>
   <g id="line2d_31">
    <path d="M 72.03 363.28 L 96.20 363.90 L 120.36 363.90 L 144.53 365.59 L 168.70 374.15 L 192.87 388.58 L 217.03 396.45 L 241.20 398.57 L 265.37 398.45 L 289.53 402.20 L 313.70 402.32 L 337.87 403.57 L 362.03 405.01 L 386.20 404.88 L 410.37 407.82 L 434.53 412.82 L 458.70 412.69 L 482.87 412.19 L 507.03 413.63 L 531.20 414.44 L 555.37 415.82 L 579.53 415.94 L 603.70 415.94 L 627.87 416.57 L 652.03 417.25 L 676.20 417.25 L 700.37 415.19 L 724.53 412.32" clip-path="url(#pc5c2949c8c)" style="fill: none; stroke: #000000; stroke-width: 1.5; stroke-linecap: square"/>
    
    <g clip-path="url(#pc5c2949c8c)">
     <path d="M 0 1.5 C 0.39 1.5 0.77 1.34 1.06 1.06 C 1.34 0.77 1.5 0.39 1.5 0 C 1.5 -0.39 1.34 -0.77 1.06 -1.06 C 0.77 -1.34 0.39 -1.5 0 -1.5 C -0.39 -1.5 -0.77 -1.34 -1.06 -1.06 C -1.34 -0.77 -1.5 -0.39 -1.5 0 C -1.5 0.39 -1.34 0.77 -1.06 1.06 C -0.77 1.34 -0.39 1.5 0 1.5 z" transform="translate(72.03 363.28)" style="stroke: #000000"/>
     <path d="M 0 1.5 C 0.39 1.5 0.77 1.34 1.06 1.06 C 1.34 0.77 1.5 0.39 1.5 0 C 1.5 -0.39 1.34 -0.77 1.06 -1.06 C 0.77 -1.34 0.39 -1.5 0 -1.5 C -0.39 -1.5 -0.77 -1.34 -1.06 -1.06 C -1.34 -0.77 -1.5 -0.39 -1.5 0 C -1.5 0.39 -1.34 0.77 -1.06 1.06 C -0.77 1.34 -0.39 1.5 0 1.5 z" transform="translate(96.20 363.90)" style="stroke: #000000"/>
     <path d="M 0 1.5 C 0.39 1.5 0.77 1.34 1.06 1.06 C 1.34 0.77 1.5 0.39 1.5 0 C 1.5 -0.39 1.34 -0.77 1.06 -1.06 C 0.77 -1.34 0.39 -1.5 0 -1.5 C -0.39 -1.5 -0.77 -1.34 -1.06 -1.06 C -1.34 -0.77 -1.5 -0.39 -1.5 0 C -1.5 0.39 -1.34 0.77 -1.06 1.06 C -0.77 1.34 -0.39 1.5 0 1.5 z" transform="translate(120.36 363.90)" style="stroke: #000000"/>
     <path d="M 0 1.5 C 0.39 1.5 0.77 1.34 1.06 1.06 C 1.34 0.77 1.5 0.39 1.5 0 C 1.5 -0.39 1.34 -0.77 1.06 -1.06 C 0.77 -1.34 0.39 -1.5 0 -1.5 C -0.39 -1.5 -0.77 -1.34 -1.06 -1.06 C -1.34 -0.77 -1.5 -0.39 -1.5 0 C -1.5 0.39 -1.34 0.77 -1.06 1.06 C -0.77 1.34 -0.39 1.5 0 1.5 z" transform="translate(144.53 365.59)" style="stroke: #000000"/>
     <path d="M 0 1.5 C 0.39 1.5 0.77 1.34 1.06 1.06 C 1.34 0.77 1.5 0.39 1.5 0 C 1.5 -0.39 1.34 -0.77 1.06 -1.06 C 0.77 -1.34 0.39 -1.5 0 -1.5 C -0.39 -1.5 -0.77 -1.34 -1.06 -1.06 C -1.34 -0.77 -1.5 -0.39 -1.5 0 C -1.5 0.39 -1.34 0.77 -1.06 1.06 C -0.77 1.34 -0.39 1.5 0 1.5 z" transform="translate(168.70 374.15)" style="stroke: #000000"/>
     <path d="M 0 1.5 C 0.39 1.5 0.77 1.34 1.06 1.06 C 1.34 0.77 1.5 0.39 1.5 0 C 1.5 -0.39 1.34 -0.77 1.06 -1.06 C 0.77 -1.34 0.39 -1.5 0 -1.5 C -0.39 -1.5 -0.77 -1.34 -1.06 -1.06 C -1.34 -0.77 -1.5 -0.39 -1.5 0 C -1.5 0.39 -1.34 0.77 -1.06 1.06 C -0.77 1.34 -0.39 1.5 0 1.5 z" transform="translate(192.87 388.58)" style="stroke: #000000"/>
     <path d="M 0 1.5 C 0.39 1.5 0.77 1.34 1.06 1.06 C 1.34 0.77 1.5 0.39 1.5 0 C 1.5 -0.39 1.34 -0.77 1.06 -1.06 C 0.77 -1.34 0.39 -1.5 0 -1.5 C -0.39 -1.5 -0.77 -1.34 -1.06 -1.06 C -1.34 -0.77 -1.5 -0.39 -1.5 0 C -1.5 0.39 -1.34 0.77 -1.06 1.06 C -0.77 1.34 -0.39 1.5 0 1.5 z" transform="translate(217.03 396.45)" style="stroke: #000000"/>
     <path d="M 0 1.5 C 0.39 1.5 0.77 1.34 1.06 1.06 C 1.34 0.77 1.5 0.39 1.5 0 C 1.5 -0.39 1.34 -0.77 1.06 -1.06 C 0.77 -1.34 0.39 -1.5 0 -1.5 C -0.39 -1.5 -0.77 -1.34 -1.06 -1.06 C -1.34 -0.77 -1.5 -0.39 -1.5 0 C -1.5 0.39 -1.34 0.77 -1.06 1.06 C -0.77 1.34 -0.39 1.5 0 1.5 z" transform="translate(241.20 398.57)" style="stroke: #000000"/>
     <path d="M 0 1.5 C 0.39 1.5 0.77 1.34 1.06 1.06 C 1.34 0.77 1.5 0.39 1.5 0 C 1.5 -0.39 1.34 -0.77 1.06 -1.06 C 0.77 -1.34 0.39 -1.5 0 -1.5 C -0.39 -1.5 -0.77 -1.34 -1.06 -1.06 C -1.34 -0.77 -1.5 -0.39 -1.5 0 C -1.5 0.39 -1.34 0.77 -1.06 1.06 C -0.77 1.34 -0.39 1.5 0 1.5 z" transform="translate(265.37 398.45)" style="stroke: #000000"/>
     <path d="M 0 1.5 C 0.39 1.5 0.77 1.34 1.06 1.06 C 1.34 0.77 1.5 0.39 1.5 0 C 1.5 -0.39 1.34 -0.77 1.06 -1.06 C 0.77 -1.34 0.39 -1.5 0 -1.5 C -0.39 -1.5 -0.77 -1.34 -1.06 -1.06 C -1.34 -0.77 -1.5 -0.39 -1.5 0 C -1.5 0.39 -1.34 0.77 -1.06 1.06 C -0.77 1.34 -0.39 1.5 0 1.5 z" transform="translate(289.53 402.20)" style="stroke: #000000"/>
     <path d="M 0 1.5 C 0.39 1.5 0.77 1.34 1.06 1.06 C 1.34 0.77 1.5 0.39 1.5 0 C 1.5 -0.39 1.34 -0.77 1.06 -1.06 C 0.77 -1.34 0.39 -1.5 0 -1.5 C -0.39 -1.5 -0.77 -1.34 -1.06 -1.06 C -1.34 -0.77 -1.5 -0.39 -1.5 0 C -1.5 0.39 -1.34 0.77 -1.06 1.06 C -0.77 1.34 -0.39 1.5 0 1.5 z" transform="translate(313.70 402.32)" style="stroke: #000000"/>
     <path d="M 0 1.5 C 0.39 1.5 0.77 1.34 1.06 1.06 C 1.34 0.77 1.5 0.39 1.5 0 C 1.5 -0.39 1.34 -0.77 1.06 -1.06 C 0.77 -1.34 0.39 -1.5 0 -1.5 C -0.39 -1.5 -0.77 -1.34 -1.06 -1.06 C -1.34 -0.77 -1.5 -0.39 -1.5 0 C -1.5 0.39 -1.34 0.77 -1.06 1.06 C -0.77 1.34 -0.39 1.5 0 1.5 z" transform="translate(337.87 403.57)" style="stroke: #000000"/>
     <path d="M 0 1.5 C 0.39 1.5 0.77 1.34 1.06 1.06 C 1.34 0.77 1.5 0.39 1.5 0 C 1.5 -0.39 1.34 -0.77 1.06 -1.06 C 0.77 -1.34 0.39 -1.5 0 -1.5 C -0.39 -1.5 -0.77 -1.34 -1.06 -1.06 C -1.34 -0.77 -1.5 -0.39 -1.5 0 C -1.5 0.39 -1.34 0.77 -1.06 1.06 C -0.77 1.34 -0.39 1.5 0 1.5 z" transform="translate(362.03 405.01)" style="stroke: #000000"/>
     <path d="M 0 1.5 C 0.39 1.5 0.77 1.34 1.06 1.06 C 1.34 0.77 1.5 0.39 1.5 0 C 1.5 -0.39 1.34 -0.77 1.06 -1.06 C 0.77 -1.34 0.39 -1.5 0 -1.5 C -0.39 -1.5 -0.77 -1.34 -1.06 -1.06 C -1.34 -0.77 -1.5 -0.39 -1.5 0 C -1.5 0.39 -1.34 0.77 -1.06 1.06 C -0.77 1.34 -0.39 1.5 0 1.5 z" transform="translate(386.20 404.88)" style="stroke: #000000"/>
     <path d="M 0 1.5 C 0.39 1.5 0.77 1.34 1.06 1.06 C 1.34 0.77 1.5 0.39 1.5 0 C 1.5 -0.39 1.34 -0.77 1.06 -1.06 C 0.77 -1.34 0.39 -1.5 0 -1.5 C -0.39 -1.5 -0.77 -1.34 -1.06 -1.06 C -1.34 -0.77 -1.5 -0.39 -1.5 0 C -1.5 0.39 -1.34 0.77 -1.06 1.06 C -0.77 1.34 -0.39 1.5 0 1.5 z" transform="translate(410.37 407.82)" style="stroke: #000000"/>
     <path d="M 0 1.5 C 0.39 1.5 0.77 1.34 1.06 1.06 C 1.34 0.77 1.5 0.39 1.5 0 C 1.5 -0.39 1.34 -0.77 1.06 -1.06 C 0.77 -1.34 0.39 -1.5 0 -1.5 C -0.39 -1.5 -0.77 -1.34 -1.06 -1.06 C -1.34 -0.77 -1.5 -0.39 -1.5 0 C -1.5 0.39 -1.34 0.77 -1.06 1.06 C -0.77 1.34 -0.39 1.5 0 1.5 z" transform="translate(434.53 412.82)" style="stroke: #000000"/>
     <path d="M 0 1.5 C 0.39 1.5 0.77 1.34 1.06 1.06 C 1.34 0.77 1.5 0.39 1.5 0 C 1.5 -0.39 1.34 -0.77 1.06 -1.06 C 0.77 -1.34 0.39 -1.5 0 -1.5 C -0.39 -1.5 -0.77 -1.34 -1.06 -1.06 C -1.34 -0.77 -1.5 -0.39 -1.5 0 C -1.5 0.39 -1.34 0.77 -1.06 1.06 C -0.77 1.34 -0.39 1.5 0 1.5 z" transform="translate(458.70 412.69)" style="stroke: #000000"/>
     <path d="M 0 1.5 C 0.39 1.5 0.77 1.34 1.06 1.06 C 1.34 0.77 1.5 0.39 1.5 0 C 1.5 -0.39 1.34 -0.77 1.06 -1.06 C 0.77 -1.34 0.39 -1.5 0 -1.5 C -0.39 -1.5 -0.77 -1.34 -1.06 -1.06 C -1.34 -0.77 -1.5 -0.39 -1.5 0 C -1.5 0.39 -1.34 0.77 -1.06 1.06 C -0.77 1.34 -0.39 1.5 0 1.5 z" transform="translate(482.87 412.19)" style="stroke: #000000"/>
     <path d="M 0 1.5 C 0.39 1.5 0.77 1.34 1.06 1.06 C 1.34 0.77 1.5 0.39 1.5 0 C 1.5 -0.39 1.34 -0.77 1.06 -1.06 C 0.77 -1.34 0.39 -1.5 0 -1.5 C -0.39 -1.5 -0.77 -1.34 -1.06 -1.06 C -1.34 -0.77 -1.5 -0.39 -1.5 0 C -1.5 0.39 -1.34 0.77 -1.06 1.06 C -0.77 1.34 -0.39 1.5 0 1.5 z" transform="translate(507.03 413.63)" style="stroke: #000000"/>
     <path d="M 0 1.5 C 0.39 1.5 0.77 1.34 1.06 1.06 C 1.34 0.77 1.5 0.39 1.5 0 C 1.5 -0.39 1.34 -0.77 1.06 -1.06 C 0.77 -1.34 0.39 -1.5 0 -1.5 C -0.39 -1.5 -0.77 -1.34 -1.06 -1.06 C -1.34 -0.77 -1.5 -0.39 -1.5 0 C -1.5 0.39 -1.34 0.77 -1.06 1.06 C -0.77 1.34 -0.39 1.5 0 1.5 z" transform="translate(531.20 414.44)" style="stroke: #000000"/>
     <path d="M 0 1.5 C 0.39 1.5 0.77 1.34 1.06 1.06 C 1.34 0.77 1.5 0.39 1.5 0 C 1.5 -0.39 1.34 -0.77 1.06 -1.06 C 0.77 -1.34 0.39 -1.5 0 -1.5 C -0.39 -1.5 -0.77 -1.34 -1.06 -1.06 C -1.34 -0.77 -1.5 -0.39 -1.5 0 C -1.5 0.39 -1.34 0.77 -1.06 1.06 C -0.77 1.34 -0.39 1.5 0 1.5 z" transform="translate(555.37 415.82)" style="stroke: #000000"/>
     <path d="M 0 1.5 C 0.39 1.5 0.77 1.34 1.06 1.06 C 1.34 0.77 1.5 0.39 1.5 0 C 1.5 -0.39 1.34 -0.77 1.06 -1.06 C 0.77 -1.34 0.39 -1.5 0 -1.5 C -0.39 -1.5 -0.77 -1.34 -1.06 -1.06 C -1.34 -0.77 -1.5 -0.39 -1.5 0 C -1.5 0.39 -1.34 0.77 -1.06 1.06 C -0.77 1.34 -0.39 1.5 0 1.5 z" transform="translate(579.53 415.94)" style="stroke: #000000"/>
     <path d="M 0 1.5 C 0.39 1.5 0.77 1.34 1.06 1.06 C 1.34 0.77 1.5 0.39 1.5 0 C 1.5 -0.39 1.34 -0.77 1.06 -1.06 C 0.77 -1.34 0.39 -1.5 0 -1.5 C -0.39 -1.5 -0.77 -1.34 -1.06 -1.06 C -1.34 -0.77 -1.5 -0.39 -1.5 0 C -1.5 0.39 -1.34 0.77 -1.06 1.06 C -0.77 1.34 -0.39 1.5 0 1.5 z" transform="translate(603.70 415.94)" style="stroke: #000000"/>
     <path d="M 0 1.5 C 0.39 1.5 0.77 1.34 1.06 1.06 C 1.34 0.77 1.5 0.39 1.5 0 C 1.5 -0.39 1.34 -0.77 1.06 -1.06 C 0.77 -1.34 0.39 -1.5 0 -1.5 C -0.39 -1.5 -0.77 -1.34 -1.06 -1.06 C -1.34 -0.77 -1.5 -0.39 -1.5 0 C -1.5 0.39 -1.34 0.77 -1.06 1.06 C -0.77 1.34 -0.39 1.5 0 1.5 z" transform="translate(627.87 416.57)" style="stroke: #000000"/>
     <path d="M 0 1.5 C 0.39 1.5 0.77 1.34 1.06 1.06 C 1.34 0.77 1.5 0.39 1.5 0 C 1.5 -0.39 1.34 -0.77 1.06 -1.06 C 0.77 -1.34 0.39 -1.5 0 -1.5 C -0.39 -1.5 -0.77 -1.34 -1.06 -1.06 C -1.34 -0.77 -1.5 -0.39 -1.5 0 C -1.5 0.39 -1.34 0.77 -1.06 1.06 C -0.77 1.34 -0.39 1.5 0 1.5 z" transform="translate(652.03 417.25)" style="stroke: #000000"/>
     <path d="M 0 1.5 C 0.39 1.5 0.77 1.34 1.06 1.06 C 1.34 0.77 1.5 0.39 1.5 0 C 1.5 -0.39 1.34 -0.77 1.06 -1.06 C 0.77 -1.34 0.39 -1.5 0 -1.5 C -0.39 -1.5 -0.77 -1.34 -1.06 -1.06 C -1.34 -0.77 -1.5 -0.39 -1.5 0 C -1.5 0.39 -1.34 0.77 -1.06 1.06 C -0.77 1.34 -0.39 1.5 0 1.5 z" transform="translate(676.20 417.25)" style="stroke: #000000"/>
     <path d="M 0 1.5 C 0.39 1.5 0.77 1.34 1.06 1.06 C 1.34 0.77 1.5 0.39 1.5 0 C 1.5 -0.39 1.34 -0.77 1.06 -1.06 C 0.77 -1.34 0.39 -1.5 0 -1.5 C -0.39 -1.5 -0.77 -1.34 -1.06 -1.06 C -1.34 -0.77 -1.5 -0.39 -1.5 0 C -1.5 0.39 -1.34 0.77 -1.06 1.06 C -0.77 1.34 -0.39 1.5 0 1.5 z" transform="translate(700.37 415.19)" style="stroke: #000000"/>
     <path d="M 0 1.5 C 0.39 1.5 0.77 1.34 1.06 1.06 C 1.34 0.77 1.5 0.39 1.5 0 C 1.5 -0.39 1.34 -0.77 1.06 -1.06 C 0.77 -1.34 0.39 -1.5 0 -1.5 C -0.39 -1.5 -0.77 -1.34 -1.06 -1.06 C -1.34 -0.77 -1.5 -0.39 -1.5 0 C -1.5 0.39 -1.34 0.77 -1.06 1.06 C -0.77 1.34 -0.39 1.5 0 1.5 z" transform="translate(724.53 412.32)" style="stroke: #000000"/>
    </g>
   </g>
   <g id="line2d_32">
    <path d="M 72.03 376.27 L 96.20 375.58 L 120.36 375.46 L 144.53 374.83 L 168.70 387.02 L 192.87 404.38 L 217.03 413.76 L 241.20 419.38 L 265.37 417.88 L 289.53 416.57 L 313.70 416.44 L 337.87 417.25 L 362.03 416.44 L 386.20 417.88 L 410.37 420.32 L 434.53 423.81 L 458.70 425.38 L 482.87 428.81 L 507.03 430.25 L 531.20 432.56 L 555.37 435.25 L 579.53 436.00 L 603.70 435.25 L 627.87 435.06 L 652.03 434.62 L 676.20 434.31 L 700.37 443.43 L 724.53 448.74" clip-path="url(#pc5c2949c8c)" style="fill: none; stroke: #008000; stroke-width: 1.5; stroke-linecap: square"/>
    
    <g clip-path="url(#pc5c2949c8c)">
     <path d="M 0 1.5 C 0.39 1.5 0.77 1.34 1.06 1.06 C 1.34 0.77 1.5 0.39 1.5 0 C 1.5 -0.39 1.34 -0.77 1.06 -1.06 C 0.77 -1.34 0.39 -1.5 0 -1.5 C -0.39 -1.5 -0.77 -1.34 -1.06 -1.06 C -1.34 -0.77 -1.5 -0.39 -1.5 0 C -1.5 0.39 -1.34 0.77 -1.06 1.06 C -0.77 1.34 -0.39 1.5 0 1.5 z" transform="translate(72.03 376.27)" style="fill: #008000; stroke: #008000"/>
     <path d="M 0 1.5 C 0.39 1.5 0.77 1.34 1.06 1.06 C 1.34 0.77 1.5 0.39 1.5 0 C 1.5 -0.39 1.34 -0.77 1.06 -1.06 C 0.77 -1.34 0.39 -1.5 0 -1.5 C -0.39 -1.5 -0.77 -1.34 -1.06 -1.06 C -1.34 -0.77 -1.5 -0.39 -1.5 0 C -1.5 0.39 -1.34 0.77 -1.06 1.06 C -0.77 1.34 -0.39 1.5 0 1.5 z" transform="translate(96.20 375.58)" style="fill: #008000; stroke: #008000"/>
     <path d="M 0 1.5 C 0.39 1.5 0.77 1.34 1.06 1.06 C 1.34 0.77 1.5 0.39 1.5 0 C 1.5 -0.39 1.34 -0.77 1.06 -1.06 C 0.77 -1.34 0.39 -1.5 0 -1.5 C -0.39 -1.5 -0.77 -1.34 -1.06 -1.06 C -1.34 -0.77 -1.5 -0.39 -1.5 0 C -1.5 0.39 -1.34 0.77 -1.06 1.06 C -0.77 1.34 -0.39 1.5 0 1.5 z" transform="translate(120.36 375.46)" style="fill: #008000; stroke: #008000"/>
     <path d="M 0 1.5 C 0.39 1.5 0.77 1.34 1.06 1.06 C 1.34 0.77 1.5 0.39 1.5 0 C 1.5 -0.39 1.34 -0.77 1.06 -1.06 C 0.77 -1.34 0.39 -1.5 0 -1.5 C -0.39 -1.5 -0.77 -1.34 -1.06 -1.06 C -1.34 -0.77 -1.5 -0.39 -1.5 0 C -1.5 0.39 -1.34 0.77 -1.06 1.06 C -0.77 1.34 -0.39 1.5 0 1.5 z" transform="translate(144.53 374.83)" style="fill: #008000; stroke: #008000"/>
     <path d="M 0 1.5 C 0.39 1.5 0.77 1.34 1.06 1.06 C 1.34 0.77 1.5 0.39 1.5 0 C 1.5 -0.39 1.34 -0.77 1.06 -1.06 C 0.77 -1.34 0.39 -1.5 0 -1.5 C -0.39 -1.5 -0.77 -1.34 -1.06 -1.06 C -1.34 -0.77 -1.5 -0.39 -1.5 0 C -1.5 0.39 -1.34 0.77 -1.06 1.06 C -0.77 1.34 -0.39 1.5 0 1.5 z" transform="translate(168.70 387.02)" style="fill: #008000; stroke: #008000"/>
     <path d="M 0 1.5 C 0.39 1.5 0.77 1.34 1.06 1.06 C 1.34 0.77 1.5 0.39 1.5 0 C 1.5 -0.39 1.34 -0.77 1.06 -1.06 C 0.77 -1.34 0.39 -1.5 0 -1.5 C -0.39 -1.5 -0.77 -1.34 -1.06 -1.06 C -1.34 -0.77 -1.5 -0.39 -1.5 0 C -1.5 0.39 -1.34 0.77 -1.06 1.06 C -0.77 1.34 -0.39 1.5 0 1.5 z" transform="translate(192.87 404.38)" style="fill: #008000; stroke: #008000"/>
     <path d="M 0 1.5 C 0.39 1.5 0.77 1.34 1.06 1.06 C 1.34 0.77 1.5 0.39 1.5 0 C 1.5 -0.39 1.34 -0.77 1.06 -1.06 C 0.77 -1.34 0.39 -1.5 0 -1.5 C -0.39 -1.5 -0.77 -1.34 -1.06 -1.06 C -1.34 -0.77 -1.5 -0.39 -1.5 0 C -1.5 0.39 -1.34 0.77 -1.06 1.06 C -0.77 1.34 -0.39 1.5 0 1.5 z" transform="translate(217.03 413.76)" style="fill: #008000; stroke: #008000"/>
     <path d="M 0 1.5 C 0.39 1.5 0.77 1.34 1.06 1.06 C 1.34 0.77 1.5 0.39 1.5 0 C 1.5 -0.39 1.34 -0.77 1.06 -1.06 C 0.77 -1.34 0.39 -1.5 0 -1.5 C -0.39 -1.5 -0.77 -1.34 -1.06 -1.06 C -1.34 -0.77 -1.5 -0.39 -1.5 0 C -1.5 0.39 -1.34 0.77 -1.06 1.06 C -0.77 1.34 -0.39 1.5 0 1.5 z" transform="translate(241.20 419.38)" style="fill: #008000; stroke: #008000"/>
     <path d="M 0 1.5 C 0.39 1.5 0.77 1.34 1.06 1.06 C 1.34 0.77 1.5 0.39 1.5 0 C 1.5 -0.39 1.34 -0.77 1.06 -1.06 C 0.77 -1.34 0.39 -1.5 0 -1.5 C -0.39 -1.5 -0.77 -1.34 -1.06 -1.06 C -1.34 -0.77 -1.5 -0.39 -1.5 0 C -1.5 0.39 -1.34 0.77 -1.06 1.06 C -0.77 1.34 -0.39 1.5 0 1.5 z" transform="translate(265.37 417.88)" style="fill: #008000; stroke: #008000"/>
     <path d="M 0 1.5 C 0.39 1.5 0.77 1.34 1.06 1.06 C 1.34 0.77 1.5 0.39 1.5 0 C 1.5 -0.39 1.34 -0.77 1.06 -1.06 C 0.77 -1.34 0.39 -1.5 0 -1.5 C -0.39 -1.5 -0.77 -1.34 -1.06 -1.06 C -1.34 -0.77 -1.5 -0.39 -1.5 0 C -1.5 0.39 -1.34 0.77 -1.06 1.06 C -0.77 1.34 -0.39 1.5 0 1.5 z" transform="translate(289.53 416.57)" style="fill: #008000; stroke: #008000"/>
     <path d="M 0 1.5 C 0.39 1.5 0.77 1.34 1.06 1.06 C 1.34 0.77 1.5 0.39 1.5 0 C 1.5 -0.39 1.34 -0.77 1.06 -1.06 C 0.77 -1.34 0.39 -1.5 0 -1.5 C -0.39 -1.5 -0.77 -1.34 -1.06 -1.06 C -1.34 -0.77 -1.5 -0.39 -1.5 0 C -1.5 0.39 -1.34 0.77 -1.06 1.06 C -0.77 1.34 -0.39 1.5 0 1.5 z" transform="translate(313.70 416.44)" style="fill: #008000; stroke: #008000"/>
     <path d="M 0 1.5 C 0.39 1.5 0.77 1.34 1.06 1.06 C 1.34 0.77 1.5 0.39 1.5 0 C 1.5 -0.39 1.34 -0.77 1.06 -1.06 C 0.77 -1.34 0.39 -1.5 0 -1.5 C -0.39 -1.5 -0.77 -1.34 -1.06 -1.06 C -1.34 -0.77 -1.5 -0.39 -1.5 0 C -1.5 0.39 -1.34 0.77 -1.06 1.06 C -0.77 1.34 -0.39 1.5 0 1.5 z" transform="translate(337.87 417.25)" style="fill: #008000; stroke: #008000"/>
     <path d="M 0 1.5 C 0.39 1.5 0.77 1.34 1.06 1.06 C 1.34 0.77 1.5 0.39 1.5 0 C 1.5 -0.39 1.34 -0.77 1.06 -1.06 C 0.77 -1.34 0.39 -1.5 0 -1.5 C -0.39 -1.5 -0.77 -1.34 -1.06 -1.06 C -1.34 -0.77 -1.5 -0.39 -1.5 0 C -1.5 0.39 -1.34 0.77 -1.06 1.06 C -0.77 1.34 -0.39 1.5 0 1.5 z" transform="translate(362.03 416.44)" style="fill: #008000; stroke: #008000"/>
     <path d="M 0 1.5 C 0.39 1.5 0.77 1.34 1.06 1.06 C 1.34 0.77 1.5 0.39 1.5 0 C 1.5 -0.39 1.34 -0.77 1.06 -1.06 C 0.77 -1.34 0.39 -1.5 0 -1.5 C -0.39 -1.5 -0.77 -1.34 -1.06 -1.06 C -1.34 -0.77 -1.5 -0.39 -1.5 0 C -1.5 0.39 -1.34 0.77 -1.06 1.06 C -0.77 1.34 -0.39 1.5 0 1.5 z" transform="translate(386.20 417.88)" style="fill: #008000; stroke: #008000"/>
     <path d="M 0 1.5 C 0.39 1.5 0.77 1.34 1.06 1.06 C 1.34 0.77 1.5 0.39 1.5 0 C 1.5 -0.39 1.34 -0.77 1.06 -1.06 C 0.77 -1.34 0.39 -1.5 0 -1.5 C -0.39 -1.5 -0.77 -1.34 -1.06 -1.06 C -1.34 -0.77 -1.5 -0.39 -1.5 0 C -1.5 0.39 -1.34 0.77 -1.06 1.06 C -0.77 1.34 -0.39 1.5 0 1.5 z" transform="translate(410.37 420.32)" style="fill: #008000; stroke: #008000"/>
     <path d="M 0 1.5 C 0.39 1.5 0.77 1.34 1.06 1.06 C 1.34 0.77 1.5 0.39 1.5 0 C 1.5 -0.39 1.34 -0.77 1.06 -1.06 C 0.77 -1.34 0.39 -1.5 0 -1.5 C -0.39 -1.5 -0.77 -1.34 -1.06 -1.06 C -1.34 -0.77 -1.5 -0.39 -1.5 0 C -1.5 0.39 -1.34 0.77 -1.06 1.06 C -0.77 1.34 -0.39 1.5 0 1.5 z" transform="translate(434.53 423.81)" style="fill: #008000; stroke: #008000"/>
     <path d="M 0 1.5 C 0.39 1.5 0.77 1.34 1.06 1.06 C 1.34 0.77 1.5 0.39 1.5 0 C 1.5 -0.39 1.34 -0.77 1.06 -1.06 C 0.77 -1.34 0.39 -1.5 0 -1.5 C -0.39 -1.5 -0.77 -1.34 -1.06 -1.06 C -1.34 -0.77 -1.5 -0.39 -1.5 0 C -1.5 0.39 -1.34 0.77 -1.06 1.06 C -0.77 1.34 -0.39 1.5 0 1.5 z" transform="translate(458.70 425.38)" style="fill: #008000; stroke: #008000"/>
     <path d="M 0 1.5 C 0.39 1.5 0.77 1.34 1.06 1.06 C 1.34 0.77 1.5 0.39 1.5 0 C 1.5 -0.39 1.34 -0.77 1.06 -1.06 C 0.77 -1.34 0.39 -1.5 0 -1.5 C -0.39 -1.5 -0.77 -1.34 -1.06 -1.06 C -1.34 -0.77 -1.5 -0.39 -1.5 0 C -1.5 0.39 -1.34 0.77 -1.06 1.06 C -0.77 1.34 -0.39 1.5 0 1.5 z" transform="translate(482.87 428.81)" style="fill: #008000; stroke: #008000"/>
     <path d="M 0 1.5 C 0.39 1.5 0.77 1.34 1.06 1.06 C 1.34 0.77 1.5 0.39 1.5 0 C 1.5 -0.39 1.34 -0.77 1.06 -1.06 C 0.77 -1.34 0.39 -1.5 0 -1.5 C -0.39 -1.5 -0.77 -1.34 -1.06 -1.06 C -1.34 -0.77 -1.5 -0.39 -1.5 0 C -1.5 0.39 -1.34 0.77 -1.06 1.06 C -0.77 1.34 -0.39 1.5 0 1.5 z" transform="translate(507.03 430.25)" style="fill: #008000; stroke: #008000"/>
     <path d="M 0 1.5 C 0.39 1.5 0.77 1.34 1.06 1.06 C 1.34 0.77 1.5 0.39 1.5 0 C 1.5 -0.39 1.34 -0.77 1.06 -1.06 C 0.77 -1.34 0.39 -1.5 0 -1.5 C -0.39 -1.5 -0.77 -1.34 -1.06 -1.06 C -1.34 -0.77 -1.5 -0.39 -1.5 0 C -1.5 0.39 -1.34 0.77 -1.06 1.06 C -0.77 1.34 -0.39 1.5 0 1.5 z" transform="translate(531.20 432.56)" style="fill: #008000; stroke: #008000"/>
     <path d="M 0 1.5 C 0.39 1.5 0.77 1.34 1.06 1.06 C 1.34 0.77 1.5 0.39 1.5 0 C 1.5 -0.39 1.34 -0.77 1.06 -1.06 C 0.77 -1.34 0.39 -1.5 0 -1.5 C -0.39 -1.5 -0.77 -1.34 -1.06 -1.06 C -1.34 -0.77 -1.5 -0.39 -1.5 0 C -1.5 0.39 -1.34 0.77 -1.06 1.06 C -0.77 1.34 -0.39 1.5 0 1.5 z" transform="translate(555.37 435.25)" style="fill: #008000; stroke: #008000"/>
     <path d="M 0 1.5 C 0.39 1.5 0.77 1.34 1.06 1.06 C 1.34 0.77 1.5 0.39 1.5 0 C 1.5 -0.39 1.34 -0.77 1.06 -1.06 C 0.77 -1.34 0.39 -1.5 0 -1.5 C -0.39 -1.5 -0.77 -1.34 -1.06 -1.06 C -1.34 -0.77 -1.5 -0.39 -1.5 0 C -1.5 0.39 -1.34 0.77 -1.06 1.06 C -0.77 1.34 -0.39 1.5 0 1.5 z" transform="translate(579.53 436.00)" style="fill: #008000; stroke: #008000"/>
     <path d="M 0 1.5 C 0.39 1.5 0.77 1.34 1.06 1.06 C 1.34 0.77 1.5 0.39 1.5 0 C 1.5 -0.39 1.34 -0.77 1.06 -1.06 C 0.77 -1.34 0.39 -1.5 0 -1.5 C -0.39 -1.5 -0.77 -1.34 -1.06 -1.06 C -1.34 -0.77 -1.5 -0.39 -1.5 0 C -1.5 0.39 -1.34 0.77 -1.06 1.06 C -0.77 1.34 -0.39 1.5 0 1.5 z" transform="translate(603.70 435.25)" style="fill: #008000; stroke: #008000"/>
     <path d="M 0 1.5 C 0.39 1.5 0.77 1.34 1.06 1.06 C 1.34 0.77 1.5 0.39 1.5 0 C 1.5 -0.39 1.34 -0.77 1.06 -1.06 C 0.77 -1.34 0.39 -1.5 0 -1.5 C -0.39 -1.5 -0.77 -1.34 -1.06 -1.06 C -1.34 -0.77 -1.5 -0.39 -1.5 0 C -1.5 0.39 -1.34 0.77 -1.06 1.06 C -0.77 1.34 -0.39 1.5 0 1.5 z" transform="translate(627.87 435.06)" style="fill: #008000; stroke: #008000"/>
     <path d="M 0 1.5 C 0.39 1.5 0.77 1.34 1.06 1.06 C 1.34 0.77 1.5 0.39 1.5 0 C 1.5 -0.39 1.34 -0.77 1.06 -1.06 C 0.77 -1.34 0.39 -1.5 0 -1.5 C -0.39 -1.5 -0.77 -1.34 -1.06 -1.06 C -1.34 -0.77 -1.5 -0.39 -1.5 0 C -1.5 0.39 -1.34 0.77 -1.06 1.06 C -0.77 1.34 -0.39 1.5 0 1.5 z" transform="translate(652.03 434.62)" style="fill: #008000; stroke: #008000"/>
     <path d="M 0 1.5 C 0.39 1.5 0.77 1.34 1.06 1.06 C 1.34 0.77 1.5 0.39 1.5 0 C 1.5 -0.39 1.34 -0.77 1.06 -1.06 C 0.77 -1.34 0.39 -1.5 0 -1.5 C -0.39 -1.5 -0.77 -1.34 -1.06 -1.06 C -1.34 -0.77 -1.5 -0.39 -1.5 0 C -1.5 0.39 -1.34 0.77 -1.06 1.06 C -0.77 1.34 -0.39 1.5 0 1.5 z" transform="translate(676.20 434.31)" style="fill: #008000; stroke: #008000"/>
     <path d="M 0 1.5 C 0.39 1.5 0.77 1.34 1.06 1.06 C 1.34 0.77 1.5 0.39 1.5 0 C 1.5 -0.39 1.34 -0.77 1.06 -1.06 C 0.77 -1.34 0.39 -1.5 0 -1.5 C -0.39 -1.5 -0.77 -1.34 -1.06 -1.06 C -1.34 -0.77 -1.5 -0.39 -1.5 0 C -1.5 0.39 -1.34 0.77 -1.06 1.06 C -0.77 1.34 -0.39 1.5 0 1.5 z" transform="translate(700.37 443.43)" style="fill: #008000; stroke: #008000"/>
     <path d="M 0 1.5 C 0.39 1.5 0.77 1.34 1.06 1.06 C 1.34 0.77 1.5 0.39 1.5 0 C 1.5 -0.39 1.34 -0.77 1.06 -1.06 C 0.77 -1.34 0.39 -1.5 0 -1.5 C -0.39 -1.5 -0.77 -1.34 -1.06 -1.06 C -1.34 -0.77 -1.5 -0.39 -1.5 0 C -1.5 0.39 -1.34 0.77 -1.06 1.06 C -0.77 1.34 -0.39 1.5 0 1.5 z" transform="translate(724.53 448.74)" style="fill: #008000; stroke: #008000"/>
    </g>
   </g>
   <g id="text_33">
    <text style="font-size: 10px; font-family: 'DejaVu Sans', 'Liberation Sans', sans-serif; text-anchor: middle; fill: #ff0000" x="72.03" y="353.44" transform="rotate(-0 72.03 353.44)">9.4</text>
   </g>
   <g id="text_34">
    <text style="font-size: 10px; font-family: 'DejaVu Sans', 'Liberation Sans', sans-serif; text-anchor: middle; fill: #0000ff" x="676.20" y="404.56" transform="rotate(-0 676.20 404.56)">0.7</text>
   </g>
   <g id="legend_1">
    <g id="patch_5">
     <path d="M 529.40 334.97 L 736.48 334.97 Q 738.15 334.97 738.15 333.30 L 738.15 321.91 Q 738.15 320.24 736.48 320.24 L 529.40 320.24 Q 527.74 320.24 527.74 321.91 L 527.74 333.30 Q 527.74 334.97 529.40 334.97 z" style="fill: #ffffff; opacity: 0.8; stroke: #cccccc; stroke-linejoin: miter"/>
    </g>
    <g id="line2d_33">
     <path d="M 531.07 326.99 L 539.40 326.99 L 547.73 326.99" style="fill: none; stroke: #000000; stroke-width: 1.5; stroke-linecap: square"/>
     <g>
      <path d="M 0 1.5 C 0.39 1.5 0.77 1.34 1.06 1.06 C 1.34 0.77 1.5 0.39 1.5 0 C 1.5 -0.39 1.34 -0.77 1.06 -1.06 C 0.77 -1.34 0.39 -1.5 0 -1.5 C -0.39 -1.5 -0.77 -1.34 -1.06 -1.06 C -1.34 -0.77 -1.5 -0.39 -1.5 0 C -1.5 0.39 -1.34 0.77 -1.06 1.06 C -0.77 1.34 -0.39 1.5 0 1.5 z" transform="translate(539.40 326.99)" style="stroke: #000000"/>
     </g>
    </g>
    <g id="text_35">
     <text style="font-size: 8.33px; font-family: 'DejaVu Sans', 'Liberation Sans', sans-serif; text-anchor: start" x="554.39" y="329.90" transform="rotate(-0 554.39 329.90)">T(2m)</text>
    </g>
    <g id="line2d_34">
     <path d="M 596.05 326.99 L 604.38 326.99 L 612.71 326.99" style="fill: none; stroke: #008000; stroke-width: 1.5; stroke-linecap: square"/>
     <g>
      <path d="M 0 1.5 C 0.39 1.5 0.77 1.34 1.06 1.06 C 1.34 0.77 1.5 0.39 1.5 0 C 1.5 -0.39 1.34 -0.77 1.06 -1.06 C 0.77 -1.34 0.39 -1.5 0 -1.5 C -0.39 -1.5 -0.77 -1.34 -1.06 -1.06 C -1.34 -0.77 -1.5 -0.39 -1.5 0 C -1.5 0.39 -1.34 0.77 -1.06 1.06 C -0.77 1.34 -0.39 1.5 0 1.5 z" transform="translate(604.38 326.99)" style="fill: #008000; stroke: #008000"/>
     </g>
    </g>
    <g id="text_36">
     <text style="font-size: 8.33px; font-family: 'DejaVu Sans', 'Liberation Sans', sans-serif; text-anchor: start" x="619.38" y="329.90" transform="rotate(-0 619.38 329.90)">Td(2m)</text>
    </g>
    <g id="line2d_35">
     <path d="M 666.33 326.99 L 674.66 326.99 L 682.99 326.99" style="fill: none; stroke: #ee82ee; stroke-width: 1.5; stroke-linecap: square"/>
     <g>
      <path d="M 0 1.5 C 0.39 1.5 0.77 1.34 1.06 1.06 C 1.34 0.77 1.5 0.39 1.5 0 C 1.5 -0.39 1.34 -0.77 1.06 -1.06 C 0.77 -1.34 0.39 -1.5 0 -1.5 C -0.39 -1.5 -0.77 -1.34 -1.06 -1.06 C -1.34 -0.77 -1.5 -0.39 -1.5 0 C -1.5 0.39 -1.34 0.77 -1.06 1.06 C -0.77 1.34 -0.39 1.5 0 1.5 z" transform="translate(674.66 326.99)" style="fill: #ee82ee; stroke: #ee82ee"/>
     </g>
    </g>
    <g id="text_37">
     <text style="font-size: 8.33px; font-family: 'DejaVu Sans', 'Liberation Sans', sans-serif; text-anchor: start" x="689.65" y="329.90" transform="rotate(-0 689.65 329.90)">T(850 hPa)</text>
    </g>
   </g>
  </g>
  <g id="axes_4">
   <g id="patch_6">
    <path d="M 54 576.72 L 742.32 576.72 L 742.32 499.68 L 54 499.68 z" style="fill: #ffffff"/>
   </g>
   <g id="Barbs_2">
    <path d="M 77.83 507.49 L 66.24 512.17 L 68.41 511.29 L 66.75 509.27 L 68.41 511.29 z" clip-path="url(#p3e424a0b65)" style="stroke: #000000"/>
    <path d="M 102.45 509.83 L 89.95 509.83 L 92.29 509.83 L 91.51 507.33 L 92.29 509.83 z" clip-path="url(#p3e424a0b65)" style="stroke: #000000"/>
    <path d="M 126.59 510.37 L 114.14 509.28 L 113.02 504.17 L 114.14 509.28 z" clip-path="url(#p3e424a0b65)" style="stroke: #000000"/>
    <path d="M 150.28 512.27 L 138.78 507.38 L 140.94 508.30 L 141.19 505.69 L 140.94 508.30 z" clip-path="url(#p3e424a0b65)" style="stroke: #000000"/>
    <path d="M 171.82 515.24 L 165.57 504.41 L 169.12 500.56 L 165.57 504.41 z" clip-path="url(#p3e424a0b65)" style="stroke: #000000"/>
    <path d="M 196.36 515.01 L 189.37 504.65 L 192.64 500.55 L 189.37 504.65 z" clip-path="url(#p3e424a0b65)" style="stroke: #000000"/>
    <path d="M 221.05 514.61 L 213.01 505.04 L 215.84 500.63 L 213.01 505.04 z" clip-path="url(#p3e424a0b65)" style="stroke: #000000"/>
    <path d="M 246.66 512.86 L 235.73 506.80 L 236.79 501.67 L 235.73 506.80 z" clip-path="url(#p3e424a0b65)" style="stroke: #000000"/>
    <path d="M 271.40 511.44 L 259.33 508.21 L 261.59 508.82 L 261.48 506.20 L 261.59 508.82 z" clip-path="url(#p3e424a0b65)" style="stroke: #000000"/>
    <path d="M 295.75 509.17 L 283.32 510.48 L 285.65 510.24 L 284.61 507.83 L 285.65 510.24 z" clip-path="url(#p3e424a0b65)" style="stroke: #000000"/>
    <path d="M 319.88 508.90 L 307.52 510.75 L 305.23 506.04 L 307.52 510.75 z" clip-path="url(#p3e424a0b65)" style="stroke: #000000"/>
    <path d="M 343.87 508.10 L 331.86 511.55 L 328.98 507.17 L 331.86 511.55 z" clip-path="url(#p3e424a0b65)" style="stroke: #000000"/>
    <path d="M 368.24 510.59 L 355.83 509.07 L 354.89 503.91 L 355.83 509.07 z" clip-path="url(#p3e424a0b65)" style="stroke: #000000"/>
    <path d="M 392.03 512.07 L 380.36 507.59 L 382.55 508.43 L 382.72 505.81 L 382.55 508.43 z" clip-path="url(#p3e424a0b65)" style="stroke: #000000"/>
    <path d="M 415.88 512.76 L 404.85 506.89 L 405.82 501.74 L 404.85 506.89 z" clip-path="url(#p3e424a0b65)" style="stroke: #000000"/>
    <path d="M 440.10 512.66 L 428.96 506.99 L 431.05 508.05 L 431.49 505.47 L 431.05 508.05 z" clip-path="url(#p3e424a0b65)" style="stroke: #000000"/>
    <path d="M 464.22 512.76 L 453.18 506.89 L 455.25 507.99 L 455.73 505.42 L 455.25 507.99 z" clip-path="url(#p3e424a0b65)" style="stroke: #000000"/>
    <path d="M 488.33 512.86 L 477.40 506.80 L 479.45 507.93 L 479.98 505.37 L 479.45 507.93 z" clip-path="url(#p3e424a0b65)" style="stroke: #000000"/>
    <path d="M 512.87 512.07 L 501.20 507.59 L 503.39 508.43 L 503.55 505.81 L 503.39 508.43 z" clip-path="url(#p3e424a0b65)" style="stroke: #000000"/>
    <path d="M 537.26 511.34 L 525.14 508.31 L 527.41 508.88 L 527.26 506.27 L 527.41 508.88 z" clip-path="url(#p3e424a0b65)" style="stroke: #000000"/>
    <path d="M 561.34 511.65 L 549.39 508.00 L 551.63 508.68 L 551.62 506.07 L 551.63 508.68 z" clip-path="url(#p3e424a0b65)" style="stroke: #000000"/>
    <path d="M 585.72 510.70 L 573.34 508.96 L 575.67 509.28 L 575.24 506.70 L 575.67 509.28 z" clip-path="url(#p3e424a0b65)" style="stroke: #000000"/>
    <path d="M 609.89 510.70 L 597.51 508.96 L 599.83 509.28 L 599.41 506.70 L 599.83 509.28 z" clip-path="url(#p3e424a0b65)" style="stroke: #000000"/>
    <path d="M 633.62 507.38 L 622.11 512.27 L 624.27 511.35 L 622.58 509.36 L 624.27 511.35 z" clip-path="url(#p3e424a0b65)" style="stroke: #000000"/>
    <path d="M 657.87 507.59 L 646.20 512.07 L 648.39 511.23 L 646.76 509.17 L 648.39 511.23 z" clip-path="url(#p3e424a0b65)" style="stroke: #000000"/>
    <path d="M 682.04 507.59 L 670.37 512.07 L 672.55 511.23 L 670.93 509.17 L 672.55 511.23 z" clip-path="url(#p3e424a0b65)" style="stroke: #000000"/>
    <path d="M 706.57 510.59 L 694.16 509.07 L 696.49 509.35 L 696.02 506.77 L 696.49 509.35 z" clip-path="url(#p3e424a0b65)" style="stroke: #000000"/>
    <path d="M 730.78 509.83 L 718.28 509.83 L 720.63 509.83 L 719.85 507.33 L 720.63 509.83 z" clip-path="url(#p3e424a0b65)" style="stroke: #000000"/>
   </g>
   <g id="matplotlib.axis_7">
    <g id="xtick_21">
     <g id="crisp109" transform="translate(0.36 0.36)">
      <g>
       <path d="M 0 0 L 0 3.9" transform="translate(217.03 576.72)" style="stroke: #000000; stroke-width: 0.735"/>
      </g>
     </g>
    </g>
    <g id="xtick_22">
     <g id="crisp112" transform="translate(0.36 0.36)">
      <g>
       <path d="M 0 0 L 0 3.9" transform="translate(507.03 576.72)" style="stroke: #000000; stroke-width: 0.735"/>
      </g>
     </g>
    </g>
    <g id="xtick_23">
     <g id="crisp115" transform="translate(0.36 0.36)">
      <g>
       <path d="M 0 0 L 0 2.6" transform="translate(72.03 576.72)" style="stroke: #000000; stroke-width: 0.735"/>
      </g>
     </g>
    </g>
    <g id="xtick_24">
     <g id="crisp118" transform="translate(0.36 0.36)">
      <g>
       <path d="M 0 0 L 0 2.6" transform="translate(144.53 576.72)" style="stroke: #000000; stroke-width: 0.735"/>
      </g>
     </g>
    </g>
    <g id="xtick_25">
     <g id="crisp121" transform="translate(0.36 0.36)">
      <g>
       <path d="M 0 0 L 0 2.6" transform="translate(289.53 576.72)" style="stroke: #000000; stroke-width: 0.735"/>
      </g>
     </g>
    </g>
    <g id="xtick_26">
     <g id="crisp124" transform="translate(0.36 0.36)">
      <g>
       <path d="M 0 0 L 0 2.6" transform="translate(362.03 576.72)" style="stroke: #000000; stroke-width: 0.735"/>
      </g>
     </g>
    </g>
    <g id="xtick_27">
     <g id="crisp127" transform="translate(0.36 0.36)">
      <g>
       <path d="M 0 0 L 0 2.6" transform="translate(434.53 576.72)" style="stroke: #000000; stroke-width: 0.735"/>
      </g>
     </g>
    </g>
    <g id="xtick_28">
     <g id="crisp130" transform="translate(0.36 0.36)">
      <g>
       <path d="M 0 0 L 0 2.6" transform="translate(579.53 576.72)" style="stroke: #000000; stroke-width: 0.735"/>
      </g>
     </g>
    </g>
    <g id="xtick_29">
     <g id="crisp133" transform="translate(0.36 0.36)">
      <g>
       <path d="M 0 0 L 0 2.6" transform="translate(652.03 576.72)" style="stroke: #000000; stroke-width: 0.735"/>
      </g>
     </g>
    </g>
    <g id="xtick_30">
     <g id="crisp136" transform="translate(0.36 0.36)">
      <g>
       <path d="M 0 0 L 0 2.6" transform="translate(724.53 576.72)" style="stroke: #000000; stroke-width: 0.735"/>
      </g>
     </g>
    </g>
   </g>
   <g id="matplotlib.axis_8">
    <g id="ytick_19">
     <g id="crisp141" transform="translate(0.36 0.36)">
      <path d="M 54 564.48 L 742.32 564.48" clip-path="url(#p3e424a0b65)" style="fill: none; stroke: #b0b0b0; stroke-width: 0.735; stroke-linecap: square"/>
     </g>
     <g id="crisp139" transform="translate(0.36 0.36)">
      <g>
       <path d="M 0 0 L -3.9 0" transform="translate(54 564.48)" style="stroke: #000000; stroke-width: 0.735"/>
      </g>
     </g>
     <g id="text_38">
      <text style="font-size: 10px; font-family: 'DejaVu Sans', 'Liberation Sans', sans-serif; text-anchor: end" x="46.41" y="568.27" transform="rotate(-0 46.41 568.27)">0</text>
     </g>
    </g>
    <g id="ytick_20">
     <g id="crisp144" transform="translate(0.36 0.36)">
      <path d="M 54 513.36 L 742.32 513.36" clip-path="url(#p3e424a0b65)" style="fill: none; stroke: #b0b0b0; stroke-width: 0.735; stroke-linecap: square"/>
     </g>
     <g id="crisp142" transform="translate(0.36 0.36)">
      <g>
       <path d="M 0 0 L -3.9 0" transform="translate(54 513.36)" style="stroke: #000000; stroke-width: 0.735"/>
      </g>
     </g>
     <g id="text_39">
      <text style="font-size: 10px; font-family: 'DejaVu Sans', 'Liberation Sans', sans-serif; text-anchor: end" x="46.41" y="517.15" transform="rotate(-0 46.41 517.15)">20</text>
     </g>
    </g>
    <g id="text_40">
     <!-- 10 m ws [ms$^{-1}$] -->
     <g transform="translate(26.07 577.00) rotate(-90)">
      <text>
       <tspan x="0" y="-0.06" style="font-size: 10px; font-family: 'DejaVu Sans', 'Liberation Sans', sans-serif">1</tspan>
       <tspan x="6.36" y="-0.06" style="font-size: 10px; font-family: 'DejaVu Sans', 'Liberation Sans', sans-serif">0</tspan>
       <tspan x="12.72" y="-0.06" style="font-size: 10px; font-family: 'DejaVu Sans', 'Liberation Sans', sans-serif"> </tspan>
       <tspan x="15.90" y="-0.06" style="font-size: 10px; font-family: 'DejaVu Sans', 'Liberation Sans', sans-serif">m</tspan>
       <tspan x="25.64" y="-0.06" style="font-size: 10px; font-family: 'DejaVu Sans', 'Liberation Sans', sans-serif"> </tspan>
       <tspan x="28.82" y="-0.06" style="font-size: 10px; font-family: 'DejaVu Sans', 'Liberation Sans', sans-serif">w</tspan>
       <tspan x="37.00" y="-0.06" style="font-size: 10px; font-family: 'DejaVu Sans', 'Liberation Sans', sans-serif">s</tspan>
       <tspan x="42.21" y="-0.06" style="font-size: 10px; font-family: 'DejaVu Sans', 'Liberation Sans', sans-serif"> </tspan>
       <tspan x="45.39" y="-0.06" style="font-size: 10px; font-family: 'DejaVu Sans', 'Liberation Sans', sans-serif">[</tspan>
       <tspan x="49.29" y="-0.06" style="font-size: 10px; font-family: 'DejaVu Sans', 'Liberation Sans', sans-serif">m</tspan>
       <tspan x="59.03" y="-0.06" style="font-size: 10px; font-family: 'DejaVu Sans', 'Liberation Sans', sans-serif">s</tspan>
       <tspan x="74.93" y="-0.06" style="font-size: 10px; font-family: 'DejaVu Sans', 'Liberation Sans', sans-serif">]</tspan>
       <tspan x="64.33" y="-3.89" style="font-size: 7px; font-family: 'DejaVu Sans', 'Liberation Sans', sans-serif">−</tspan>
       <tspan x="70.20" y="-3.89" style="font-size: 7px; font-family: 'DejaVu Sans', 'Liberation Sans', sans-serif">1</tspan>
      </text>
     </g>
    </g>
   </g>
   <g id="line2d_36">
    <path d="M 72.03 576.72 L 72.03 499.68" clip-path="url(#p3e424a0b65)" style="fill: none; stroke-dasharray: 0.5,0.825; stroke-dashoffset: 0; stroke: #a6a6a6; stroke-width: 0.5"/>
   </g>
   <g id="line2d_37">
    <path d="M 217.03 576.72 L 217.03 499.68" clip-path="url(#p3e424a0b65)" style="fill: none; stroke-dasharray: 0.5,0.825; stroke-dashoffset: 0; stroke: #a6a6a6; stroke-width: 0.5"/>
   </g>
   <g id="line2d_38">
    <path d="M 362.03 576.72 L 362.03 499.68" clip-path="url(#p3e424a0b65)" style="fill: none; stroke-dasharray: 0.5,0.825; stroke-dashoffset: 0; stroke: #a6a6a6; stroke-width: 0.5"/>
   </g>
   <g id="line2d_39">
    <path d="M 652.03 576.72 L 652.03 499.68" clip-path="url(#p3e424a0b65)" style="fill: none; stroke-dasharray: 0.5,0.825; stroke-dashoffset: 0; stroke: #a6a6a6; stroke-width: 0.5"/>
   </g>
   <g id="line2d_40">
    <path d="M 507.03 576.72 L 507.03 499.68" clip-path="url(#p3e424a0b65)" style="fill: none; stroke-dasharray: 1.85,0.8; stroke-dashoffset: 0; stroke: #737373; stroke-width: 0.5"/>
   </g>
   <g id="crisp105" transform="translate(0.36 0.36)">
    <path d="M 54 576.72 L 54 499.68" style="fill: none; stroke: #000000; stroke-width: 0.735; stroke-linejoin: miter; stroke-linecap: square"/>
   </g>
   <g id="crisp106" transform="translate(0.36 0.36)">
    <path d="M 742.32 576.72 L 742.32 499.68" style="fill: none; stroke: #000000; stroke-width: 0.735; stroke-linejoin: miter; stroke-linecap: square"/>
   </g>
   <g id="crisp107" transform="translate(0.36 0.36)">
    <path d="M 54 576.72 L 742.32 576.72" style="fill: none; stroke: #000000; stroke-width: 0.735; stroke-linejoin: miter; stroke-linecap: square"/>
   </g>
   <g id="crisp108" transform="translate(0.36 0.36)">
    <path d="M 54 499.68 L 742.32 499.68" style="fill: none; stroke: #000000; stroke-width: 0.735; stroke-linejoin: miter; stroke-linecap: square"/>
   </g>
   <g id="line2d_41">
    <path d="M 72.03 563.81 L 96.20 545.20 L 120.36 543.89 L 144.53 543.10 L 168.70 536.55 L 192.87 533.03 L 217.03 535.12 L 241.20 539.00 L 265.37 539.00 L 289.53 543.46 L 313.70 537.42 L 337.87 536.78 L 362.03 539.00 L 386.20 543.46 L 410.37 539.00 L 434.53 539.00 L 458.70 541.80 L 482.87 545.88 L 507.03 548.00 L 531.20 546.70 L 555.37 548.31 L 579.53 550.45 L 603.70 551.88 L 627.87 553.38 L 652.03 555.32 L 676.20 556.14 L 700.37 555.32 L 724.53 554.68" clip-path="url(#p3e424a0b65)" style="fill: none; stroke: #ff7f0e; stroke-width: 1.5; stroke-linecap: square"/>
    
    <g clip-path="url(#p3e424a0b65)">
     <path d="M 0 1.5 C 0.39 1.5 0.77 1.34 1.06 1.06 C 1.34 0.77 1.5 0.39 1.5 0 C 1.5 -0.39 1.34 -0.77 1.06 -1.06 C 0.77 -1.34 0.39 -1.5 0 -1.5 C -0.39 -1.5 -0.77 -1.34 -1.06 -1.06 C -1.34 -0.77 -1.5 -0.39 -1.5 0 C -1.5 0.39 -1.34 0.77 -1.06 1.06 C -0.77 1.34 -0.39 1.5 0 1.5 z" transform="translate(72.03 563.81)" style="fill: #ff7f0e; stroke: #ff7f0e"/>
     <path d="M 0 1.5 C 0.39 1.5 0.77 1.34 1.06 1.06 C 1.34 0.77 1.5 0.39 1.5 0 C 1.5 -0.39 1.34 -0.77 1.06 -1.06 C 0.77 -1.34 0.39 -1.5 0 -1.5 C -0.39 -1.5 -0.77 -1.34 -1.06 -1.06 C -1.34 -0.77 -1.5 -0.39 -1.5 0 C -1.5 0.39 -1.34 0.77 -1.06 1.06 C -0.77 1.34 -0.39 1.5 0 1.5 z" transform="translate(96.20 545.20)" style="fill: #ff7f0e; stroke: #ff7f0e"/>
     <path d="M 0 1.5 C 0.39 1.5 0.77 1.34 1.06 1.06 C 1.34 0.77 1.5 0.39 1.5 0 C 1.5 -0.39 1.34 -0.77 1.06 -1.06 C 0.77 -1.34 0.39 -1.5 0 -1.5 C -0.39 -1.5 -0.77 -1.34 -1.06 -1.06 C -1.34 -0.77 -1.5 -0.39 -1.5 0 C -1.5 0.39 -1.34 0.77 -1.06 1.06 C -0.77 1.34 -0.39 1.5 0 1.5 z" transform="translate(120.36 543.89)" style="fill: #ff7f0e; stroke: #ff7f0e"/>
     <path d="M 0 1.5 C 0.39 1.5 0.77 1.34 1.06 1.06 C 1.34 0.77 1.5 0.39 1.5 0 C 1.5 -0.39 1.34 -0.77 1.06 -1.06 C 0.77 -1.34 0.39 -1.5 0 -1.5 C -0.39 -1.5 -0.77 -1.34 -1.06 -1.06 C -1.34 -0.77 -1.5 -0.39 -1.5 0 C -1.5 0.39 -1.34 0.77 -1.06 1.06 C -0.77 1.34 -0.39 1.5 0 1.5 z" transform="translate(144.53 543.10)" style="fill: #ff7f0e; stroke: #ff7f0e"/>
     <path d="M 0 1.5 C 0.39 1.5 0.77 1.34 1.06 1.06 C 1.34 0.77 1.5 0.39 1.5 0 C 1.5 -0.39 1.34 -0.77 1.06 -1.06 C 0.77 -1.34 0.39 -1.5 0 -1.5 C -0.39 -1.5 -0.77 -1.34 -1.06 -1.06 C -1.34 -0.77 -1.5 -0.39 -1.5 0 C -1.5 0.39 -1.34 0.77 -1.06 1.06 C -0.77 1.34 -0.39 1.5 0 1.5 z" transform="translate(168.70 536.55)" style="fill: #ff7f0e; stroke: #ff7f0e"/>
     <path d="M 0 1.5 C 0.39 1.5 0.77 1.34 1.06 1.06 C 1.34 0.77 1.5 0.39 1.5 0 C 1.5 -0.39 1.34 -0.77 1.06 -1.06 C 0.77 -1.34 0.39 -1.5 0 -1.5 C -0.39 -1.5 -0.77 -1.34 -1.06 -1.06 C -1.34 -0.77 -1.5 -0.39 -1.5 0 C -1.5 0.39 -1.34 0.77 -1.06 1.06 C -0.77 1.34 -0.39 1.5 0 1.5 z" transform="translate(192.87 533.03)" style="fill: #ff7f0e; stroke: #ff7f0e"/>
     <path d="M 0 1.5 C 0.39 1.5 0.77 1.34 1.06 1.06 C 1.34 0.77 1.5 0.39 1.5 0 C 1.5 -0.39 1.34 -0.77 1.06 -1.06 C 0.77 -1.34 0.39 -1.5 0 -1.5 C -0.39 -1.5 -0.77 -1.34 -1.06 -1.06 C -1.34 -0.77 -1.5 -0.39 -1.5 0 C -1.5 0.39 -1.34 0.77 -1.06 1.06 C -0.77 1.34 -0.39 1.5 0 1.5 z" transform="translate(217.03 535.12)" style="fill: #ff7f0e; stroke: #ff7f0e"/>
     <path d="M 0 1.5 C 0.39 1.5 0.77 1.34 1.06 1.06 C 1.34 0.77 1.5 0.39 1.5 0 C 1.5 -0.39 1.34 -0.77 1.06 -1.06 C 0.77 -1.34 0.39 -1.5 0 -1.5 C -0.39 -1.5 -0.77 -1.34 -1.06 -1.06 C -1.34 -0.77 -1.5 -0.39 -1.5 0 C -1.5 0.39 -1.34 0.77 -1.06 1.06 C -0.77 1.34 -0.39 1.5 0 1.5 z" transform="translate(241.20 539.00)" style="fill: #ff7f0e; stroke: #ff7f0e"/>
     <path d="M 0 1.5 C 0.39 1.5 0.77 1.34 1.06 1.06 C 1.34 0.77 1.5 0.39 1.5 0 C 1.5 -0.39 1.34 -0.77 1.06 -1.06 C 0.77 -1.34 0.39 -1.5 0 -1.5 C -0.39 -1.5 -0.77 -1.34 -1.06 -1.06 C -1.34 -0.77 -1.5 -0.39 -1.5 0 C -1.5 0.39 -1.34 0.77 -1.06 1.06 C -0.77 1.34 -0.39 1.5 0 1.5 z" transform="translate(265.37 539.00)" style="fill: #ff7f0e; stroke: #ff7f0e"/>
     <path d="M 0 1.5 C 0.39 1.5 0.77 1.34 1.06 1.06 C 1.34 0.77 1.5 0.39 1.5 0 C 1.5 -0.39 1.34 -0.77 1.06 -1.06 C 0.77 -1.34 0.39 -1.5 0 -1.5 C -0.39 -1.5 -0.77 -1.34 -1.06 -1.06 C -1.34 -0.77 -1.5 -0.39 -1.5 0 C -1.5 0.39 -1.34 0.77 -1.06 1.06 C -0.77 1.34 -0.39 1.5 0 1.5 z" transform="translate(289.53 543.46)" style="fill: #ff7f0e; stroke: #ff7f0e"/>
     <path d="M 0 1.5 C 0.39 1.5 0.77 1.34 1.06 1.06 C 1.34 0.77 1.5 0.39 1.5 0 C 1.5 -0.39 1.34 -0.77 1.06 -1.06 C 0.77 -1.34 0.39 -1.5 0 -1.5 C -0.39 -1.5 -0.77 -1.34 -1.06 -1.06 C -1.34 -0.77 -1.5 -0.39 -1.5 0 C -1.5 0.39 -1.34 0.77 -1.06 1.06 C -0.77 1.34 -0.39 1.5 0 1.5 z" transform="translate(313.70 537.42)" style="fill: #ff7f0e; stroke: #ff7f0e"/>
     <path d="M 0 1.5 C 0.39 1.5 0.77 1.34 1.06 1.06 C 1.34 0.77 1.5 0.39 1.5 0 C 1.5 -0.39 1.34 -0.77 1.06 -1.06 C 0.77 -1.34 0.39 -1.5 0 -1.5 C -0.39 -1.5 -0.77 -1.34 -1.06 -1.06 C -1.34 -0.77 -1.5 -0.39 -1.5 0 C -1.5 0.39 -1.34 0.77 -1.06 1.06 C -0.77 1.34 -0.39 1.5 0 1.5 z" transform="translate(337.87 536.78)" style="fill: #ff7f0e; stroke: #ff7f0e"/>
     <path d="M 0 1.5 C 0.39 1.5 0.77 1.34 1.06 1.06 C 1.34 0.77 1.5 0.39 1.5 0 C 1.5 -0.39 1.34 -0.77 1.06 -1.06 C 0.77 -1.34 0.39 -1.5 0 -1.5 C -0.39 -1.5 -0.77 -1.34 -1.06 -1.06 C -1.34 -0.77 -1.5 -0.39 -1.5 0 C -1.5 0.39 -1.34 0.77 -1.06 1.06 C -0.77 1.34 -0.39 1.5 0 1.5 z" transform="translate(362.03 539.00)" style="fill: #ff7f0e; stroke: #ff7f0e"/>
     <path d="M 0 1.5 C 0.39 1.5 0.77 1.34 1.06 1.06 C 1.34 0.77 1.5 0.39 1.5 0 C 1.5 -0.39 1.34 -0.77 1.06 -1.06 C 0.77 -1.34 0.39 -1.5 0 -1.5 C -0.39 -1.5 -0.77 -1.34 -1.06 -1.06 C -1.34 -0.77 -1.5 -0.39 -1.5 0 C -1.5 0.39 -1.34 0.77 -1.06 1.06 C -0.77 1.34 -0.39 1.5 0 1.5 z" transform="translate(386.20 543.46)" style="fill: #ff7f0e; stroke: #ff7f0e"/>
     <path d="M 0 1.5 C 0.39 1.5 0.77 1.34 1.06 1.06 C 1.34 0.77 1.5 0.39 1.5 0 C 1.5 -0.39 1.34 -0.77 1.06 -1.06 C 0.77 -1.34 0.39 -1.5 0 -1.5 C -0.39 -1.5 -0.77 -1.34 -1.06 -1.06 C -1.34 -0.77 -1.5 -0.39 -1.5 0 C -1.5 0.39 -1.34 0.77 -1.06 1.06 C -0.77 1.34 -0.39 1.5 0 1.5 z" transform="translate(410.37 539.00)" style="fill: #ff7f0e; stroke: #ff7f0e"/>
     <path d="M 0 1.5 C 0.39 1.5 0.77 1.34 1.06 1.06 C 1.34 0.77 1.5 0.39 1.5 0 C 1.5 -0.39 1.34 -0.77 1.06 -1.06 C 0.77 -1.34 0.39 -1.5 0 -1.5 C -0.39 -1.5 -0.77 -1.34 -1.06 -1.06 C -1.34 -0.77 -1.5 -0.39 -1.5 0 C -1.5 0.39 -1.34 0.77 -1.06 1.06 C -0.77 1.34 -0.39 1.5 0 1.5 z" transform="translate(434.53 539.00)" style="fill: #ff7f0e; stroke: #ff7f0e"/>
     <path d="M 0 1.5 C 0.39 1.5 0.77 1.34 1.06 1.06 C 1.34 0.77 1.5 0.39 1.5 0 C 1.5 -0.39 1.34 -0.77 1.06 -1.06 C 0.77 -1.34 0.39 -1.5 0 -1.5 C -0.39 -1.5 -0.77 -1.34 -1.06 -1.06 C -1.34 -0.77 -1.5 -0.39 -1.5 0 C -1.5 0.39 -1.34 0.77 -1.06 1.06 C -0.77 1.34 -0.39 1.5 0 1.5 z" transform="translate(458.70 541.80)" style="fill: #ff7f0e; stroke: #ff7f0e"/>
     <path d="M 0 1.5 C 0.39 1.5 0.77 1.34 1.06 1.06 C 1.34 0.77 1.5 0.39 1.5 0 C 1.5 -0.39 1.34 -0.77 1.06 -1.06 C 0.77 -1.34 0.39 -1.5 0 -1.5 C -0.39 -1.5 -0.77 -1.34 -1.06 -1.06 C -1.34 -0.77 -1.5 -0.39 -1.5 0 C -1.5 0.39 -1.34 0.77 -1.06 1.06 C -0.77 1.34 -0.39 1.5 0 1.5 z" transform="translate(482.87 545.88)" style="fill: #ff7f0e; stroke: #ff7f0e"/>
     <path d="M 0 1.5 C 0.39 1.5 0.77 1.34 1.06 1.06 C 1.34 0.77 1.5 0.39 1.5 0 C 1.5 -0.39 1.34 -0.77 1.06 -1.06 C 0.77 -1.34 0.39 -1.5 0 -1.5 C -0.39 -1.5 -0.77 -1.34 -1.06 -1.06 C -1.34 -0.77 -1.5 -0.39 -1.5 0 C -1.5 0.39 -1.34 0.77 -1.06 1.06 C -0.77 1.34 -0.39 1.5 0 1.5 z" transform="translate(507.03 548.00)" style="fill: #ff7f0e; stroke: #ff7f0e"/>
     <path d="M 0 1.5 C 0.39 1.5 0.77 1.34 1.06 1.06 C 1.34 0.77 1.5 0.39 1.5 0 C 1.5 -0.39 1.34 -0.77 1.06 -1.06 C 0.77 -1.34 0.39 -1.5 0 -1.5 C -0.39 -1.5 -0.77 -1.34 -1.06 -1.06 C -1.34 -0.77 -1.5 -0.39 -1.5 0 C -1.5 0.39 -1.34 0.77 -1.06 1.06 C -0.77 1.34 -0.39 1.5 0 1.5 z" transform="translate(531.20 546.70)" style="fill: #ff7f0e; stroke: #ff7f0e"/>
     <path d="M 0 1.5 C 0.39 1.5 0.77 1.34 1.06 1.06 C 1.34 0.77 1.5 0.39 1.5 0 C 1.5 -0.39 1.34 -0.77 1.06 -1.06 C 0.77 -1.34 0.39 -1.5 0 -1.5 C -0.39 -1.5 -0.77 -1.34 -1.06 -1.06 C -1.34 -0.77 -1.5 -0.39 -1.5 0 C -1.5 0.39 -1.34 0.77 -1.06 1.06 C -0.77 1.34 -0.39 1.5 0 1.5 z" transform="translate(555.37 548.31)" style="fill: #ff7f0e; stroke: #ff7f0e"/>
     <path d="M 0 1.5 C 0.39 1.5 0.77 1.34 1.06 1.06 C 1.34 0.77 1.5 0.39 1.5 0 C 1.5 -0.39 1.34 -0.77 1.06 -1.06 C 0.77 -1.34 0.39 -1.5 0 -1.5 C -0.39 -1.5 -0.77 -1.34 -1.06 -1.06 C -1.34 -0.77 -1.5 -0.39 -1.5 0 C -1.5 0.39 -1.34 0.77 -1.06 1.06 C -0.77 1.34 -0.39 1.5 0 1.5 z" transform="translate(579.53 550.45)" style="fill: #ff7f0e; stroke: #ff7f0e"/>
     <path d="M 0 1.5 C 0.39 1.5 0.77 1.34 1.06 1.06 C 1.34 0.77 1.5 0.39 1.5 0 C 1.5 -0.39 1.34 -0.77 1.06 -1.06 C 0.77 -1.34 0.39 -1.5 0 -1.5 C -0.39 -1.5 -0.77 -1.34 -1.06 -1.06 C -1.34 -0.77 -1.5 -0.39 -1.5 0 C -1.5 0.39 -1.34 0.77 -1.06 1.06 C -0.77 1.34 -0.39 1.5 0 1.5 z" transform="translate(603.70 551.88)" style="fill: #ff7f0e; stroke: #ff7f0e"/>
     <path d="M 0 1.5 C 0.39 1.5 0.77 1.34 1.06 1.06 C 1.34 0.77 1.5 0.39 1.5 0 C 1.5 -0.39 1.34 -0.77 1.06 -1.06 C 0.77 -1.34 0.39 -1.5 0 -1.5 C -0.39 -1.5 -0.77 -1.34 -1.06 -1.06 C -1.34 -0.77 -1.5 -0.39 -1.5 0 C -1.5 0.39 -1.34 0.77 -1.06 1.06 C -0.77 1.34 -0.39 1.5 0 1.5 z" transform="translate(627.87 553.38)" style="fill: #ff7f0e; stroke: #ff7f0e"/>
     <path d="M 0 1.5 C 0.39 1.5 0.77 1.34 1.06 1.06 C 1.34 0.77 1.5 0.39 1.5 0 C 1.5 -0.39 1.34 -0.77 1.06 -1.06 C 0.77 -1.34 0.39 -1.5 0 -1.5 C -0.39 -1.5 -0.77 -1.34 -1.06 -1.06 C -1.34 -0.77 -1.5 -0.39 -1.5 0 C -1.5 0.39 -1.34 0.77 -1.06 1.06 C -0.77 1.34 -0.39 1.5 0 1.5 z" transform="translate(652.03 555.32)" style="fill: #ff7f0e; stroke: #ff7f0e"/>
     <path d="M 0 1.5 C 0.39 1.5 0.77 1.34 1.06 1.06 C 1.34 0.77 1.5 0.39 1.5 0 C 1.5 -0.39 1.34 -0.77 1.06 -1.06 C 0.77 -1.34 0.39 -1.5 0 -1.5 C -0.39 -1.5 -0.77 -1.34 -1.06 -1.06 C -1.34 -0.77 -1.5 -0.39 -1.5 0 C -1.5 0.39 -1.34 0.77 -1.06 1.06 C -0.77 1.34 -0.39 1.5 0 1.5 z" transform="translate(676.20 556.14)" style="fill: #ff7f0e; stroke: #ff7f0e"/>
     <path d="M 0 1.5 C 0.39 1.5 0.77 1.34 1.06 1.06 C 1.34 0.77 1.5 0.39 1.5 0 C 1.5 -0.39 1.34 -0.77 1.06 -1.06 C 0.77 -1.34 0.39 -1.5 0 -1.5 C -0.39 -1.5 -0.77 -1.34 -1.06 -1.06 C -1.34 -0.77 -1.5 -0.39 -1.5 0 C -1.5 0.39 -1.34 0.77 -1.06 1.06 C -0.77 1.34 -0.39 1.5 0 1.5 z" transform="translate(700.37 555.32)" style="fill: #ff7f0e; stroke: #ff7f0e"/>
     <path d="M 0 1.5 C 0.39 1.5 0.77 1.34 1.06 1.06 C 1.34 0.77 1.5 0.39 1.5 0 C 1.5 -0.39 1.34 -0.77 1.06 -1.06 C 0.77 -1.34 0.39 -1.5 0 -1.5 C -0.39 -1.5 -0.77 -1.34 -1.06 -1.06 C -1.34 -0.77 -1.5 -0.39 -1.5 0 C -1.5 0.39 -1.34 0.77 -1.06 1.06 C -0.77 1.34 -0.39 1.5 0 1.5 z" transform="translate(724.53 554.68)" style="fill: #ff7f0e; stroke: #ff7f0e"/>
    </g>
   </g>
   <g id="line2d_42">
    <path d="M 72.03 557.28 L 96.20 556.14 L 120.36 554.68 L 144.53 555.32 L 168.70 550.93 L 192.87 551.75 L 217.03 554.55 L 241.20 554.04 L 265.37 556.14 L 289.53 555.32 L 313.70 552.51 L 337.87 553.18 L 362.03 554.68 L 386.20 555.32 L 410.37 553.18 L 434.53 556.26 L 458.70 556.14 L 482.87 557.41 L 507.03 557.11 L 531.20 557.41 L 555.37 559.07 L 579.53 559.07 L 603.70 559.73 L 627.87 560.52 L 652.03 561.36 L 676.20 561.29 L 700.37 560.52 L 724.53 561.36" clip-path="url(#p3e424a0b65)" style="fill: none; stroke: #000000; stroke-width: 1.5; stroke-linecap: square"/>
    <g clip-path="url(#p3e424a0b65)">
     <path d="M 0 1.5 C 0.39 1.5 0.77 1.34 1.06 1.06 C 1.34 0.77 1.5 0.39 1.5 0 C 1.5 -0.39 1.34 -0.77 1.06 -1.06 C 0.77 -1.34 0.39 -1.5 0 -1.5 C -0.39 -1.5 -0.77 -1.34 -1.06 -1.06 C -1.34 -0.77 -1.5 -0.39 -1.5 0 C -1.5 0.39 -1.34 0.77 -1.06 1.06 C -0.77 1.34 -0.39 1.5 0 1.5 z" transform="translate(72.03 557.28)" style="stroke: #000000"/>
     <path d="M 0 1.5 C 0.39 1.5 0.77 1.34 1.06 1.06 C 1.34 0.77 1.5 0.39 1.5 0 C 1.5 -0.39 1.34 -0.77 1.06 -1.06 C 0.77 -1.34 0.39 -1.5 0 -1.5 C -0.39 -1.5 -0.77 -1.34 -1.06 -1.06 C -1.34 -0.77 -1.5 -0.39 -1.5 0 C -1.5 0.39 -1.34 0.77 -1.06 1.06 C -0.77 1.34 -0.39 1.5 0 1.5 z" transform="translate(96.20 556.14)" style="stroke: #000000"/>
     <path d="M 0 1.5 C 0.39 1.5 0.77 1.34 1.06 1.06 C 1.34 0.77 1.5 0.39 1.5 0 C 1.5 -0.39 1.34 -0.77 1.06 -1.06 C 0.77 -1.34 0.39 -1.5 0 -1.5 C -0.39 -1.5 -0.77 -1.34 -1.06 -1.06 C -1.34 -0.77 -1.5 -0.39 -1.5 0 C -1.5 0.39 -1.34 0.77 -1.06 1.06 C -0.77 1.34 -0.39 1.5 0 1.5 z" transform="translate(120.36 554.68)" style="stroke: #000000"/>
     <path d="M 0 1.5 C 0.39 1.5 0.77 1.34 1.06 1.06 C 1.34 0.77 1.5 0.39 1.5 0 C 1.5 -0.39 1.34 -0.77 1.06 -1.06 C 0.77 -1.34 0.39 -1.5 0 -1.5 C -0.39 -1.5 -0.77 -1.34 -1.06 -1.06 C -1.34 -0.77 -1.5 -0.39 -1.5 0 C -1.5 0.39 -1.34 0.77 -1.06 1.06 C -0.77 1.34 -0.39 1.5 0 1.5 z" transform="translate(144.53 555.32)" style="stroke: #000000"/>
     <path d="M 0 1.5 C 0.39 1.5 0.77 1.34 1.06 1.06 C 1.34 0.77 1.5 0.39 1.5 0 C 1.5 -0.39 1.34 -0.77 1.06 -1.06 C 0.77 -1.34 0.39 -1.5 0 -1.5 C -0.39 -1.5 -0.77 -1.34 -1.06 -1.06 C -1.34 -0.77 -1.5 -0.39 -1.5 0 C -1.5 0.39 -1.34 0.77 -1.06 1.06 C -0.77 1.34 -0.39 1.5 0 1.5 z" transform="translate(168.70 550.93)" style="stroke: #000000"/>
     <path d="M 0 1.5 C 0.39 1.5 0.77 1.34 1.06 1.06 C 1.34 0.77 1.5 0.39 1.5 0 C 1.5 -0.39 1.34 -0.77 1.06 -1.06 C 0.77 -1.34 0.39 -1.5 0 -1.5 C -0.39 -1.5 -0.77 -1.34 -1.06 -1.06 C -1.34 -0.77 -1.5 -0.39 -1.5 0 C -1.5 0.39 -1.34 0.77 -1.06 1.06 C -0.77 1.34 -0.39 1.5 0 1.5 z" transform="translate(192.87 551.75)" style="stroke: #000000"/>
     <path d="M 0 1.5 C 0.39 1.5 0.77 1.34 1.06 1.06 C 1.34 0.77 1.5 0.39 1.5 0 C 1.5 -0.39 1.34 -0.77 1.06 -1.06 C 0.77 -1.34 0.39 -1.5 0 -1.5 C -0.39 -1.5 -0.77 -1.34 -1.06 -1.06 C -1.34 -0.77 -1.5 -0.39 -1.5 0 C -1.5 0.39 -1.34 0.77 -1.06 1.06 C -0.77 1.34 -0.39 1.5 0 1.5 z" transform="translate(217.03 554.55)" style="stroke: #000000"/>
     <path d="M 0 1.5 C 0.39 1.5 0.77 1.34 1.06 1.06 C 1.34 0.77 1.5 0.39 1.5 0 C 1.5 -0.39 1.34 -0.77 1.06 -1.06 C 0.77 -1.34 0.39 -1.5 0 -1.5 C -0.39 -1.5 -0.77 -1.34 -1.06 -1.06 C -1.34 -0.77 -1.5 -0.39 -1.5 0 C -1.5 0.39 -1.34 0.77 -1.06 1.06 C -0.77 1.34 -0.39 1.5 0 1.5 z" transform="translate(241.20 554.04)" style="stroke: #000000"/>
     <path d="M 0 1.5 C 0.39 1.5 0.77 1.34 1.06 1.06 C 1.34 0.77 1.5 0.39 1.5 0 C 1.5 -0.39 1.34 -0.77 1.06 -1.06 C 0.77 -1.34 0.39 -1.5 0 -1.5 C -0.39 -1.5 -0.77 -1.34 -1.06 -1.06 C -1.34 -0.77 -1.5 -0.39 -1.5 0 C -1.5 0.39 -1.34 0.77 -1.06 1.06 C -0.77 1.34 -0.39 1.5 0 1.5 z" transform="translate(265.37 556.14)" style="stroke: #000000"/>
     <path d="M 0 1.5 C 0.39 1.5 0.77 1.34 1.06 1.06 C 1.34 0.77 1.5 0.39 1.5 0 C 1.5 -0.39 1.34 -0.77 1.06 -1.06 C 0.77 -1.34 0.39 -1.5 0 -1.5 C -0.39 -1.5 -0.77 -1.34 -1.06 -1.06 C -1.34 -0.77 -1.5 -0.39 -1.5 0 C -1.5 0.39 -1.34 0.77 -1.06 1.06 C -0.77 1.34 -0.39 1.5 0 1.5 z" transform="translate(289.53 555.32)" style="stroke: #000000"/>
     <path d="M 0 1.5 C 0.39 1.5 0.77 1.34 1.06 1.06 C 1.34 0.77 1.5 0.39 1.5 0 C 1.5 -0.39 1.34 -0.77 1.06 -1.06 C 0.77 -1.34 0.39 -1.5 0 -1.5 C -0.39 -1.5 -0.77 -1.34 -1.06 -1.06 C -1.34 -0.77 -1.5 -0.39 -1.5 0 C -1.5 0.39 -1.34 0.77 -1.06 1.06 C -0.77 1.34 -0.39 1.5 0 1.5 z" transform="translate(313.70 552.51)" style="stroke: #000000"/>
     <path d="M 0 1.5 C 0.39 1.5 0.77 1.34 1.06 1.06 C 1.34 0.77 1.5 0.39 1.5 0 C 1.5 -0.39 1.34 -0.77 1.06 -1.06 C 0.77 -1.34 0.39 -1.5 0 -1.5 C -0.39 -1.5 -0.77 -1.34 -1.06 -1.06 C -1.34 -0.77 -1.5 -0.39 -1.5 0 C -1.5 0.39 -1.34 0.77 -1.06 1.06 C -0.77 1.34 -0.39 1.5 0 1.5 z" transform="translate(337.87 553.18)" style="stroke: #000000"/>
     <path d="M 0 1.5 C 0.39 1.5 0.77 1.34 1.06 1.06 C 1.34 0.77 1.5 0.39 1.5 0 C 1.5 -0.39 1.34 -0.77 1.06 -1.06 C 0.77 -1.34 0.39 -1.5 0 -1.5 C -0.39 -1.5 -0.77 -1.34 -1.06 -1.06 C -1.34 -0.77 -1.5 -0.39 -1.5 0 C -1.5 0.39 -1.34 0.77 -1.06 1.06 C -0.77 1.34 -0.39 1.5 0 1.5 z" transform="translate(362.03 554.68)" style="stroke: #000000"/>
     <path d="M 0 1.5 C 0.39 1.5 0.77 1.34 1.06 1.06 C 1.34 0.77 1.5 0.39 1.5 0 C 1.5 -0.39 1.34 -0.77 1.06 -1.06 C 0.77 -1.34 0.39 -1.5 0 -1.5 C -0.39 -1.5 -0.77 -1.34 -1.06 -1.06 C -1.34 -0.77 -1.5 -0.39 -1.5 0 C -1.5 0.39 -1.34 0.77 -1.06 1.06 C -0.77 1.34 -0.39 1.5 0 1.5 z" transform="translate(386.20 555.32)" style="stroke: #000000"/>
     <path d="M 0 1.5 C 0.39 1.5 0.77 1.34 1.06 1.06 C 1.34 0.77 1.5 0.39 1.5 0 C 1.5 -0.39 1.34 -0.77 1.06 -1.06 C 0.77 -1.34 0.39 -1.5 0 -1.5 C -0.39 -1.5 -0.77 -1.34 -1.06 -1.06 C -1.34 -0.77 -1.5 -0.39 -1.5 0 C -1.5 0.39 -1.34 0.77 -1.06 1.06 C -0.77 1.34 -0.39 1.5 0 1.5 z" transform="translate(410.37 553.18)" style="stroke: #000000"/>
     <path d="M 0 1.5 C 0.39 1.5 0.77 1.34 1.06 1.06 C 1.34 0.77 1.5 0.39 1.5 0 C 1.5 -0.39 1.34 -0.77 1.06 -1.06 C 0.77 -1.34 0.39 -1.5 0 -1.5 C -0.39 -1.5 -0.77 -1.34 -1.06 -1.06 C -1.34 -0.77 -1.5 -0.39 -1.5 0 C -1.5 0.39 -1.34 0.77 -1.06 1.06 C -0.77 1.34 -0.39 1.5 0 1.5 z" transform="translate(434.53 556.26)" style="stroke: #000000"/>
     <path d="M 0 1.5 C 0.39 1.5 0.77 1.34 1.06 1.06 C 1.34 0.77 1.5 0.39 1.5 0 C 1.5 -0.39 1.34 -0.77 1.06 -1.06 C 0.77 -1.34 0.39 -1.5 0 -1.5 C -0.39 -1.5 -0.77 -1.34 -1.06 -1.06 C -1.34 -0.77 -1.5 -0.39 -1.5 0 C -1.5 0.39 -1.34 0.77 -1.06 1.06 C -0.77 1.34 -0.39 1.5 0 1.5 z" transform="translate(458.70 556.14)" style="stroke: #000000"/>
     <path d="M 0 1.5 C 0.39 1.5 0.77 1.34 1.06 1.06 C 1.34 0.77 1.5 0.39 1.5 0 C 1.5 -0.39 1.34 -0.77 1.06 -1.06 C 0.77 -1.34 0.39 -1.5 0 -1.5 C -0.39 -1.5 -0.77 -1.34 -1.06 -1.06 C -1.34 -0.77 -1.5 -0.39 -1.5 0 C -1.5 0.39 -1.34 0.77 -1.06 1.06 C -0.77 1.34 -0.39 1.5 0 1.5 z" transform="translate(482.87 557.41)" style="stroke: #000000"/>
     <path d="M 0 1.5 C 0.39 1.5 0.77 1.34 1.06 1.06 C 1.34 0.77 1.5 0.39 1.5 0 C 1.5 -0.39 1.34 -0.77 1.06 -1.06 C 0.77 -1.34 0.39 -1.5 0 -1.5 C -0.39 -1.5 -0.77 -1.34 -1.06 -1.06 C -1.34 -0.77 -1.5 -0.39 -1.5 0 C -1.5 0.39 -1.34 0.77 -1.06 1.06 C -0.77 1.34 -0.39 1.5 0 1.5 z" transform="translate(507.03 557.11)" style="stroke: #000000"/>
     <path d="M 0 1.5 C 0.39 1.5 0.77 1.34 1.06 1.06 C 1.34 0.77 1.5 0.39 1.5 0 C 1.5 -0.39 1.34 -0.77 1.06 -1.06 C 0.77 -1.34 0.39 -1.5 0 -1.5 C -0.39 -1.5 -0.77 -1.34 -1.06 -1.06 C -1.34 -0.77 -1.5 -0.39 -1.5 0 C -1.5 0.39 -1.34 0.77 -1.06 1.06 C -0.77 1.34 -0.39 1.5 0 1.5 z" transform="translate(531.20 557.41)" style="stroke: #000000"/>
     <path d="M 0 1.5 C 0.39 1.5 0.77 1.34 1.06 1.06 C 1.34 0.77 1.5 0.39 1.5 0 C 1.5 -0.39 1.34 -0.77 1.06 -1.06 C 0.77 -1.34 0.39 -1.5 0 -1.5 C -0.39 -1.5 -0.77 -1.34 -1.06 -1.06 C -1.34 -0.77 -1.5 -0.39 -1.5 0 C -1.5 0.39 -1.34 0.77 -1.06 1.06 C -0.77 1.34 -0.39 1.5 0 1.5 z" transform="translate(555.37 559.07)" style="stroke: #000000"/>
     <path d="M 0 1.5 C 0.39 1.5 0.77 1.34 1.06 1.06 C 1.34 0.77 1.5 0.39 1.5 0 C 1.5 -0.39 1.34 -0.77 1.06 -1.06 C 0.77 -1.34 0.39 -1.5 0 -1.5 C -0.39 -1.5 -0.77 -1.34 -1.06 -1.06 C -1.34 -0.77 -1.5 -0.39 -1.5 0 C -1.5 0.39 -1.34 0.77 -1.06 1.06 C -0.77 1.34 -0.39 1.5 0 1.5 z" transform="translate(579.53 559.07)" style="stroke: #000000"/>
     <path d="M 0 1.5 C 0.39 1.5 0.77 1.34 1.06 1.06 C 1.34 0.77 1.5 0.39 1.5 0 C 1.5 -0.39 1.34 -0.77 1.06 -1.06 C 0.77 -1.34 0.39 -1.5 0 -1.5 C -0.39 -1.5 -0.77 -1.34 -1.06 -1.06 C -1.34 -0.77 -1.5 -0.39 -1.5 0 C -1.5 0.39 -1.34 0.77 -1.06 1.06 C -0.77 1.34 -0.39 1.5 0 1.5 z" transform="translate(603.70 559.73)" style="stroke: #000000"/>
     <path d="M 0 1.5 C 0.39 1.5 0.77 1.34 1.06 1.06 C 1.34 0.77 1.5 0.39 1.5 0 C 1.5 -0.39 1.34 -0.77 1.06 -1.06 C 0.77 -1.34 0.39 -1.5 0 -1.5 C -0.39 -1.5 -0.77 -1.34 -1.06 -1.06 C -1.34 -0.77 -1.5 -0.39 -1.5 0 C -1.5 0.39 -1.34 0.77 -1.06 1.06 C -0.77 1.34 -0.39 1.5 0 1.5 z" transform="translate(627.87 560.52)" style="stroke: #000000"/>
     <path d="M 0 1.5 C 0.39 1.5 0.77 1.34 1.06 1.06 C 1.34 0.77 1.5 0.39 1.5 0 C 1.5 -0.39 1.34 -0.77 1.06 -1.06 C 0.77 -1.34 0.39 -1.5 0 -1.5 C -0.39 -1.5 -0.77 -1.34 -1.06 -1.06 C -1.34 -0.77 -1.5 -0.39 -1.5 0 C -1.5 0.39 -1.34 0.77 -1.06 1.06 C -0.77 1.34 -0.39 1.5 0 1.5 z" transform="translate(652.03 561.36)" style="stroke: #000000"/>
     <path d="M 0 1.5 C 0.39 1.5 0.77 1.34 1.06 1.06 C 1.34 0.77 1.5 0.39 1.5 0 C 1.5 -0.39 1.34 -0.77 1.06 -1.06 C 0.77 -1.34 0.39 -1.5 0 -1.5 C -0.39 -1.5 -0.77 -1.34 -1.06 -1.06 C -1.34 -0.77 -1.5 -0.39 -1.5 0 C -1.5 0.39 -1.34 0.77 -1.06 1.06 C -0.77 1.34 -0.39 1.5 0 1.5 z" transform="translate(676.20 561.29)" style="stroke: #000000"/>
     <path d="M 0 1.5 C 0.39 1.5 0.77 1.34 1.06 1.06 C 1.34 0.77 1.5 0.39 1.5 0 C 1.5 -0.39 1.34 -0.77 1.06 -1.06 C 0.77 -1.34 0.39 -1.5 0 -1.5 C -0.39 -1.5 -0.77 -1.34 -1.06 -1.06 C -1.34 -0.77 -1.5 -0.39 -1.5 0 C -1.5 0.39 -1.34 0.77 -1.06 1.06 C -0.77 1.34 -0.39 1.5 0 1.5 z" transform="translate(700.37 560.52)" style="stroke: #000000"/>
     <path d="M 0 1.5 C 0.39 1.5 0.77 1.34 1.06 1.06 C 1.34 0.77 1.5 0.39 1.5 0 C 1.5 -0.39 1.34 -0.77 1.06 -1.06 C 0.77 -1.34 0.39 -1.5 0 -1.5 C -0.39 -1.5 -0.77 -1.34 -1.06 -1.06 C -1.34 -0.77 -1.5 -0.39 -1.5 0 C -1.5 0.39 -1.34 0.77 -1.06 1.06 C -0.77 1.34 -0.39 1.5 0 1.5 z" transform="translate(724.53 561.36)" style="stroke: #000000"/>
    </g>
   </g>
   <g id="text_41">
    <text style="font-size: 10px; font-family: 'DejaVu Sans', 'Liberation Sans', sans-serif; text-anchor: middle; fill: #ff7f0e" x="72.03" y="558.27" transform="rotate(-0 72.03 558.27)">0</text>
   </g>
   <g id="text_42">
    <text style="font-size: 10px; font-family: 'DejaVu Sans', 'Liberation Sans', sans-serif; text-anchor: middle" x="72.03" y="569.24" transform="rotate(-0 72.03 569.24)">3</text>
   </g>
   <g id="text_43">
    <text style="font-size: 10px; font-family: 'DejaVu Sans', 'Liberation Sans', sans-serif; text-anchor: middle; fill: #ff7f0e" x="96.20" y="539.65" transform="rotate(-0 96.20 539.65)">8</text>
   </g>
   <g id="text_44">
    <text style="font-size: 10px; font-family: 'DejaVu Sans', 'Liberation Sans', sans-serif; text-anchor: middle" x="96.20" y="568.09" transform="rotate(-0 96.20 568.09)">3</text>
   </g>
   <g id="text_45">
    <text style="font-size: 10px; font-family: 'DejaVu Sans', 'Liberation Sans', sans-serif; text-anchor: middle; fill: #ff7f0e" x="120.36" y="538.35" transform="rotate(-0 120.36 538.35)">8</text>
   </g>
   <g id="text_46">
    <text style="font-size: 10px; font-family: 'DejaVu Sans', 'Liberation Sans', sans-serif; text-anchor: middle" x="120.36" y="566.63" transform="rotate(-0 120.36 566.63)">4</text>
   </g>
   <g id="text_47">
    <text style="font-size: 10px; font-family: 'DejaVu Sans', 'Liberation Sans', sans-serif; text-anchor: middle; fill: #ff7f0e" x="144.53" y="537.56" transform="rotate(-0 144.53 537.56)">9</text>
   </g>
   <g id="text_48">
    <text style="font-size: 10px; font-family: 'DejaVu Sans', 'Liberation Sans', sans-serif; text-anchor: middle" x="144.53" y="567.27" transform="rotate(-0 144.53 567.27)">4</text>
   </g>
   <g id="text_49">
    <text style="font-size: 10px; font-family: 'DejaVu Sans', 'Liberation Sans', sans-serif; text-anchor: middle; fill: #ff7f0e" x="168.70" y="531.01" transform="rotate(-0 168.70 531.01)">11</text>
   </g>
   <g id="text_50">
    <text style="font-size: 10px; font-family: 'DejaVu Sans', 'Liberation Sans', sans-serif; text-anchor: middle" x="168.70" y="562.89" transform="rotate(-0 168.70 562.89)">5</text>
   </g>
   <g id="text_51">
    <text style="font-size: 10px; font-family: 'DejaVu Sans', 'Liberation Sans', sans-serif; text-anchor: middle; fill: #ff7f0e" x="192.87" y="527.49" transform="rotate(-0 192.87 527.49)">12</text>
   </g>
   <g id="text_52">
    <text style="font-size: 10px; font-family: 'DejaVu Sans', 'Liberation Sans', sans-serif; text-anchor: middle" x="192.87" y="563.70" transform="rotate(-0 192.87 563.70)">5</text>
   </g>
   <g id="text_53">
    <text style="font-size: 10px; font-family: 'DejaVu Sans', 'Liberation Sans', sans-serif; text-anchor: middle; fill: #ff7f0e" x="217.03" y="529.58" transform="rotate(-0 217.03 529.58)">12</text>
   </g>
   <g id="text_54">
    <text style="font-size: 10px; font-family: 'DejaVu Sans', 'Liberation Sans', sans-serif; text-anchor: middle" x="217.03" y="566.51" transform="rotate(-0 217.03 566.51)">4</text>
   </g>
   <g id="text_55">
    <text style="font-size: 10px; font-family: 'DejaVu Sans', 'Liberation Sans', sans-serif; text-anchor: middle; fill: #ff7f0e" x="241.20" y="533.45" transform="rotate(-0 241.20 533.45)">10</text>
   </g>
   <g id="text_56">
    <text style="font-size: 10px; font-family: 'DejaVu Sans', 'Liberation Sans', sans-serif; text-anchor: middle" x="241.20" y="566.00" transform="rotate(-0 241.20 566.00)">4</text>
   </g>
   <g id="text_57">
    <text style="font-size: 10px; font-family: 'DejaVu Sans', 'Liberation Sans', sans-serif; text-anchor: middle; fill: #ff7f0e" x="265.37" y="533.45" transform="rotate(-0 265.37 533.45)">10</text>
   </g>
   <g id="text_58">
    <text style="font-size: 10px; font-family: 'DejaVu Sans', 'Liberation Sans', sans-serif; text-anchor: middle" x="265.37" y="568.09" transform="rotate(-0 265.37 568.09)">3</text>
   </g>
   <g id="text_59">
    <text style="font-size: 10px; font-family: 'DejaVu Sans', 'Liberation Sans', sans-serif; text-anchor: middle; fill: #ff7f0e" x="289.53" y="537.92" transform="rotate(-0 289.53 537.92)">8</text>
   </g>
   <g id="text_60">
    <text style="font-size: 10px; font-family: 'DejaVu Sans', 'Liberation Sans', sans-serif; text-anchor: middle" x="289.53" y="567.27" transform="rotate(-0 289.53 567.27)">4</text>
   </g>
   <g id="text_61">
    <text style="font-size: 10px; font-family: 'DejaVu Sans', 'Liberation Sans', sans-serif; text-anchor: middle; fill: #ff7f0e" x="313.70" y="531.87" transform="rotate(-0 313.70 531.87)">11</text>
   </g>
   <g id="text_62">
    <text style="font-size: 10px; font-family: 'DejaVu Sans', 'Liberation Sans', sans-serif; text-anchor: middle" x="313.70" y="564.47" transform="rotate(-0 313.70 564.47)">5</text>
   </g>
   <g id="text_63">
    <text style="font-size: 10px; font-family: 'DejaVu Sans', 'Liberation Sans', sans-serif; text-anchor: middle; fill: #ff7f0e" x="337.87" y="531.24" transform="rotate(-0 337.87 531.24)">11</text>
   </g>
   <g id="text_64">
    <text style="font-size: 10px; font-family: 'DejaVu Sans', 'Liberation Sans', sans-serif; text-anchor: middle" x="337.87" y="565.13" transform="rotate(-0 337.87 565.13)">5</text>
   </g>
   <g id="text_65">
    <text style="font-size: 10px; font-family: 'DejaVu Sans', 'Liberation Sans', sans-serif; text-anchor: middle; fill: #ff7f0e" x="362.03" y="533.45" transform="rotate(-0 362.03 533.45)">10</text>
   </g>
   <g id="text_66">
    <text style="font-size: 10px; font-family: 'DejaVu Sans', 'Liberation Sans', sans-serif; text-anchor: middle" x="362.03" y="566.63" transform="rotate(-0 362.03 566.63)">4</text>
   </g>
   <g id="text_67">
    <text style="font-size: 10px; font-family: 'DejaVu Sans', 'Liberation Sans', sans-serif; text-anchor: middle; fill: #ff7f0e" x="386.20" y="537.92" transform="rotate(-0 386.20 537.92)">8</text>
   </g>
   <g id="text_68">
    <text style="font-size: 10px; font-family: 'DejaVu Sans', 'Liberation Sans', sans-serif; text-anchor: middle" x="386.20" y="567.27" transform="rotate(-0 386.20 567.27)">4</text>
   </g>
   <g id="text_69">
    <text style="font-size: 10px; font-family: 'DejaVu Sans', 'Liberation Sans', sans-serif; text-anchor: middle; fill: #ff7f0e" x="410.37" y="533.45" transform="rotate(-0 410.37 533.45)">10</text>
   </g>
   <g id="text_70">
    <text style="font-size: 10px; font-family: 'DejaVu Sans', 'Liberation Sans', sans-serif; text-anchor: middle" x="410.37" y="565.13" transform="rotate(-0 410.37 565.13)">5</text>
   </g>
   <g id="text_71">
    <text style="font-size: 10px; font-family: 'DejaVu Sans', 'Liberation Sans', sans-serif; text-anchor: middle; fill: #ff7f0e" x="434.53" y="533.45" transform="rotate(-0 434.53 533.45)">10</text>
   </g>
   <g id="text_72">
    <text style="font-size: 10px; font-family: 'DejaVu Sans', 'Liberation Sans', sans-serif; text-anchor: middle" x="434.53" y="568.22" transform="rotate(-0 434.53 568.22)">3</text>
   </g>
   <g id="text_73">
    <text style="font-size: 10px; font-family: 'DejaVu Sans', 'Liberation Sans', sans-serif; text-anchor: middle; fill: #ff7f0e" x="458.70" y="536.26" transform="rotate(-0 458.70 536.26)">9</text>
   </g>
   <g id="text_74">
    <text style="font-size: 10px; font-family: 'DejaVu Sans', 'Liberation Sans', sans-serif; text-anchor: middle" x="458.70" y="568.09" transform="rotate(-0 458.70 568.09)">3</text>
   </g>
   <g id="text_75">
    <text style="font-size: 10px; font-family: 'DejaVu Sans', 'Liberation Sans', sans-serif; text-anchor: middle; fill: #ff7f0e" x="482.87" y="540.34" transform="rotate(-0 482.87 540.34)">7</text>
   </g>
   <g id="text_76">
    <text style="font-size: 10px; font-family: 'DejaVu Sans', 'Liberation Sans', sans-serif; text-anchor: middle" x="482.87" y="569.36" transform="rotate(-0 482.87 569.36)">3</text>
   </g>
   <g id="text_77">
    <text style="font-size: 10px; font-family: 'DejaVu Sans', 'Liberation Sans', sans-serif; text-anchor: middle; fill: #ff7f0e" x="507.03" y="542.46" transform="rotate(-0 507.03 542.46)">7</text>
   </g>
   <g id="text_78">
    <text style="font-size: 10px; font-family: 'DejaVu Sans', 'Liberation Sans', sans-serif; text-anchor: middle" x="507.03" y="569.06" transform="rotate(-0 507.03 569.06)">3</text>
   </g>
   <g id="text_79">
    <text style="font-size: 10px; font-family: 'DejaVu Sans', 'Liberation Sans', sans-serif; text-anchor: middle; fill: #ff7f0e" x="531.20" y="541.16" transform="rotate(-0 531.20 541.16)">7</text>
   </g>
   <g id="text_80">
    <text style="font-size: 10px; font-family: 'DejaVu Sans', 'Liberation Sans', sans-serif; text-anchor: middle" x="531.20" y="569.36" transform="rotate(-0 531.20 569.36)">3</text>
   </g>
   <g id="text_81">
    <text style="font-size: 10px; font-family: 'DejaVu Sans', 'Liberation Sans', sans-serif; text-anchor: middle; fill: #ff7f0e" x="555.37" y="542.76" transform="rotate(-0 555.37 542.76)">6</text>
   </g>
   <g id="text_82">
    <text style="font-size: 10px; font-family: 'DejaVu Sans', 'Liberation Sans', sans-serif; text-anchor: middle" x="555.37" y="571.02" transform="rotate(-0 555.37 571.02)">2</text>
   </g>
   <g id="text_83">
    <text style="font-size: 10px; font-family: 'DejaVu Sans', 'Liberation Sans', sans-serif; text-anchor: middle; fill: #ff7f0e" x="579.53" y="544.90" transform="rotate(-0 579.53 544.90)">6</text>
   </g>
   <g id="text_84">
    <text style="font-size: 10px; font-family: 'DejaVu Sans', 'Liberation Sans', sans-serif; text-anchor: middle" x="579.53" y="571.02" transform="rotate(-0 579.53 571.02)">2</text>
   </g>
   <g id="text_85">
    <text style="font-size: 10px; font-family: 'DejaVu Sans', 'Liberation Sans', sans-serif; text-anchor: middle; fill: #ff7f0e" x="603.70" y="546.33" transform="rotate(-0 603.70 546.33)">5</text>
   </g>
   <g id="text_86">
    <text style="font-size: 10px; font-family: 'DejaVu Sans', 'Liberation Sans', sans-serif; text-anchor: middle" x="603.70" y="571.68" transform="rotate(-0 603.70 571.68)">2</text>
   </g>
   <g id="text_87">
    <text style="font-size: 10px; font-family: 'DejaVu Sans', 'Liberation Sans', sans-serif; text-anchor: middle; fill: #ff7f0e" x="627.87" y="547.84" transform="rotate(-0 627.87 547.84)">4</text>
   </g>
   <g id="text_88">
    <text style="font-size: 10px; font-family: 'DejaVu Sans', 'Liberation Sans', sans-serif; text-anchor: middle" x="627.87" y="572.47" transform="rotate(-0 627.87 572.47)">2</text>
   </g>
   <g id="text_89">
    <text style="font-size: 10px; font-family: 'DejaVu Sans', 'Liberation Sans', sans-serif; text-anchor: middle; fill: #ff7f0e" x="652.03" y="549.78" transform="rotate(-0 652.03 549.78)">4</text>
   </g>
   <g id="text_90">
    <text style="font-size: 10px; font-family: 'DejaVu Sans', 'Liberation Sans', sans-serif; text-anchor: middle" x="652.03" y="573.32" transform="rotate(-0 652.03 573.32)">1</text>
   </g>
   <g id="text_91">
    <text style="font-size: 10px; font-family: 'DejaVu Sans', 'Liberation Sans', sans-serif; text-anchor: middle; fill: #ff7f0e" x="676.20" y="550.59" transform="rotate(-0 676.20 550.59)">3</text>
   </g>
   <g id="text_92">
    <text style="font-size: 10px; font-family: 'DejaVu Sans', 'Liberation Sans', sans-serif; text-anchor: middle" x="676.20" y="573.24" transform="rotate(-0 676.20 573.24)">1</text>
   </g>
   <g id="text_93">
    <text style="font-size: 10px; font-family: 'DejaVu Sans', 'Liberation Sans', sans-serif; text-anchor: middle; fill: #ff7f0e" x="700.37" y="549.78" transform="rotate(-0 700.37 549.78)">4</text>
   </g>
   <g id="text_94">
    <text style="font-size: 10px; font-family: 'DejaVu Sans', 'Liberation Sans', sans-serif; text-anchor: middle" x="700.37" y="572.47" transform="rotate(-0 700.37 572.47)">2</text>
   </g>
   <g id="text_95">
    <text style="font-size: 10px; font-family: 'DejaVu Sans', 'Liberation Sans', sans-serif; text-anchor: middle; fill: #ff7f0e" x="724.53" y="549.14" transform="rotate(-0 724.53 549.14)">4</text>
   </g>
   <g id="text_96">
    <text style="font-size: 10px; font-family: 'DejaVu Sans', 'Liberation Sans', sans-serif; text-anchor: middle" x="724.53" y="573.32" transform="rotate(-0 724.53 573.32)">1</text>
   </g>
  </g>
  <g id="axes_5">
   <g id="patch_7">
    <path d="M 54 668.88 L 742.32 668.88 L 742.32 591.84 L 54 591.84 z" style="fill: #ffffff"/>
   </g>
   <g id="matplotlib.axis_9">
    <g id="xtick_31">
     <g id="crisp149" transform="translate(0.36 0.36)">
      <g>
       <path d="M 0 0 L 0 3.9" transform="translate(217.03 668.88)" style="stroke: #000000; stroke-width: 0.735"/>
      </g>
     </g>
    </g>
    <g id="xtick_32">
     <g id="crisp152" transform="translate(0.36 0.36)">
      <g>
       <path d="M 0 0 L 0 3.9" transform="translate(507.03 668.88)" style="stroke: #000000; stroke-width: 0.735"/>
      </g>
     </g>
    </g>
    <g id="xtick_33">
     <g id="crisp155" transform="translate(0.36 0.36)">
      <g>
       <path d="M 0 0 L 0 2.6" transform="translate(72.03 668.88)" style="stroke: #000000; stroke-width: 0.735"/>
      </g>
     </g>
    </g>
    <g id="xtick_34">
     <g id="crisp158" transform="translate(0.36 0.36)">
      <g>
       <path d="M 0 0 L 0 2.6" transform="translate(144.53 668.88)" style="stroke: #000000; stroke-width: 0.735"/>
      </g>
     </g>
    </g>
    <g id="xtick_35">
     <g id="crisp161" transform="translate(0.36 0.36)">
      <g>
       <path d="M 0 0 L 0 2.6" transform="translate(289.53 668.88)" style="stroke: #000000; stroke-width: 0.735"/>
      </g>
     </g>
    </g>
    <g id="xtick_36">
     <g id="crisp164" transform="translate(0.36 0.36)">
      <g>
       <path d="M 0 0 L 0 2.6" transform="translate(362.03 668.88)" style="stroke: #000000; stroke-width: 0.735"/>
      </g>
     </g>
    </g>
    <g id="xtick_37">
     <g id="crisp167" transform="translate(0.36 0.36)">
      <g>
       <path d="M 0 0 L 0 2.6" transform="translate(434.53 668.88)" style="stroke: #000000; stroke-width: 0.735"/>
      </g>
     </g>
    </g>
    <g id="xtick_38">
     <g id="crisp170" transform="translate(0.36 0.36)">
      <g>
       <path d="M 0 0 L 0 2.6" transform="translate(579.53 668.88)" style="stroke: #000000; stroke-width: 0.735"/>
      </g>
     </g>
    </g>
    <g id="xtick_39">
     <g id="crisp173" transform="translate(0.36 0.36)">
      <g>
       <path d="M 0 0 L 0 2.6" transform="translate(652.03 668.88)" style="stroke: #000000; stroke-width: 0.735"/>
      </g>
     </g>
    </g>
    <g id="xtick_40">
     <g id="crisp176" transform="translate(0.36 0.36)">
      <g>
       <path d="M 0 0 L 0 2.6" transform="translate(724.53 668.88)" style="stroke: #000000; stroke-width: 0.735"/>
      </g>
     </g>
    </g>
   </g>
   <g id="matplotlib.axis_10">
    <g id="ytick_21">
     <g id="crisp181" transform="translate(0.36 0.36)">
      <path d="M 54 664.56 L 742.32 664.56" clip-path="url(#p72d6617a4e)" style="fill: none; stroke: #b0b0b0; stroke-width: 0.735; stroke-linecap: square"/>
     </g>
     <g id="crisp179" transform="translate(0.36 0.36)">
      <g>
       <path d="M 0 0 L -3.9 0" transform="translate(54 664.56)" style="stroke: #000000; stroke-width: 0.735"/>
      </g>
     </g>
     <g id="text_97">
      <text style="font-size: 10px; font-family: 'DejaVu Sans', 'Liberation Sans', sans-serif; text-anchor: end" x="46.41" y="668.35" transform="rotate(-0 46.41 668.35)">1000</text>
     </g>
    </g>
    <g id="ytick_22">
     <g id="crisp184" transform="translate(0.36 0.36)">
      <path d="M 54 614.95 L 742.32 614.95" clip-path="url(#p72d6617a4e)" style="fill: none; stroke: #b0b0b0; stroke-width: 0.735; stroke-linecap: square"/>
     </g>
     <g id="crisp182" transform="translate(0.36 0.36)">
      <g>
       <path d="M 0 0 L -3.9 0" transform="translate(54 614.95)" style="stroke: #000000; stroke-width: 0.735"/>
      </g>
     </g>
     <g id="text_98">
      <text style="font-size: 10px; font-family: 'DejaVu Sans', 'Liberation Sans', sans-serif; text-anchor: end" x="46.41" y="618.75" transform="rotate(-0 46.41 618.75)">1020</text>
     </g>
    </g>
    <g id="text_99">
     <text style="font-size: 10px; font-family: 'DejaVu Sans', 'Liberation Sans', sans-serif; text-anchor: middle" x="14.53" y="631.65" transform="rotate(-90 14.53 631.65)">MSLP [hPa]</text>
    </g>
   </g>
   <g id="line2d_43">
    <path d="M 72.03 668.88 L 72.03 591.84" clip-path="url(#p72d6617a4e)" style="fill: none; stroke-dasharray: 0.5,0.825; stroke-dashoffset: 0; stroke: #a6a6a6; stroke-width: 0.5"/>
   </g>
   <g id="line2d_44">
    <path d="M 217.03 668.88 L 217.03 591.84" clip-path="url(#p72d6617a4e)" style="fill: none; stroke-dasharray: 0.5,0.825; stroke-dashoffset: 0; stroke: #a6a6a6; stroke-width: 0.5"/>
   </g>
   <g id="line2d_45">
    <path d="M 362.03 668.88 L 362.03 591.84" clip-path="url(#p72d6617a4e)" style="fill: none; stroke-dasharray: 0.5,0.825; stroke-dashoffset: 0; stroke: #a6a6a6; stroke-width: 0.5"/>
   </g>
   <g id="line2d_46">
    <path d="M 652.03 668.88 L 652.03 591.84" clip-path="url(#p72d6617a4e)" style="fill: none; stroke-dasharray: 0.5,0.825; stroke-dashoffset: 0; stroke: #a6a6a6; stroke-width: 0.5"/>
   </g>
   <g id="line2d_47">
    <path d="M 507.03 668.88 L 507.03 591.84" clip-path="url(#p72d6617a4e)" style="fill: none; stroke-dasharray: 1.85,0.8; stroke-dashoffset: 0; stroke: #737373; stroke-width: 0.5"/>
   </g>
   <g id="line2d_48">
    <path d="M 72.03 656.44 L 96.20 656.44 L 120.36 656.44 L 144.53 655.45 L 168.70 651.72 L 192.87 647.75 L 217.03 643.28 L 241.20 638.82 L 265.37 635.34 L 289.53 632.36 L 313.70 628.64 L 337.87 626.65 L 362.03 623.67 L 386.20 621.44 L 410.37 618.96 L 434.53 614.99 L 458.70 613.75 L 482.87 611.51 L 507.03 610.02 L 531.20 608.78 L 555.37 607.79 L 579.53 607.29 L 603.70 606.55 L 627.87 605.55 L 652.03 605.06 L 676.20 604.31 L 700.37 605.06 L 724.53 605.80" clip-path="url(#p72d6617a4e)" style="fill: none; stroke: #ff0000; stroke-width: 1.5; stroke-linecap: square"/>
    
    <g clip-path="url(#p72d6617a4e)">
     <path d="M 0 1.5 C 0.39 1.5 0.77 1.34 1.06 1.06 C 1.34 0.77 1.5 0.39 1.5 0 C 1.5 -0.39 1.34 -0.77 1.06 -1.06 C 0.77 -1.34 0.39 -1.5 0 -1.5 C -0.39 -1.5 -0.77 -1.34 -1.06 -1.06 C -1.34 -0.77 -1.5 -0.39 -1.5 0 C -1.5 0.39 -1.34 0.77 -1.06 1.06 C -0.77 1.34 -0.39 1.5 0 1.5 z" transform="translate(72.03 656.44)" style="fill: #ff0000; stroke: #ff0000"/>
     <path d="M 0 1.5 C 0.39 1.5 0.77 1.34 1.06 1.06 C 1.34 0.77 1.5 0.39 1.5 0 C 1.5 -0.39 1.34 -0.77 1.06 -1.06 C 0.77 -1.34 0.39 -1.5 0 -1.5 C -0.39 -1.5 -0.77 -1.34 -1.06 -1.06 C -1.34 -0.77 -1.5 -0.39 -1.5 0 C -1.5 0.39 -1.34 0.77 -1.06 1.06 C -0.77 1.34 -0.39 1.5 0 1.5 z" transform="translate(96.20 656.44)" style="fill: #ff0000; stroke: #ff0000"/>
     <path d="M 0 1.5 C 0.39 1.5 0.77 1.34 1.06 1.06 C 1.34 0.77 1.5 0.39 1.5 0 C 1.5 -0.39 1.34 -0.77 1.06 -1.06 C 0.77 -1.34 0.39 -1.5 0 -1.5 C -0.39 -1.5 -0.77 -1.34 -1.06 -1.06 C -1.34 -0.77 -1.5 -0.39 -1.5 0 C -1.5 0.39 -1.34 0.77 -1.06 1.06 C -0.77 1.34 -0.39 1.5 0 1.5 z" transform="translate(120.36 656.44)" style="fill: #ff0000; stroke: #ff0000"/>
     <path d="M 0 1.5 C 0.39 1.5 0.77 1.34 1.06 1.06 C 1.34 0.77 1.5 0.39 1.5 0 C 1.5 -0.39 1.34 -0.77 1.06 -1.06 C 0.77 -1.34 0.39 -1.5 0 -1.5 C -0.39 -1.5 -0.77 -1.34 -1.06 -1.06 C -1.34 -0.77 -1.5 -0.39 -1.5 0 C -1.5 0.39 -1.34 0.77 -1.06 1.06 C -0.77 1.34 -0.39 1.5 0 1.5 z" transform="translate(144.53 655.45)" style="fill: #ff0000; stroke: #ff0000"/>
     <path d="M 0 1.5 C 0.39 1.5 0.77 1.34 1.06 1.06 C 1.34 0.77 1.5 0.39 1.5 0 C 1.5 -0.39 1.34 -0.77 1.06 -1.06 C 0.77 -1.34 0.39 -1.5 0 -1.5 C -0.39 -1.5 -0.77 -1.34 -1.06 -1.06 C -1.34 -0.77 -1.5 -0.39 -1.5 0 C -1.5 0.39 -1.34 0.77 -1.06 1.06 C -0.77 1.34 -0.39 1.5 0 1.5 z" transform="translate(168.70 651.72)" style="fill: #ff0000; stroke: #ff0000"/>
     <path d="M 0 1.5 C 0.39 1.5 0.77 1.34 1.06 1.06 C 1.34 0.77 1.5 0.39 1.5 0 C 1.5 -0.39 1.34 -0.77 1.06 -1.06 C 0.77 -1.34 0.39 -1.5 0 -1.5 C -0.39 -1.5 -0.77 -1.34 -1.06 -1.06 C -1.34 -0.77 -1.5 -0.39 -1.5 0 C -1.5 0.39 -1.34 0.77 -1.06 1.06 C -0.77 1.34 -0.39 1.5 0 1.5 z" transform="translate(192.87 647.75)" style="fill: #ff0000; stroke: #ff0000"/>
     <path d="M 0 1.5 C 0.39 1.5 0.77 1.34 1.06 1.06 C 1.34 0.77 1.5 0.39 1.5 0 C 1.5 -0.39 1.34 -0.77 1.06 -1.06 C 0.77 -1.34 0.39 -1.5 0 -1.5 C -0.39 -1.5 -0.77 -1.34 -1.06 -1.06 C -1.34 -0.77 -1.5 -0.39 -1.5 0 C -1.5 0.39 -1.34 0.77 -1.06 1.06 C -0.77 1.34 -0.39 1.5 0 1.5 z" transform="translate(217.03 643.28)" style="fill: #ff0000; stroke: #ff0000"/>
     <path d="M 0 1.5 C 0.39 1.5 0.77 1.34 1.06 1.06 C 1.34 0.77 1.5 0.39 1.5 0 C 1.5 -0.39 1.34 -0.77 1.06 -1.06 C 0.77 -1.34 0.39 -1.5 0 -1.5 C -0.39 -1.5 -0.77 -1.34 -1.06 -1.06 C -1.34 -0.77 -1.5 -0.39 -1.5 0 C -1.5 0.39 -1.34 0.77 -1.06 1.06 C -0.77 1.34 -0.39 1.5 0 1.5 z" transform="translate(241.20 638.82)" style="fill: #ff0000; stroke: #ff0000"/>
     <path d="M 0 1.5 C 0.39 1.5 0.77 1.34 1.06 1.06 C 1.34 0.77 1.5 0.39 1.5 0 C 1.5 -0.39 1.34 -0.77 1.06 -1.06 C 0.77 -1.34 0.39 -1.5 0 -1.5 C -0.39 -1.5 -0.77 -1.34 -1.06 -1.06 C -1.34 -0.77 -1.5 -0.39 -1.5 0 C -1.5 0.39 -1.34 0.77 -1.06 1.06 C -0.77 1.34 -0.39 1.5 0 1.5 z" transform="translate(265.37 635.34)" style="fill: #ff0000; stroke: #ff0000"/>
     <path d="M 0 1.5 C 0.39 1.5 0.77 1.34 1.06 1.06 C 1.34 0.77 1.5 0.39 1.5 0 C 1.5 -0.39 1.34 -0.77 1.06 -1.06 C 0.77 -1.34 0.39 -1.5 0 -1.5 C -0.39 -1.5 -0.77 -1.34 -1.06 -1.06 C -1.34 -0.77 -1.5 -0.39 -1.5 0 C -1.5 0.39 -1.34 0.77 -1.06 1.06 C -0.77 1.34 -0.39 1.5 0 1.5 z" transform="translate(289.53 632.36)" style="fill: #ff0000; stroke: #ff0000"/>
     <path d="M 0 1.5 C 0.39 1.5 0.77 1.34 1.06 1.06 C 1.34 0.77 1.5 0.39 1.5 0 C 1.5 -0.39 1.34 -0.77 1.06 -1.06 C 0.77 -1.34 0.39 -1.5 0 -1.5 C -0.39 -1.5 -0.77 -1.34 -1.06 -1.06 C -1.34 -0.77 -1.5 -0.39 -1.5 0 C -1.5 0.39 -1.34 0.77 -1.06 1.06 C -0.77 1.34 -0.39 1.5 0 1.5 z" transform="translate(313.70 628.64)" style="fill: #ff0000; stroke: #ff0000"/>
     <path d="M 0 1.5 C 0.39 1.5 0.77 1.34 1.06 1.06 C 1.34 0.77 1.5 0.39 1.5 0 C 1.5 -0.39 1.34 -0.77 1.06 -1.06 C 0.77 -1.34 0.39 -1.5 0 -1.5 C -0.39 -1.5 -0.77 -1.34 -1.06 -1.06 C -1.34 -0.77 -1.5 -0.39 -1.5 0 C -1.5 0.39 -1.34 0.77 -1.06 1.06 C -0.77 1.34 -0.39 1.5 0 1.5 z" transform="translate(337.87 626.65)" style="fill: #ff0000; stroke: #ff0000"/>
     <path d="M 0 1.5 C 0.39 1.5 0.77 1.34 1.06 1.06 C 1.34 0.77 1.5 0.39 1.5 0 C 1.5 -0.39 1.34 -0.77 1.06 -1.06 C 0.77 -1.34 0.39 -1.5 0 -1.5 C -0.39 -1.5 -0.77 -1.34 -1.06 -1.06 C -1.34 -0.77 -1.5 -0.39 -1.5 0 C -1.5 0.39 -1.34 0.77 -1.06 1.06 C -0.77 1.34 -0.39 1.5 0 1.5 z" transform="translate(362.03 623.67)" style="fill: #ff0000; stroke: #ff0000"/>
     <path d="M 0 1.5 C 0.39 1.5 0.77 1.34 1.06 1.06 C 1.34 0.77 1.5 0.39 1.5 0 C 1.5 -0.39 1.34 -0.77 1.06 -1.06 C 0.77 -1.34 0.39 -1.5 0 -1.5 C -0.39 -1.5 -0.77 -1.34 -1.06 -1.06 C -1.34 -0.77 -1.5 -0.39 -1.5 0 C -1.5 0.39 -1.34 0.77 -1.06 1.06 C -0.77 1.34 -0.39 1.5 0 1.5 z" transform="translate(386.20 621.44)" style="fill: #ff0000; stroke: #ff0000"/>
     <path d="M 0 1.5 C 0.39 1.5 0.77 1.34 1.06 1.06 C 1.34 0.77 1.5 0.39 1.5 0 C 1.5 -0.39 1.34 -0.77 1.06 -1.06 C 0.77 -1.34 0.39 -1.5 0 -1.5 C -0.39 -1.5 -0.77 -1.34 -1.06 -1.06 C -1.34 -0.77 -1.5 -0.39 -1.5 0 C -1.5 0.39 -1.34 0.77 -1.06 1.06 C -0.77 1.34 -0.39 1.5 0 1.5 z" transform="translate(410.37 618.96)" style="fill: #ff0000; stroke: #ff0000"/>
     <path d="M 0 1.5 C 0.39 1.5 0.77 1.34 1.06 1.06 C 1.34 0.77 1.5 0.39 1.5 0 C 1.5 -0.39 1.34 -0.77 1.06 -1.06 C 0.77 -1.34 0.39 -1.5 0 -1.5 C -0.39 -1.5 -0.77 -1.34 -1.06 -1.06 C -1.34 -0.77 -1.5 -0.39 -1.5 0 C -1.5 0.39 -1.34 0.77 -1.06 1.06 C -0.77 1.34 -0.39 1.5 0 1.5 z" transform="translate(434.53 614.99)" style="fill: #ff0000; stroke: #ff0000"/>
     <path d="M 0 1.5 C 0.39 1.5 0.77 1.34 1.06 1.06 C 1.34 0.77 1.5 0.39 1.5 0 C 1.5 -0.39 1.34 -0.77 1.06 -1.06 C 0.77 -1.34 0.39 -1.5 0 -1.5 C -0.39 -1.5 -0.77 -1.34 -1.06 -1.06 C -1.34 -0.77 -1.5 -0.39 -1.5 0 C -1.5 0.39 -1.34 0.77 -1.06 1.06 C -0.77 1.34 -0.39 1.5 0 1.5 z" transform="translate(458.70 613.75)" style="fill: #ff0000; stroke: #ff0000"/>
     <path d="M 0 1.5 C 0.39 1.5 0.77 1.34 1.06 1.06 C 1.34 0.77 1.5 0.39 1.5 0 C 1.5 -0.39 1.34 -0.77 1.06 -1.06 C 0.77 -1.34 0.39 -1.5 0 -1.5 C -0.39 -1.5 -0.77 -1.34 -1.06 -1.06 C -1.34 -0.77 -1.5 -0.39 -1.5 0 C -1.5 0.39 -1.34 0.77 -1.06 1.06 C -0.77 1.34 -0.39 1.5 0 1.5 z" transform="translate(482.87 611.51)" style="fill: #ff0000; stroke: #ff0000"/>
     <path d="M 0 1.5 C 0.39 1.5 0.77 1.34 1.06 1.06 C 1.34 0.77 1.5 0.39 1.5 0 C 1.5 -0.39 1.34 -0.77 1.06 -1.06 C 0.77 -1.34 0.39 -1.5 0 -1.5 C -0.39 -1.5 -0.77 -1.34 -1.06 -1.06 C -1.34 -0.77 -1.5 -0.39 -1.5 0 C -1.5 0.39 -1.34 0.77 -1.06 1.06 C -0.77 1.34 -0.39 1.5 0 1.5 z" transform="translate(507.03 610.02)" style="fill: #ff0000; stroke: #ff0000"/>
     <path d="M 0 1.5 C 0.39 1.5 0.77 1.34 1.06 1.06 C 1.34 0.77 1.5 0.39 1.5 0 C 1.5 -0.39 1.34 -0.77 1.06 -1.06 C 0.77 -1.34 0.39 -1.5 0 -1.5 C -0.39 -1.5 -0.77 -1.34 -1.06 -1.06 C -1.34 -0.77 -1.5 -0.39 -1.5 0 C -1.5 0.39 -1.34 0.77 -1.06 1.06 C -0.77 1.34 -0.39 1.5 0 1.5 z" transform="translate(531.20 608.78)" style="fill: #ff0000; stroke: #ff0000"/>
     <path d="M 0 1.5 C 0.39 1.5 0.77 1.34 1.06 1.06 C 1.34 0.77 1.5 0.39 1.5 0 C 1.5 -0.39 1.34 -0.77 1.06 -1.06 C 0.77 -1.34 0.39 -1.5 0 -1.5 C -0.39 -1.5 -0.77 -1.34 -1.06 -1.06 C -1.34 -0.77 -1.5 -0.39 -1.5 0 C -1.5 0.39 -1.34 0.77 -1.06 1.06 C -0.77 1.34 -0.39 1.5 0 1.5 z" transform="translate(555.37 607.79)" style="fill: #ff0000; stroke: #ff0000"/>
     <path d="M 0 1.5 C 0.39 1.5 0.77 1.34 1.06 1.06 C 1.34 0.77 1.5 0.39 1.5 0 C 1.5 -0.39 1.34 -0.77 1.06 -1.06 C 0.77 -1.34 0.39 -1.5 0 -1.5 C -0.39 -1.5 -0.77 -1.34 -1.06 -1.06 C -1.34 -0.77 -1.5 -0.39 -1.5 0 C -1.5 0.39 -1.34 0.77 -1.06 1.06 C -0.77 1.34 -0.39 1.5 0 1.5 z" transform="translate(579.53 607.29)" style="fill: #ff0000; stroke: #ff0000"/>
     <path d="M 0 1.5 C 0.39 1.5 0.77 1.34 1.06 1.06 C 1.34 0.77 1.5 0.39 1.5 0 C 1.5 -0.39 1.34 -0.77 1.06 -1.06 C 0.77 -1.34 0.39 -1.5 0 -1.5 C -0.39 -1.5 -0.77 -1.34 -1.06 -1.06 C -1.34 -0.77 -1.5 -0.39 -1.5 0 C -1.5 0.39 -1.34 0.77 -1.06 1.06 C -0.77 1.34 -0.39 1.5 0 1.5 z" transform="translate(603.70 606.55)" style="fill: #ff0000; stroke: #ff0000"/>
     <path d="M 0 1.5 C 0.39 1.5 0.77 1.34 1.06 1.06 C 1.34 0.77 1.5 0.39 1.5 0 C 1.5 -0.39 1.34 -0.77 1.06 -1.06 C 0.77 -1.34 0.39 -1.5 0 -1.5 C -0.39 -1.5 -0.77 -1.34 -1.06 -1.06 C -1.34 -0.77 -1.5 -0.39 -1.5 0 C -1.5 0.39 -1.34 0.77 -1.06 1.06 C -0.77 1.34 -0.39 1.5 0 1.5 z" transform="translate(627.87 605.55)" style="fill: #ff0000; stroke: #ff0000"/>
     <path d="M 0 1.5 C 0.39 1.5 0.77 1.34 1.06 1.06 C 1.34 0.77 1.5 0.39 1.5 0 C 1.5 -0.39 1.34 -0.77 1.06 -1.06 C 0.77 -1.34 0.39 -1.5 0 -1.5 C -0.39 -1.5 -0.77 -1.34 -1.06 -1.06 C -1.34 -0.77 -1.5 -0.39 -1.5 0 C -1.5 0.39 -1.34 0.77 -1.06 1.06 C -0.77 1.34 -0.39 1.5 0 1.5 z" transform="translate(652.03 605.06)" style="fill: #ff0000; stroke: #ff0000"/>
     <path d="M 0 1.5 C 0.39 1.5 0.77 1.34 1.06 1.06 C 1.34 0.77 1.5 0.39 1.5 0 C 1.5 -0.39 1.34 -0.77 1.06 -1.06 C 0.77 -1.34 0.39 -1.5 0 -1.5 C -0.39 -1.5 -0.77 -1.34 -1.06 -1.06 C -1.34 -0.77 -1.5 -0.39 -1.5 0 C -1.5 0.39 -1.34 0.77 -1.06 1.06 C -0.77 1.34 -0.39 1.5 0 1.5 z" transform="translate(676.20 604.31)" style="fill: #ff0000; stroke: #ff0000"/>
     <path d="M 0 1.5 C 0.39 1.5 0.77 1.34 1.06 1.06 C 1.34 0.77 1.5 0.39 1.5 0 C 1.5 -0.39 1.34 -0.77 1.06 -1.06 C 0.77 -1.34 0.39 -1.5 0 -1.5 C -0.39 -1.5 -0.77 -1.34 -1.06 -1.06 C -1.34 -0.77 -1.5 -0.39 -1.5 0 C -1.5 0.39 -1.34 0.77 -1.06 1.06 C -0.77 1.34 -0.39 1.5 0 1.5 z" transform="translate(700.37 605.06)" style="fill: #ff0000; stroke: #ff0000"/>
     <path d="M 0 1.5 C 0.39 1.5 0.77 1.34 1.06 1.06 C 1.34 0.77 1.5 0.39 1.5 0 C 1.5 -0.39 1.34 -0.77 1.06 -1.06 C 0.77 -1.34 0.39 -1.5 0 -1.5 C -0.39 -1.5 -0.77 -1.34 -1.06 -1.06 C -1.34 -0.77 -1.5 -0.39 -1.5 0 C -1.5 0.39 -1.34 0.77 -1.06 1.06 C -0.77 1.34 -0.39 1.5 0 1.5 z" transform="translate(724.53 605.80)" style="fill: #ff0000; stroke: #ff0000"/>
    </g>
   </g>
   <g id="crisp145" transform="translate(0.36 0.36)">
    <path d="M 54 668.88 L 54 591.84" style="fill: none; stroke: #000000; stroke-width: 0.735; stroke-linejoin: miter; stroke-linecap: square"/>
   </g>
   <g id="crisp146" transform="translate(0.36 0.36)">
    <path d="M 742.32 668.88 L 742.32 591.84" style="fill: none; stroke: #000000; stroke-width: 0.735; stroke-linejoin: miter; stroke-linecap: square"/>
   </g>
   <g id="crisp147" transform="translate(0.36 0.36)">
    <path d="M 54 668.88 L 742.32 668.88" style="fill: none; stroke: #000000; stroke-width: 0.735; stroke-linejoin: miter; stroke-linecap: square"/>
   </g>
   <g id="crisp148" transform="translate(0.36 0.36)">
    <path d="M 54 591.84 L 742.32 591.84" style="fill: none; stroke: #000000; stroke-width: 0.735; stroke-linejoin: miter; stroke-linecap: square"/>
   </g>
  </g>
  <g id="axes_6">
   <g id="patch_8">
    <path d="M 54 760.82 L 742.32 760.82 L 742.32 684.02 L 54 684.02 z" style="fill: #ffffff"/>
   </g>
   <g id="crisp256">
    <path d="M 60.94 760.82 L 83.12 760.82 L 83.12 760.82 L 60.94 760.82 z" clip-path="url(#p1ff0ea9c2f)" style="fill: #00bfbf"/>
   </g>
   <g id="crisp257">
    <path d="M 85.11 760.82 L 107.29 760.82 L 107.29 760.29 L 85.11 760.29 z" clip-path="url(#p1ff0ea9c2f)" style="fill: #00bfbf"/>
   </g>
   <g id="crisp258">
    <path d="M 109.27 760.82 L 131.46 760.82 L 131.46 756.07 L 109.27 756.07 z" clip-path="url(#p1ff0ea9c2f)" style="fill: #00bfbf"/>
   </g>
   <g id="crisp259">
    <path d="M 133.44 760.82 L 155.62 760.82 L 155.62 724.76 L 133.44 724.76 z" clip-path="url(#p1ff0ea9c2f)" style="fill: #00bfbf"/>
   </g>
   <g id="crisp260">
    <path d="M 157.61 760.82 L 179.79 760.82 L 179.79 746.66 L 157.61 746.66 z" clip-path="url(#p1ff0ea9c2f)" style="fill: #00bfbf"/>
   </g>
   <g id="crisp261">
    <path d="M 181.77 760.82 L 203.96 760.82 L 203.96 732.83 L 181.77 732.83 z" clip-path="url(#p1ff0ea9c2f)" style="fill: #00bfbf"/>
   </g>
   <g id="crisp262">
    <path d="M 205.94 760.82 L 228.12 760.82 L 228.12 743.01 L 205.94 743.01 z" clip-path="url(#p1ff0ea9c2f)" style="fill: #00bfbf"/>
   </g>
   <g id="crisp263">
    <path d="M 230.11 760.82 L 252.29 760.82 L 252.29 748.19 L 230.11 748.19 z" clip-path="url(#p1ff0ea9c2f)" style="fill: #00bfbf"/>
   </g>
   <g id="crisp264">
    <path d="M 254.27 760.82 L 276.46 760.82 L 276.46 758.37 L 254.27 758.37 z" clip-path="url(#p1ff0ea9c2f)" style="fill: #00bfbf"/>
   </g>
   <g id="crisp265">
    <path d="M 278.44 760.82 L 300.62 760.82 L 300.62 746.08 L 278.44 746.08 z" clip-path="url(#p1ff0ea9c2f)" style="fill: #00bfbf"/>
   </g>
   <g id="crisp266">
    <path d="M 302.61 760.82 L 324.79 760.82 L 324.79 751.07 L 302.61 751.07 z" clip-path="url(#p1ff0ea9c2f)" style="fill: #00bfbf"/>
   </g>
   <g id="crisp267">
    <path d="M 326.77 760.82 L 348.96 760.82 L 348.96 750.30 L 326.77 750.30 z" clip-path="url(#p1ff0ea9c2f)" style="fill: #00bfbf"/>
   </g>
   <g id="crisp268">
    <path d="M 350.94 760.82 L 373.13 760.82 L 373.13 751.84 L 350.94 751.84 z" clip-path="url(#p1ff0ea9c2f)" style="fill: #00bfbf"/>
   </g>
   <g id="crisp269">
    <path d="M 375.11 760.82 L 397.29 760.82 L 397.29 757.60 L 375.11 757.60 z" clip-path="url(#p1ff0ea9c2f)" style="fill: #00bfbf"/>
   </g>
   <g id="crisp270">
    <path d="M 399.27 760.82 L 421.46 760.82 L 421.46 758.37 L 399.27 758.37 z" clip-path="url(#p1ff0ea9c2f)" style="fill: #00bfbf"/>
   </g>
   <g id="crisp271">
    <path d="M 423.44 760.82 L 445.63 760.82 L 445.63 758.95 L 423.44 758.95 z" clip-path="url(#p1ff0ea9c2f)" style="fill: #00bfbf"/>
   </g>
   <g id="crisp272">
    <path d="M 447.61 760.82 L 469.79 760.82 L 469.79 760.48 L 447.61 760.48 z" clip-path="url(#p1ff0ea9c2f)" style="fill: #00bfbf"/>
   </g>
   <g id="crisp273">
    <path d="M 471.77 760.82 L 493.96 760.82 L 493.96 760.82 L 471.77 760.82 z" clip-path="url(#p1ff0ea9c2f)" style="fill: #00bfbf"/>
   </g>
   <g id="crisp274">
    <path d="M 495.94 760.82 L 518.13 760.82 L 518.13 760.82 L 495.94 760.82 z" clip-path="url(#p1ff0ea9c2f)" style="fill: #00bfbf"/>
   </g>
   <g id="crisp275">
    <path d="M 520.11 760.82 L 542.29 760.82 L 542.29 760.82 L 520.11 760.82 z" clip-path="url(#p1ff0ea9c2f)" style="fill: #00bfbf"/>
   </g>
   <g id="crisp276">
    <path d="M 544.27 760.82 L 566.46 760.82 L 566.46 760.67 L 544.27 760.67 z" clip-path="url(#p1ff0ea9c2f)" style="fill: #00bfbf"/>
   </g>
   <g id="crisp277">
    <path d="M 568.44 760.82 L 590.63 760.82 L 590.63 760.67 L 568.44 760.67 z" clip-path="url(#p1ff0ea9c2f)" style="fill: #00bfbf"/>
   </g>
   <g id="crisp278">
    <path d="M 592.61 760.82 L 614.79 760.82 L 614.79 760.82 L 592.61 760.82 z" clip-path="url(#p1ff0ea9c2f)" style="fill: #00bfbf"/>
   </g>
   <g id="crisp279">
    <path d="M 616.77 760.82 L 638.96 760.82 L 638.96 760.82 L 616.77 760.82 z" clip-path="url(#p1ff0ea9c2f)" style="fill: #00bfbf"/>
   </g>
   <g id="crisp280">
    <path d="M 640.94 760.82 L 663.13 760.82 L 663.13 760.82 L 640.94 760.82 z" clip-path="url(#p1ff0ea9c2f)" style="fill: #00bfbf"/>
   </g>
   <g id="crisp281">
    <path d="M 665.11 760.82 L 687.29 760.82 L 687.29 760.82 L 665.11 760.82 z" clip-path="url(#p1ff0ea9c2f)" style="fill: #00bfbf"/>
   </g>
   <g id="crisp282">
    <path d="M 689.28 760.82 L 711.46 760.82 L 711.46 760.82 L 689.28 760.82 z" clip-path="url(#p1ff0ea9c2f)" style="fill: #00bfbf"/>
   </g>
   <g id="crisp283">
    <path d="M 713.44 760.82 L 735.63 760.82 L 735.63 760.82 L 713.44 760.82 z" clip-path="url(#p1ff0ea9c2f)" style="fill: #00bfbf"/>
   </g>
   <g id="crisp284">
    <path d="M 60.94 760.82 L 83.12 760.82 L 83.12 760.82 L 60.94 760.82 z" clip-path="url(#p1ff0ea9c2f)" style="fill: #ff00ff"/>
   </g>
   <g id="crisp285">
    <path d="M 85.11 760.82 L 107.29 760.82 L 107.29 760.82 L 85.11 760.82 z" clip-path="url(#p1ff0ea9c2f)" style="fill: #ff00ff"/>
   </g>
   <g id="crisp286">
    <path d="M 109.27 760.82 L 131.46 760.82 L 131.46 760.82 L 109.27 760.82 z" clip-path="url(#p1ff0ea9c2f)" style="fill: #ff00ff"/>
   </g>
   <g id="crisp287">
    <path d="M 133.44 760.82 L 155.62 760.82 L 155.62 760.82 L 133.44 760.82 z" clip-path="url(#p1ff0ea9c2f)" style="fill: #ff00ff"/>
   </g>
   <g id="crisp288">
    <path d="M 157.61 760.82 L 179.79 760.82 L 179.79 760.82 L 157.61 760.82 z" clip-path="url(#p1ff0ea9c2f)" style="fill: #ff00ff"/>
   </g>
   <g id="crisp289">
    <path d="M 181.77 760.82 L 203.96 760.82 L 203.96 760.82 L 181.77 760.82 z" clip-path="url(#p1ff0ea9c2f)" style="fill: #ff00ff"/>
   </g>
   <g id="crisp290">
    <path d="M 205.94 760.82 L 228.12 760.82 L 228.12 760.82 L 205.94 760.82 z" clip-path="url(#p1ff0ea9c2f)" style="fill: #ff00ff"/>
   </g>
   <g id="crisp291">
    <path d="M 230.11 760.82 L 252.29 760.82 L 252.29 760.82 L 230.11 760.82 z" clip-path="url(#p1ff0ea9c2f)" style="fill: #ff00ff"/>
   </g>
   <g id="crisp292">
    <path d="M 254.27 760.82 L 276.46 760.82 L 276.46 760.82 L 254.27 760.82 z" clip-path="url(#p1ff0ea9c2f)" style="fill: #ff00ff"/>
   </g>
   <g id="crisp293">
    <path d="M 278.44 760.82 L 300.62 760.82 L 300.62 760.82 L 278.44 760.82 z" clip-path="url(#p1ff0ea9c2f)" style="fill: #ff00ff"/>
   </g>
   <g id="crisp294">
    <path d="M 302.61 760.82 L 324.79 760.82 L 324.79 760.82 L 302.61 760.82 z" clip-path="url(#p1ff0ea9c2f)" style="fill: #ff00ff"/>
   </g>
   <g id="crisp295">
    <path d="M 326.77 760.82 L 348.96 760.82 L 348.96 760.82 L 326.77 760.82 z" clip-path="url(#p1ff0ea9c2f)" style="fill: #ff00ff"/>
   </g>
   <g id="crisp296">
    <path d="M 350.94 760.82 L 373.13 760.82 L 373.13 760.82 L 350.94 760.82 z" clip-path="url(#p1ff0ea9c2f)" style="fill: #ff00ff"/>
   </g>
   <g id="crisp297">
    <path d="M 375.11 760.82 L 397.29 760.82 L 397.29 760.82 L 375.11 760.82 z" clip-path="url(#p1ff0ea9c2f)" style="fill: #ff00ff"/>
   </g>
   <g id="crisp298">
    <path d="M 399.27 760.82 L 421.46 760.82 L 421.46 760.82 L 399.27 760.82 z" clip-path="url(#p1ff0ea9c2f)" style="fill: #ff00ff"/>
   </g>
   <g id="crisp299">
    <path d="M 423.44 760.82 L 445.63 760.82 L 445.63 760.29 L 423.44 760.29 z" clip-path="url(#p1ff0ea9c2f)" style="fill: #ff00ff"/>
   </g>
   <g id="crisp300">
    <path d="M 447.61 760.82 L 469.79 760.82 L 469.79 760.29 L 447.61 760.29 z" clip-path="url(#p1ff0ea9c2f)" style="fill: #ff00ff"/>
   </g>
   <g id="crisp301">
    <path d="M 471.77 760.82 L 493.96 760.82 L 493.96 760.82 L 471.77 760.82 z" clip-path="url(#p1ff0ea9c2f)" style="fill: #ff00ff"/>
   </g>
   <g id="crisp302">
    <path d="M 495.94 760.82 L 518.13 760.82 L 518.13 760.82 L 495.94 760.82 z" clip-path="url(#p1ff0ea9c2f)" style="fill: #ff00ff"/>
   </g>
   <g id="crisp303">
    <path d="M 520.11 760.82 L 542.29 760.82 L 542.29 760.82 L 520.11 760.82 z" clip-path="url(#p1ff0ea9c2f)" style="fill: #ff00ff"/>
   </g>
   <g id="crisp304">
    <path d="M 544.27 760.82 L 566.46 760.82 L 566.46 760.82 L 544.27 760.82 z" clip-path="url(#p1ff0ea9c2f)" style="fill: #ff00ff"/>
   </g>
   <g id="crisp305">
    <path d="M 568.44 760.82 L 590.63 760.82 L 590.63 760.82 L 568.44 760.82 z" clip-path="url(#p1ff0ea9c2f)" style="fill: #ff00ff"/>
   </g>
   <g id="crisp306">
    <path d="M 592.61 760.82 L 614.79 760.82 L 614.79 760.82 L 592.61 760.82 z" clip-path="url(#p1ff0ea9c2f)" style="fill: #ff00ff"/>
   </g>
   <g id="crisp307">
    <path d="M 616.77 760.82 L 638.96 760.82 L 638.96 760.82 L 616.77 760.82 z" clip-path="url(#p1ff0ea9c2f)" style="fill: #ff00ff"/>
   </g>
   <g id="crisp308">
    <path d="M 640.94 760.82 L 663.13 760.82 L 663.13 760.82 L 640.94 760.82 z" clip-path="url(#p1ff0ea9c2f)" style="fill: #ff00ff"/>
   </g>
   <g id="crisp309">
    <path d="M 665.11 760.82 L 687.29 760.82 L 687.29 760.82 L 665.11 760.82 z" clip-path="url(#p1ff0ea9c2f)" style="fill: #ff00ff"/>
   </g>
   <g id="crisp310">
    <path d="M 689.28 760.82 L 711.46 760.82 L 711.46 760.82 L 689.28 760.82 z" clip-path="url(#p1ff0ea9c2f)" style="fill: #ff00ff"/>
   </g>
   <g id="crisp311">
    <path d="M 713.44 760.82 L 735.63 760.82 L 735.63 760.82 L 713.44 760.82 z" clip-path="url(#p1ff0ea9c2f)" style="fill: #ff00ff"/>
   </g>
   <g id="matplotlib.axis_11">
    <g id="xtick_41">
     <g id="crisp189" transform="translate(0.36 0.36)">
      <g>
       <path d="M 0 0 L 0 3.9" transform="translate(217.03 760.82)" style="stroke: #000000; stroke-width: 0.735"/>
      </g>
     </g>
     <g id="text_100">
      <text style="font-size: 10px; font-family: 'DejaVu Sans', 'Liberation Sans', sans-serif; text-anchor: middle" x="217.03" y="774.77" transform="rotate(-0 217.03 774.77)">12 UTC</text>
     </g>
    </g>
    <g id="xtick_42">
     <g id="crisp192" transform="translate(0.36 0.36)">
      <g>
       <path d="M 0 0 L 0 3.9" transform="translate(507.03 760.82)" style="stroke: #000000; stroke-width: 0.735"/>
      </g>
     </g>
     <g id="text_101">
      <text style="font-size: 10px; font-family: 'DejaVu Sans', 'Liberation Sans', sans-serif; text-anchor: middle" x="507.03" y="774.77" transform="rotate(-0 507.03 774.77)">00 UTC</text>
     </g>
    </g>
    <g id="xtick_43">
     <g id="crisp195" transform="translate(0.36 0.36)">
      <g>
       <path d="M 0 0 L 0 2.6" transform="translate(72.03 760.82)" style="stroke: #000000; stroke-width: 0.735"/>
      </g>
     </g>
     <g id="text_102">
      <text style="font-size: 10px; font-family: 'DejaVu Sans', 'Liberation Sans', sans-serif; text-anchor: middle" x="72.03" y="773.82" transform="rotate(-0 72.03 773.82)">06 UTC</text>
     </g>
    </g>
    <g id="xtick_44">
     <g id="crisp198" transform="translate(0.36 0.36)">
      <g>
       <path d="M 0 0 L 0 2.6" transform="translate(144.53 760.82)" style="stroke: #000000; stroke-width: 0.735"/>
      </g>
     </g>
     <g id="text_103">
      <text style="font-size: 10px; font-family: 'DejaVu Sans', 'Liberation Sans', sans-serif; text-anchor: middle" x="144.53" y="773.82" transform="rotate(-0 144.53 773.82)">09 UTC</text>
     </g>
    </g>
    <g id="xtick_45">
     <g id="crisp201" transform="translate(0.36 0.36)">
      <g>
       <path d="M 0 0 L 0 2.6" transform="translate(289.53 760.82)" style="stroke: #000000; stroke-width: 0.735"/>
      </g>
     </g>
     <g id="text_104">
      <text style="font-size: 10px; font-family: 'DejaVu Sans', 'Liberation Sans', sans-serif; text-anchor: middle" x="289.53" y="773.82" transform="rotate(-0 289.53 773.82)">15 UTC</text>
     </g>
    </g>
    <g id="xtick_46">
     <g id="crisp204" transform="translate(0.36 0.36)">
      <g>
       <path d="M 0 0 L 0 2.6" transform="translate(362.03 760.82)" style="stroke: #000000; stroke-width: 0.735"/>
      </g>
     </g>
     <g id="text_105">
      <text style="font-size: 10px; font-family: 'DejaVu Sans', 'Liberation Sans', sans-serif; text-anchor: middle" x="362.03" y="773.82" transform="rotate(-0 362.03 773.82)">18 UTC</text>
     </g>
    </g>
    <g id="xtick_47">
     <g id="crisp207" transform="translate(0.36 0.36)">
      <g>
       <path d="M 0 0 L 0 2.6" transform="translate(434.53 760.82)" style="stroke: #000000; stroke-width: 0.735"/>
      </g>
     </g>
     <g id="text_106">
      <text style="font-size: 10px; font-family: 'DejaVu Sans', 'Liberation Sans', sans-serif; text-anchor: middle" x="434.53" y="773.82" transform="rotate(-0 434.53 773.82)">21 UTC</text>
     </g>
    </g>
    <g id="xtick_48">
     <g id="crisp210" transform="translate(0.36 0.36)">
      <g>
       <path d="M 0 0 L 0 2.6" transform="translate(579.53 760.82)" style="stroke: #000000; stroke-width: 0.735"/>
      </g>
     </g>
     <g id="text_107">
      <text style="font-size: 10px; font-family: 'DejaVu Sans', 'Liberation Sans', sans-serif; text-anchor: middle" x="579.53" y="773.82" transform="rotate(-0 579.53 773.82)">03 UTC</text>
     </g>
    </g>
    <g id="xtick_49">
     <g id="crisp213" transform="translate(0.36 0.36)">
      <g>
       <path d="M 0 0 L 0 2.6" transform="translate(652.03 760.82)" style="stroke: #000000; stroke-width: 0.735"/>
      </g>
     </g>
     <g id="text_108">
      <text style="font-size: 10px; font-family: 'DejaVu Sans', 'Liberation Sans', sans-serif; text-anchor: middle" x="652.03" y="773.82" transform="rotate(-0 652.03 773.82)">06 UTC</text>
     </g>
    </g>
    <g id="xtick_50">
     <g id="crisp216" transform="translate(0.36 0.36)">
      <g>
       <path d="M 0 0 L 0 2.6" transform="translate(724.53 760.82)" style="stroke: #000000; stroke-width: 0.735"/>
      </g>
     </g>
     <g id="text_109">
      <text style="font-size: 10px; font-family: 'DejaVu Sans', 'Liberation Sans', sans-serif; text-anchor: middle" x="724.53" y="773.82" transform="rotate(-0 724.53 773.82)">09 UTC</text>
     </g>
    </g>
   </g>
   <g id="matplotlib.axis_12">
    <g id="ytick_23">
     <g id="crisp221" transform="translate(0.36 0.36)">
      <path d="M 54 760.82 L 742.32 760.82" clip-path="url(#p1ff0ea9c2f)" style="fill: none; stroke: #b0b0b0; stroke-width: 0.735; stroke-linecap: square"/>
     </g>
     <g id="crisp219" transform="translate(0.36 0.36)">
      <g>
       <path d="M 0 0 L -3.9 0" transform="translate(54 760.82)" style="stroke: #000000; stroke-width: 0.735"/>
      </g>
     </g>
     <g id="text_110">
      <text style="font-size: 10px; font-family: 'DejaVu Sans', 'Liberation Sans', sans-serif; text-anchor: end" x="46.41" y="764.62" transform="rotate(-0 46.41 764.62)">0</text>
     </g>
    </g>
    <g id="ytick_24">
     <g id="crisp224" transform="translate(0.36 0.36)">
      <path d="M 54 741.62 L 742.32 741.62" clip-path="url(#p1ff0ea9c2f)" style="fill: none; stroke: #b0b0b0; stroke-width: 0.735; stroke-linecap: square"/>
     </g>
     <g id="crisp222" transform="translate(0.36 0.36)">
      <g>
       <path d="M 0 0 L -3.9 0" transform="translate(54 741.62)" style="stroke: #000000; stroke-width: 0.735"/>
      </g>
     </g>
     <g id="text_111">
      <text style="font-size: 10px; font-family: 'DejaVu Sans', 'Liberation Sans', sans-serif; text-anchor: end" x="46.41" y="745.42" transform="rotate(-0 46.41 745.42)">1</text>
     </g>
    </g>
    <g id="ytick_25">
     <g id="crisp227" transform="translate(0.36 0.36)">
      <path d="M 54 722.42 L 742.32 722.42" clip-path="url(#p1ff0ea9c2f)" style="fill: none; stroke: #b0b0b0; stroke-width: 0.735; stroke-linecap: square"/>
     </g>
     <g id="crisp225" transform="translate(0.36 0.36)">
      <g>
       <path d="M 0 0 L -3.9 0" transform="translate(54 722.42)" style="stroke: #000000; stroke-width: 0.735"/>
      </g>
     </g>
     <g id="text_112">
      <text style="font-size: 10px; font-family: 'DejaVu Sans', 'Liberation Sans', sans-serif; text-anchor: end" x="46.41" y="726.22" transform="rotate(-0 46.41 726.22)">2</text>
     </g>
    </g>
    <g id="ytick_26">
     <g id="crisp230" transform="translate(0.36 0.36)">
      <path d="M 54 703.22 L 742.32 703.22" clip-path="url(#p1ff0ea9c2f)" style="fill: none; stroke: #b0b0b0; stroke-width: 0.735; stroke-linecap: square"/>
     </g>
     <g id="crisp228" transform="translate(0.36 0.36)">
      <g>
       <path d="M 0 0 L -3.9 0" transform="translate(54 703.22)" style="stroke: #000000; stroke-width: 0.735"/>
      </g>
     </g>
     <g id="text_113">
      <text style="font-size: 10px; font-family: 'DejaVu Sans', 'Liberation Sans', sans-serif; text-anchor: end" x="46.41" y="707.02" transform="rotate(-0 46.41 707.02)">3</text>
     </g>
    </g>
    <g id="ytick_27">
     <g id="crisp233" transform="translate(0.36 0.36)">
      <path d="M 54 684.02 L 742.32 684.02" clip-path="url(#p1ff0ea9c2f)" style="fill: none; stroke: #b0b0b0; stroke-width: 0.735; stroke-linecap: square"/>
     </g>
     <g id="crisp231" transform="translate(0.36 0.36)">
      <g>
       <path d="M 0 0 L -3.9 0" transform="translate(54 684.02)" style="stroke: #000000; stroke-width: 0.735"/>
      </g>
     </g>
     <g id="text_114">
      <text style="font-size: 10px; font-family: 'DejaVu Sans', 'Liberation Sans', sans-serif; text-anchor: end" x="46.41" y="687.82" transform="rotate(-0 46.41 687.82)">4</text>
     </g>
    </g>
    <g id="text_115">
     <text style="font-size: 10px; font-family: 'DejaVu Sans', 'Liberation Sans', sans-serif; text-anchor: middle" x="33.94" y="722.92" transform="rotate(-90 33.94 722.92)">precipitation [mm/h]</text>
    </g>
   </g>
   <g id="line2d_49">
    <path d="M 72.03 760.82 L 72.03 684.02" clip-path="url(#p1ff0ea9c2f)" style="fill: none; stroke-dasharray: 0.5,0.825; stroke-dashoffset: 0; stroke: #a6a6a6; stroke-width: 0.5"/>
   </g>
   <g id="line2d_50">
    <path d="M 217.03 760.82 L 217.03 684.02" clip-path="url(#p1ff0ea9c2f)" style="fill: none; stroke-dasharray: 0.5,0.825; stroke-dashoffset: 0; stroke: #a6a6a6; stroke-width: 0.5"/>
   </g>
   <g id="line2d_51">
    <path d="M 362.03 760.82 L 362.03 684.02" clip-path="url(#p1ff0ea9c2f)" style="fill: none; stroke-dasharray: 0.5,0.825; stroke-dashoffset: 0; stroke: #a6a6a6; stroke-width: 0.5"/>
   </g>
   <g id="line2d_52">
    <path d="M 652.03 760.82 L 652.03 684.02" clip-path="url(#p1ff0ea9c2f)" style="fill: none; stroke-dasharray: 0.5,0.825; stroke-dashoffset: 0; stroke: #a6a6a6; stroke-width: 0.5"/>
   </g>
   <g id="line2d_53">
    <path d="M 507.03 760.82 L 507.03 684.02" clip-path="url(#p1ff0ea9c2f)" style="fill: none; stroke-dasharray: 1.85,0.8; stroke-dashoffset: 0; stroke: #737373; stroke-width: 0.5"/>
   </g>
   <g id="crisp185" transform="translate(0.36 0.36)">
    <path d="M 54 760.82 L 54 684.02" style="fill: none; stroke: #000000; stroke-width: 0.735; stroke-linejoin: miter; stroke-linecap: square"/>
   </g>
   <g id="crisp186" transform="translate(0.36 0.36)">
    <path d="M 742.32 760.82 L 742.32 684.02" style="fill: none; stroke: #000000; stroke-width: 0.735; stroke-linejoin: miter; stroke-linecap: square"/>
   </g>
   <g id="crisp187" transform="translate(0.36 0.36)">
    <path d="M 54 760.82 L 742.32 760.82" style="fill: none; stroke: #000000; stroke-width: 0.735; stroke-linejoin: miter; stroke-linecap: square"/>
   </g>
   <g id="crisp188" transform="translate(0.36 0.36)">
    <path d="M 54 684.02 L 742.32 684.02" style="fill: none; stroke: #000000; stroke-width: 0.735; stroke-linejoin: miter; stroke-linecap: square"/>
   </g>
   <g id="legend_2">
    <g id="patch_9">
     <path d="M 610.51 702.91 L 736.48 702.91 Q 738.15 702.91 738.15 701.24 L 738.15 689.85 Q 738.15 688.18 736.48 688.18 L 610.51 688.18 Q 608.85 688.18 608.85 689.85 L 608.85 701.24 Q 608.85 702.91 610.51 702.91 z" style="fill: #ffffff; opacity: 0.8; stroke: #cccccc; stroke-linejoin: miter"/>
    </g>
    <g id="patch_10">
     <path d="M 612.18 697.84 L 628.84 697.84 L 628.84 692.01 L 612.18 692.01 z" style="fill: #00bfbf"/>
    </g>
    <g id="text_116">
     <text style="font-size: 8.33px; font-family: 'DejaVu Sans', 'Liberation Sans', sans-serif; text-anchor: start" x="635.50" y="697.84" transform="rotate(-0 635.50 697.84)">tot. prec.</text>
    </g>
    <g id="patch_11">
     <path d="M 689.97 697.84 L 706.63 697.84 L 706.63 692.01 L 689.97 692.01 z" style="fill: #ff00ff"/>
    </g>
    <g id="text_117">
     <text style="font-size: 8.33px; font-family: 'DejaVu Sans', 'Liberation Sans', sans-serif; text-anchor: start" x="713.29" y="697.84" transform="rotate(-0 713.29 697.84)">snow</text>
    </g>
   </g>
  </g>
  <g id="text_118">
   <text style="font-size: 10px; font-family: 'DejaVu Sans', 'Liberation Sans', sans-serif; text-anchor: middle" x="289.53" y="786.02" transform="rotate(-0 289.53 786.02)">Mon 17 Nov</text>
  </g>
  <g id="text_119">
   <text style="font-size: 10px; font-family: 'DejaVu Sans', 'Liberation Sans', sans-serif; text-anchor: middle" x="615.78" y="786.02" transform="rotate(-0 615.78 786.02)">Tue 18 Nov</text>
  </g>
  <g id="text_120">
   <text style="font-size: 17.28px; font-family: 'DejaVu Sans', 'Liberation Sans', sans-serif; text-anchor: start" x="71.42" y="20.59" transform="rotate(-0 71.42 20.59)">MIM Forecast (ICON-D2)</text>
  </g>
  <g id="text_121">
   <text style="font-size: 8.33px; font-family: 'DejaVu Sans', 'Liberation Sans', sans-serif; text-anchor: start" x="72.86" y="32.47" transform="rotate(-0 72.86 32.47)">Meteogram @11.57549, 48.13743</text>
  </g>
  <g id="text_122">
   <text style="font-size: 8.33px; font-family: 'DejaVu Sans', 'Liberation Sans', sans-serif; text-anchor: end" x="725.68" y="32.61" transform="rotate(-0 725.68 32.61)">COSMO-D2, 2025-11-17 06 UTC, Delta x = 2.2$ km</text>
  </g>
 </g>
 <defs>
  <clipPath id="p112c683f5e">
   <rect x="54" y="39.99" width="688.32" height="260.964"/>
  </clipPath>
  <clipPath id="p9b689d9d10">
   <rect x="748.8" y="39.99" width="30.24" height="260.964"/>
  </clipPath>
  <clipPath id="pc5c2949c8c">
   <rect x="54" y="316.08" width="688.32" height="168.48"/>
  </clipPath>
  <clipPath id="p3e424a0b65">
   <rect x="54" y="499.68" width="688.32" height="77.04"/>
  </clipPath>
  <clipPath id="p72d6617a4e">
   <rect x="54" y="591.84" width="688.32" height="77.04"/>
  </clipPath>
  <clipPath id="p1ff0ea9c2f">
   <rect x="54" y="684.02" width="688.32" height="76.8024"/>
  </clipPath>
 </defs>
</svg>

</body></html>
